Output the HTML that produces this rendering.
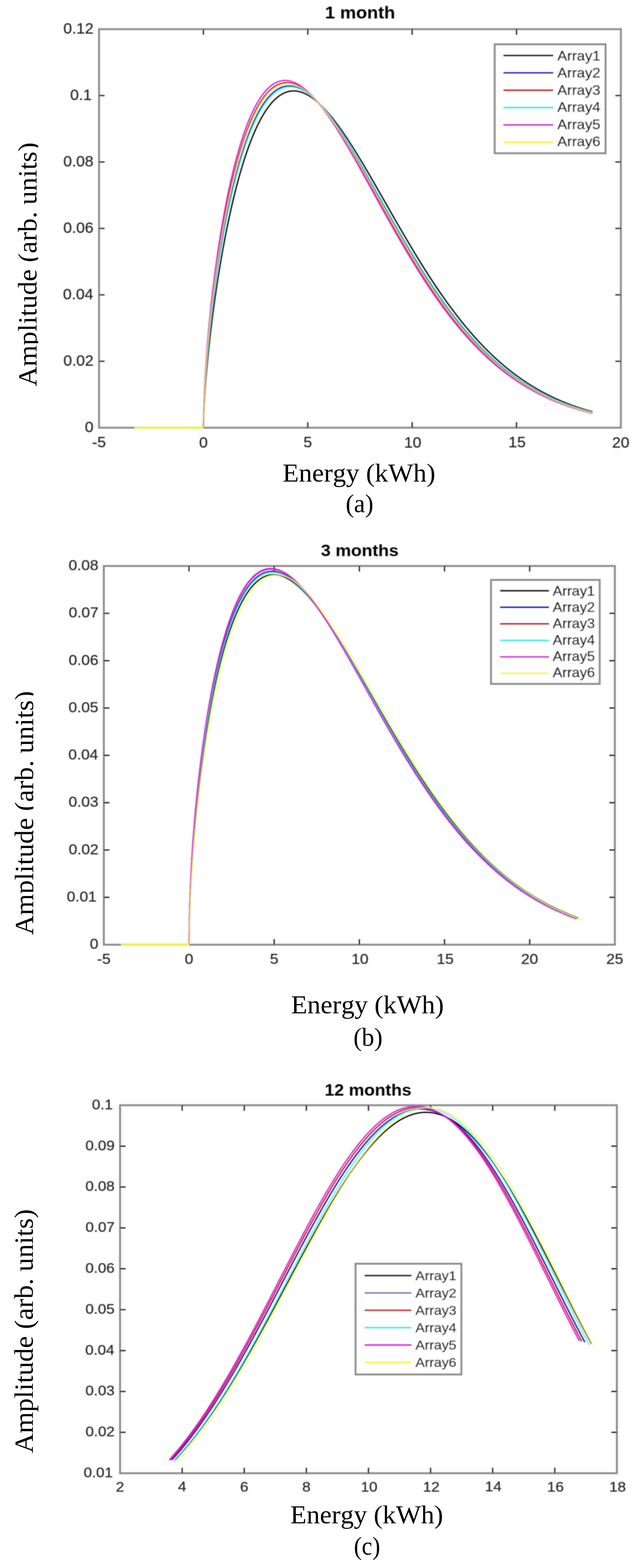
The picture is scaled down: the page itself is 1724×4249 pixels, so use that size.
<!DOCTYPE html>
<html><head><meta charset="utf-8"><title>Energy distribution plots</title>
<style>
html,body{margin:0;padding:0;background:#ffffff;}
svg{display:block;}
text{font-kerning:none;}
</style></head><body>
<svg width="1724" height="4249" viewBox="0 0 1724 4249">
<defs><clipPath id="c0"><rect x="264.5" y="73" width="1422.5" height="1090"/></clipPath><clipPath id="y1"><rect x="0" y="357.9" width="103.5" height="718.1"/></clipPath><clipPath id="c2"><rect x="277.5" y="1527.7" width="1393.2" height="1036.3"/></clipPath><clipPath id="y3"><rect x="0" y="1846" width="90.5" height="716.8"/></clipPath><clipPath id="c4"><rect x="321.4" y="2989" width="1354.8" height="1007.2"/></clipPath><filter id="bl" x="-1%" y="-1%" width="102%" height="102%"><feGaussianBlur stdDeviation="1.0"/></filter></defs>
<rect x="0" y="0" width="1724" height="4249" fill="#ffffff"/>
<g filter="url(#bl)">
<rect x="268.5" y="79" width="1414.5" height="1080" fill="none" stroke="#8c8c8c" stroke-width="5.2"/>
<path d="M551.4,1159 v-15 M551.4,79 v15 M834.3,1159 v-15 M834.3,79 v15 M1117.2,1159 v-15 M1117.2,79 v15 M1400.1,1159 v-15 M1400.1,79 v15 M268.5,979 h15 M1683,979 h-15 M268.5,799 h15 M1683,799 h-15 M268.5,619 h15 M1683,619 h-15 M268.5,439 h15 M1683,439 h-15 M268.5,259 h15 M1683,259 h-15" stroke="#141414" stroke-width="3.2" fill="none"/>
<g clip-path="url(#c0)" fill="none" stroke-width="3.4" stroke-linejoin="round" stroke-linecap="butt">
<path d="M551.4,1159 L551.4,1158.34 L551.41,1157.21 L551.42,1155.8 L551.44,1154.17 L551.47,1152.35 L551.5,1150.37 L551.54,1148.24 L551.59,1145.98 L551.65,1143.59 L551.72,1141.08 L551.79,1138.46 L551.87,1135.74 L551.96,1132.92 L552.06,1130 L552.17,1126.99 L552.29,1123.9 L552.42,1120.71 L552.55,1117.45 L552.7,1114.11 L552.86,1110.69 L553.02,1107.2 L553.2,1103.64 L553.38,1100 L553.57,1096.3 L553.78,1092.53 L553.99,1088.69 L554.22,1084.8 L554.45,1080.84 L554.7,1076.81 L554.95,1072.73 L555.22,1068.59 L555.5,1064.4 L555.78,1060.14 L556.08,1055.83 L556.39,1051.47 L556.71,1047.06 L557.04,1042.59 L557.38,1038.07 L557.73,1033.5 L558.09,1028.88 L558.46,1024.22 L558.85,1019.5 L559.25,1014.74 L559.65,1009.94 L560.07,1005.08 L560.5,1000.19 L560.94,995.25 L561.39,990.26 L561.86,985.24 L562.33,980.17 L562.82,975.06 L563.32,969.92 L563.83,964.73 L564.35,959.5 L564.88,954.24 L565.43,948.94 L565.98,943.6 L566.55,938.23 L567.13,932.82 L567.73,927.38 L568.33,921.9 L568.95,916.39 L569.58,910.85 L570.22,905.27 L570.87,899.66 L571.54,894.03 L572.21,888.36 L572.9,882.67 L573.6,876.94 L574.32,871.19 L575.04,865.41 L575.78,859.61 L576.53,853.78 L577.3,847.92 L578.07,842.04 L578.86,836.14 L579.66,830.22 L580.48,824.27 L581.31,818.3 L582.14,812.31 L583,806.3 L583.86,800.28 L584.74,794.23 L585.63,788.17 L586.53,782.09 L587.45,775.99 L588.38,769.88 L589.32,763.76 L590.27,757.62 L591.24,751.47 L592.22,745.31 L593.21,739.14 L594.22,732.96 L595.24,726.77 L596.27,720.57 L597.32,714.37 L598.37,708.16 L599.45,701.94 L600.53,695.72 L601.63,689.49 L602.74,683.27 L603.87,677.04 L605.01,670.81 L606.16,664.58 L607.32,658.36 L608.5,652.13 L609.69,645.91 L610.9,639.7 L612.12,633.49 L613.35,627.28 L614.59,621.09 L615.85,614.9 L617.13,608.72 L618.41,602.55 L619.71,596.4 L621.03,590.26 L622.35,584.13 L623.7,578.02 L625.05,571.93 L626.42,565.85 L627.8,559.79 L629.2,553.75 L630.61,547.74 L632.03,541.74 L633.47,535.77 L634.92,529.83 L636.38,523.91 L637.86,518.01 L639.36,512.15 L640.86,506.32 L642.38,500.51 L643.92,494.74 L645.47,489 L647.03,483.3 L648.61,477.63 L650.2,472.01 L651.8,466.41 L653.42,460.86 L655.06,455.35 L656.71,449.89 L658.37,444.46 L660.04,439.09 L661.73,433.75 L663.44,428.47 L665.16,423.24 L666.89,418.05 L668.64,412.92 L670.4,407.84 L672.18,402.82 L673.97,397.85 L675.77,392.93 L677.59,388.08 L679.42,383.28 L681.27,378.55 L683.13,373.88 L685.01,369.27 L686.9,364.73 L688.81,360.25 L690.73,355.84 L692.66,351.5 L694.61,347.23 L696.58,343.04 L698.56,338.91 L700.55,334.86 L702.56,330.88 L704.58,326.98 L706.62,323.16 L708.67,319.42 L710.74,315.75 L712.82,312.17 L714.92,308.67 L717.03,305.26 L719.15,301.93 L721.29,298.68 L723.45,295.53 L725.62,292.46 L727.8,289.48 L730,286.59 L732.22,283.8 L734.45,281.09 L736.69,278.48 L738.95,275.97 L741.23,273.55 L743.52,271.23 L745.82,269 L748.14,266.88 L750.48,264.85 L752.83,262.93 L755.19,261.11 L757.57,259.39 L759.97,257.77 L762.38,256.26 L764.8,254.85 L767.24,253.55 L769.7,252.35 L772.17,251.26 L774.65,250.28 L777.15,249.41 L779.67,248.64 L782.2,247.99 L784.75,247.44 L787.31,247.01 L789.88,246.69 L792.48,246.47 L795.08,246.37 L797.71,246.39 L800.34,246.51 L803,246.75 L805.67,247.1 L808.35,247.57 L811.05,248.14 L813.77,248.84 L816.5,249.64 L819.24,250.56 L822,251.59 L824.78,252.74 L827.57,254 L830.38,255.38 L833.2,256.87 L836.04,258.47 L838.9,260.19 L841.77,262.02 L844.65,263.96 L847.55,266.02 L850.47,268.18 L853.4,270.46 L856.35,272.86 L859.31,275.36 L862.29,277.97 L865.28,280.69 L868.29,283.52 L871.32,286.46 L874.36,289.51 L877.42,292.67 L880.49,295.93 L883.58,299.29 L886.69,302.77 L889.81,306.34 L892.94,310.02 L896.09,313.8 L899.26,317.68 L902.44,321.66 L905.64,325.74 L908.86,329.92 L912.09,334.19 L915.34,338.56 L918.6,343.02 L921.88,347.58 L925.17,352.23 L928.48,356.96 L931.81,361.79 L935.15,366.7 L938.51,371.7 L941.88,376.78 L945.27,381.94 L948.68,387.19 L952.1,392.51 L955.54,397.91 L958.99,403.39 L962.46,408.94 L965.95,414.57 L969.45,420.26 L972.97,426.03 L976.51,431.86 L980.06,437.75 L983.62,443.71 L987.21,449.74 L990.81,455.82 L994.42,461.96 L998.05,468.15 L1001.7,474.4 L1005.36,480.7 L1009.04,487.05 L1012.74,493.45 L1016.45,499.9 L1020.18,506.38 L1023.92,512.91 L1027.69,519.48 L1031.46,526.09 L1035.26,532.73 L1039.07,539.41 L1042.89,546.11 L1046.73,552.85 L1050.59,559.61 L1054.47,566.4 L1058.36,573.21 L1062.27,580.04 L1066.19,586.89 L1070.13,593.75 L1074.09,600.63 L1078.06,607.52 L1082.05,614.42 L1086.06,621.33 L1090.08,628.25 L1094.12,635.17 L1098.18,642.09 L1102.25,649.01 L1106.34,655.92 L1110.44,662.84 L1114.56,669.74 L1118.7,676.64 L1122.86,683.53 L1127.03,690.4 L1131.22,697.26 L1135.42,704.1 L1139.64,710.93 L1143.88,717.73 L1148.13,724.51 L1152.4,731.27 L1156.69,738.01 L1160.99,744.71 L1165.32,751.39 L1169.65,758.03 L1174.01,764.65 L1178.38,771.23 L1182.76,777.77 L1187.17,784.27 L1191.59,790.74 L1196.03,797.16 L1200.48,803.55 L1204.95,809.89 L1209.44,816.18 L1213.94,822.43 L1218.46,828.63 L1223,834.78 L1227.56,840.89 L1232.13,846.94 L1236.72,852.93 L1241.32,858.88 L1245.94,864.77 L1250.58,870.6 L1255.24,876.38 L1259.91,882.09 L1264.6,887.75 L1269.31,893.35 L1274.03,898.89 L1278.77,904.37 L1283.52,909.78 L1288.3,915.13 L1293.09,920.42 L1297.9,925.65 L1302.72,930.8 L1307.56,935.9 L1312.42,940.92 L1317.3,945.88 L1322.19,950.78 L1327.1,955.6 L1332.03,960.36 L1336.97,965.05 L1341.93,969.67 L1346.91,974.22 L1351.9,978.71 L1356.91,983.12 L1361.94,987.47 L1366.99,991.75 L1372.05,995.95 L1377.13,1000.09 L1382.23,1004.16 L1387.34,1008.16 L1392.47,1012.09 L1397.62,1015.95 L1402.79,1019.75 L1407.97,1023.47 L1413.17,1027.13 L1418.39,1030.71 L1423.62,1034.23 L1428.87,1037.69 L1434.14,1041.07 L1439.43,1044.39 L1444.73,1047.64 L1450.05,1050.83 L1455.39,1053.95 L1460.74,1057 L1466.12,1060 L1471.5,1062.92 L1476.91,1065.79 L1482.34,1068.59 L1487.78,1071.33 L1493.23,1074 L1498.71,1076.62 L1504.2,1079.18 L1509.71,1081.67 L1515.24,1084.11 L1520.79,1086.49 L1526.35,1088.81 L1531.93,1091.08 L1537.53,1093.28 L1543.14,1095.44 L1548.77,1097.54 L1554.42,1099.58 L1560.09,1101.57 L1565.77,1103.52 L1571.47,1105.4 L1577.19,1107.24 L1582.93,1109.03 L1588.68,1110.77 L1594.46,1112.46 L1600.24,1114.11 L1606.05,1115.71" stroke="#000000"/>
<path d="M551.4,1159 L551.4,1158.04 L551.41,1156.53 L551.42,1154.69 L551.44,1152.61 L551.47,1150.33 L551.5,1147.88 L551.54,1145.26 L551.59,1142.51 L551.65,1139.62 L551.72,1136.62 L551.79,1133.5 L551.87,1130.27 L551.96,1126.95 L552.06,1123.53 L552.17,1120.01 L552.29,1116.41 L552.42,1112.73 L552.55,1108.97 L552.7,1105.12 L552.86,1101.21 L553.02,1097.22 L553.2,1093.15 L553.38,1089.03 L553.57,1084.83 L553.78,1080.57 L553.99,1076.25 L554.22,1071.86 L554.45,1067.42 L554.7,1062.92 L554.95,1058.36 L555.22,1053.75 L555.5,1049.08 L555.78,1044.36 L556.08,1039.58 L556.39,1034.76 L556.71,1029.89 L557.04,1024.96 L557.38,1019.99 L557.73,1014.98 L558.09,1009.91 L558.46,1004.81 L558.85,999.65 L559.25,994.46 L559.65,989.22 L560.07,983.94 L560.5,978.63 L560.94,973.27 L561.39,967.87 L561.86,962.43 L562.33,956.96 L562.82,951.45 L563.32,945.9 L563.83,940.32 L564.35,934.7 L564.88,929.05 L565.43,923.37 L565.98,917.66 L566.55,911.91 L567.13,906.13 L567.73,900.33 L568.33,894.49 L568.95,888.63 L569.58,882.73 L570.22,876.81 L570.87,870.87 L571.54,864.9 L572.21,858.9 L572.9,852.88 L573.6,846.83 L574.32,840.77 L575.04,834.68 L575.78,828.57 L576.53,822.44 L577.3,816.29 L578.07,810.12 L578.86,803.93 L579.66,797.73 L580.48,791.51 L581.31,785.27 L582.14,779.02 L583,772.76 L583.86,766.48 L584.74,760.19 L585.63,753.89 L586.53,747.57 L587.45,741.25 L588.38,734.92 L589.32,728.58 L590.27,722.24 L591.24,715.88 L592.22,709.53 L593.21,703.16 L594.22,696.8 L595.24,690.43 L596.27,684.06 L597.32,677.69 L598.37,671.32 L599.45,664.95 L600.53,658.59 L601.63,652.22 L602.74,645.86 L603.87,639.51 L605.01,633.16 L606.16,626.82 L607.32,620.49 L608.5,614.17 L609.69,607.86 L610.9,601.56 L612.12,595.27 L613.35,589 L614.59,582.74 L615.85,576.5 L617.13,570.27 L618.41,564.07 L619.71,557.88 L621.03,551.71 L622.35,545.57 L623.7,539.45 L625.05,533.35 L626.42,527.27 L627.8,521.23 L629.2,515.21 L630.61,509.22 L632.03,503.26 L633.47,497.33 L634.92,491.43 L636.38,485.57 L637.86,479.74 L639.36,473.95 L640.86,468.2 L642.38,462.48 L643.92,456.81 L645.47,451.18 L647.03,445.59 L648.61,440.04 L650.2,434.54 L651.8,429.08 L653.42,423.67 L655.06,418.31 L656.71,413 L658.37,407.75 L660.04,402.54 L661.73,397.39 L663.44,392.3 L665.16,387.26 L666.89,382.28 L668.64,377.36 L670.4,372.5 L672.18,367.7 L673.97,362.97 L675.77,358.3 L677.59,353.69 L679.42,349.15 L681.27,344.68 L683.13,340.28 L685.01,335.96 L686.9,331.7 L688.81,327.52 L690.73,323.41 L692.66,319.37 L694.61,315.42 L696.58,311.54 L698.56,307.74 L700.55,304.03 L702.56,300.39 L704.58,296.84 L706.62,293.37 L708.67,289.99 L710.74,286.69 L712.82,283.48 L714.92,280.36 L717.03,277.33 L719.15,274.39 L721.29,271.54 L723.45,268.79 L725.62,266.13 L727.8,263.57 L730,261.1 L732.22,258.72 L734.45,256.45 L736.69,254.27 L738.95,252.2 L741.23,250.22 L743.52,248.35 L745.82,246.58 L748.14,244.91 L750.48,243.34 L752.83,241.88 L755.19,240.53 L757.57,239.28 L759.97,238.14 L762.38,237.1 L764.8,236.18 L767.24,235.36 L769.7,234.65 L772.17,234.05 L774.65,233.56 L777.15,233.18 L779.67,232.92 L782.2,232.76 L784.75,232.72 L787.31,232.79 L789.88,232.97 L792.48,233.26 L795.08,233.67 L797.71,234.19 L800.34,234.82 L803,235.56 L805.67,236.42 L808.35,237.4 L811.05,238.48 L813.77,239.68 L816.5,241 L819.24,242.42 L822,243.96 L824.78,245.62 L827.57,247.38 L830.38,249.26 L833.2,251.25 L836.04,253.35 L838.9,255.57 L841.77,257.89 L844.65,260.33 L847.55,262.87 L850.47,265.52 L853.4,268.29 L856.35,271.16 L859.31,274.14 L862.29,277.23 L865.28,280.42 L868.29,283.72 L871.32,287.12 L874.36,290.63 L877.42,294.23 L880.49,297.95 L883.58,301.76 L886.69,305.67 L889.81,309.68 L892.94,313.79 L896.09,317.99 L899.26,322.29 L902.44,326.69 L905.64,331.17 L908.86,335.75 L912.09,340.42 L915.34,345.18 L918.6,350.02 L921.88,354.95 L925.17,359.97 L928.48,365.07 L931.81,370.25 L935.15,375.51 L938.51,380.85 L941.88,386.26 L945.27,391.75 L948.68,397.32 L952.1,402.95 L955.54,408.66 L958.99,414.43 L962.46,420.27 L965.95,426.18 L969.45,432.15 L972.97,438.18 L976.51,444.27 L980.06,450.41 L983.62,456.61 L987.21,462.87 L990.81,469.17 L994.42,475.53 L998.05,481.93 L1001.7,488.38 L1005.36,494.87 L1009.04,501.41 L1012.74,507.98 L1016.45,514.59 L1020.18,521.23 L1023.92,527.91 L1027.69,534.62 L1031.46,541.36 L1035.26,548.13 L1039.07,554.92 L1042.89,561.74 L1046.73,568.57 L1050.59,575.43 L1054.47,582.3 L1058.36,589.18 L1062.27,596.08 L1066.19,602.99 L1070.13,609.91 L1074.09,616.83 L1078.06,623.76 L1082.05,630.69 L1086.06,637.62 L1090.08,644.55 L1094.12,651.47 L1098.18,658.39 L1102.25,665.3 L1106.34,672.21 L1110.44,679.1 L1114.56,685.97 L1118.7,692.84 L1122.86,699.68 L1127.03,706.51 L1131.22,713.31 L1135.42,720.09 L1139.64,726.85 L1143.88,733.58 L1148.13,740.29 L1152.4,746.96 L1156.69,753.61 L1160.99,760.22 L1165.32,766.79 L1169.65,773.33 L1174.01,779.84 L1178.38,786.3 L1182.76,792.72 L1187.17,799.1 L1191.59,805.44 L1196.03,811.74 L1200.48,817.98 L1204.95,824.18 L1209.44,830.33 L1213.94,836.44 L1218.46,842.49 L1223,848.48 L1227.56,854.43 L1232.13,860.32 L1236.72,866.15 L1241.32,871.93 L1245.94,877.65 L1250.58,883.32 L1255.24,888.92 L1259.91,894.47 L1264.6,899.95 L1269.31,905.37 L1274.03,910.73 L1278.77,916.03 L1283.52,921.26 L1288.3,926.43 L1293.09,931.53 L1297.9,936.57 L1302.72,941.55 L1307.56,946.45 L1312.42,951.3 L1317.3,956.07 L1322.19,960.78 L1327.1,965.42 L1332.03,969.99 L1336.97,974.49 L1341.93,978.93 L1346.91,983.3 L1351.9,987.6 L1356.91,991.83 L1361.94,995.99 L1366.99,1000.09 L1372.05,1004.12 L1377.13,1008.07 L1382.23,1011.97 L1387.34,1015.79 L1392.47,1019.54 L1397.62,1023.23 L1402.79,1026.85 L1407.97,1030.4 L1413.17,1033.89 L1418.39,1037.31 L1423.62,1040.67 L1428.87,1043.96 L1434.14,1047.18 L1439.43,1050.34 L1444.73,1053.43 L1450.05,1056.46 L1455.39,1059.43 L1460.74,1062.33 L1466.12,1065.18 L1471.5,1067.96 L1476.91,1070.68 L1482.34,1073.34 L1487.78,1075.94 L1493.23,1078.48 L1498.71,1080.96 L1504.2,1083.38 L1509.71,1085.75 L1515.24,1088.06 L1520.79,1090.31 L1526.35,1092.51 L1531.93,1094.66 L1537.53,1096.75 L1543.14,1098.79 L1548.77,1100.78 L1554.42,1102.71 L1560.09,1104.6 L1565.77,1106.43 L1571.47,1108.22 L1577.19,1109.96 L1582.93,1111.65 L1588.68,1113.29 L1594.46,1114.89 L1600.24,1116.45 L1606.05,1117.96" stroke="#0707c7"/>
<path d="M551.4,1159 L551.4,1157.81 L551.41,1156 L551.42,1153.85 L551.44,1151.45 L551.47,1148.84 L551.5,1146.05 L551.54,1143.1 L551.59,1140 L551.65,1136.78 L551.72,1133.43 L551.79,1129.97 L551.87,1126.41 L551.96,1122.74 L552.06,1118.98 L552.17,1115.13 L552.29,1111.2 L552.42,1107.18 L552.55,1103.08 L552.7,1098.91 L552.86,1094.66 L553.02,1090.35 L553.2,1085.96 L553.38,1081.51 L553.57,1077 L553.78,1072.42 L553.99,1067.78 L554.22,1063.08 L554.45,1058.33 L554.7,1053.52 L554.95,1048.65 L555.22,1043.74 L555.5,1038.77 L555.78,1033.75 L556.08,1028.68 L556.39,1023.56 L556.71,1018.4 L557.04,1013.19 L557.38,1007.93 L557.73,1002.63 L558.09,997.29 L558.46,991.91 L558.85,986.48 L559.25,981.01 L559.65,975.51 L560.07,969.96 L560.5,964.38 L560.94,958.76 L561.39,953.11 L561.86,947.42 L562.33,941.69 L562.82,935.93 L563.32,930.14 L563.83,924.32 L564.35,918.46 L564.88,912.58 L565.43,906.66 L565.98,900.72 L566.55,894.74 L567.13,888.74 L567.73,882.71 L568.33,876.66 L568.95,870.58 L569.58,864.48 L570.22,858.35 L570.87,852.2 L571.54,846.03 L572.21,839.83 L572.9,833.62 L573.6,827.38 L574.32,821.13 L575.04,814.86 L575.78,808.57 L576.53,802.26 L577.3,795.94 L578.07,789.6 L578.86,783.25 L579.66,776.88 L580.48,770.5 L581.31,764.11 L582.14,757.71 L583,751.3 L583.86,744.87 L584.74,738.44 L585.63,732.01 L586.53,725.56 L587.45,719.11 L588.38,712.66 L589.32,706.2 L590.27,699.74 L591.24,693.27 L592.22,686.81 L593.21,680.34 L594.22,673.87 L595.24,667.41 L596.27,660.95 L597.32,654.49 L598.37,648.04 L599.45,641.59 L600.53,635.15 L601.63,628.72 L602.74,622.29 L603.87,615.88 L605.01,609.47 L606.16,603.08 L607.32,596.7 L608.5,590.33 L609.69,583.98 L610.9,577.65 L612.12,571.33 L613.35,565.03 L614.59,558.75 L615.85,552.49 L617.13,546.26 L618.41,540.04 L619.71,533.85 L621.03,527.69 L622.35,521.55 L623.7,515.44 L625.05,509.35 L626.42,503.3 L627.8,497.28 L629.2,491.29 L630.61,485.34 L632.03,479.42 L633.47,473.53 L634.92,467.68 L636.38,461.87 L637.86,456.11 L639.36,450.38 L640.86,444.69 L642.38,439.05 L643.92,433.45 L645.47,427.9 L647.03,422.4 L648.61,416.94 L650.2,411.54 L651.8,406.18 L653.42,400.88 L655.06,395.63 L656.71,390.44 L658.37,385.3 L660.04,380.22 L661.73,375.2 L663.44,370.24 L665.16,365.34 L666.89,360.51 L668.64,355.74 L670.4,351.03 L672.18,346.39 L673.97,341.81 L675.77,337.31 L677.59,332.88 L679.42,328.51 L681.27,324.22 L683.13,320.01 L685.01,315.87 L686.9,311.8 L688.81,307.82 L690.73,303.91 L692.66,300.08 L694.61,296.33 L696.58,292.67 L698.56,289.09 L700.55,285.59 L702.56,282.18 L704.58,278.85 L706.62,275.62 L708.67,272.47 L710.74,269.41 L712.82,266.45 L714.92,263.57 L717.03,260.79 L719.15,258.11 L721.29,255.51 L723.45,253.02 L725.62,250.62 L727.8,248.32 L730,246.12 L732.22,244.02 L734.45,242.02 L736.69,240.12 L738.95,238.32 L741.23,236.63 L743.52,235.04 L745.82,233.55 L748.14,232.17 L750.48,230.9 L752.83,229.73 L755.19,228.67 L757.57,227.72 L759.97,226.88 L762.38,226.14 L764.8,225.52 L767.24,225 L769.7,224.6 L772.17,224.3 L774.65,224.12 L777.15,224.05 L779.67,224.09 L782.2,224.25 L784.75,224.51 L787.31,224.89 L789.88,225.38 L792.48,225.99 L795.08,226.7 L797.71,227.53 L800.34,228.48 L803,229.53 L805.67,230.71 L808.35,231.99 L811.05,233.39 L813.77,234.9 L816.5,236.52 L819.24,238.25 L822,240.1 L824.78,242.06 L827.57,244.13 L830.38,246.31 L833.2,248.6 L836.04,251.01 L838.9,253.52 L841.77,256.14 L844.65,258.87 L847.55,261.71 L850.47,264.66 L853.4,267.71 L856.35,270.87 L859.31,274.13 L862.29,277.5 L865.28,280.98 L868.29,284.55 L871.32,288.23 L874.36,292 L877.42,295.88 L880.49,299.86 L883.58,303.93 L886.69,308.1 L889.81,312.37 L892.94,316.73 L896.09,321.18 L899.26,325.72 L902.44,330.36 L905.64,335.08 L908.86,339.89 L912.09,344.79 L915.34,349.77 L918.6,354.84 L921.88,359.99 L925.17,365.22 L928.48,370.52 L931.81,375.91 L935.15,381.37 L938.51,386.9 L941.88,392.51 L945.27,398.18 L948.68,403.93 L952.1,409.74 L955.54,415.62 L958.99,421.56 L962.46,427.56 L965.95,433.63 L969.45,439.75 L972.97,445.92 L976.51,452.16 L980.06,458.44 L983.62,464.77 L987.21,471.16 L990.81,477.58 L994.42,484.06 L998.05,490.57 L1001.7,497.13 L1005.36,503.72 L1009.04,510.35 L1012.74,517.02 L1016.45,523.72 L1020.18,530.45 L1023.92,537.2 L1027.69,543.98 L1031.46,550.79 L1035.26,557.62 L1039.07,564.47 L1042.89,571.34 L1046.73,578.22 L1050.59,585.12 L1054.47,592.03 L1058.36,598.95 L1062.27,605.87 L1066.19,612.81 L1070.13,619.74 L1074.09,626.68 L1078.06,633.62 L1082.05,640.56 L1086.06,647.49 L1090.08,654.42 L1094.12,661.33 L1098.18,668.24 L1102.25,675.14 L1106.34,682.02 L1110.44,688.89 L1114.56,695.74 L1118.7,702.57 L1122.86,709.38 L1127.03,716.17 L1131.22,722.93 L1135.42,729.67 L1139.64,736.38 L1143.88,743.06 L1148.13,749.71 L1152.4,756.33 L1156.69,762.91 L1160.99,769.46 L1165.32,775.97 L1169.65,782.44 L1174.01,788.87 L1178.38,795.25 L1182.76,801.6 L1187.17,807.9 L1191.59,814.15 L1196.03,820.36 L1200.48,826.52 L1204.95,832.63 L1209.44,838.69 L1213.94,844.7 L1218.46,850.66 L1223,856.56 L1227.56,862.41 L1232.13,868.2 L1236.72,873.93 L1241.32,879.61 L1245.94,885.22 L1250.58,890.78 L1255.24,896.28 L1259.91,901.72 L1264.6,907.09 L1269.31,912.41 L1274.03,917.66 L1278.77,922.85 L1283.52,927.97 L1288.3,933.03 L1293.09,938.02 L1297.9,942.95 L1302.72,947.81 L1307.56,952.61 L1312.42,957.34 L1317.3,962 L1322.19,966.6 L1327.1,971.12 L1332.03,975.59 L1336.97,979.98 L1341.93,984.31 L1346.91,988.56 L1351.9,992.75 L1356.91,996.88 L1361.94,1000.93 L1366.99,1004.92 L1372.05,1008.84 L1377.13,1012.69 L1382.23,1016.48 L1387.34,1020.2 L1392.47,1023.85 L1397.62,1027.43 L1402.79,1030.95 L1407.97,1034.4 L1413.17,1037.79 L1418.39,1041.11 L1423.62,1044.37 L1428.87,1047.56 L1434.14,1050.69 L1439.43,1053.76 L1444.73,1056.76 L1450.05,1059.7 L1455.39,1062.58 L1460.74,1065.4 L1466.12,1068.15 L1471.5,1070.85 L1476.91,1073.48 L1482.34,1076.06 L1487.78,1078.58 L1493.23,1081.04 L1498.71,1083.44 L1504.2,1085.79 L1509.71,1088.08 L1515.24,1090.32 L1520.79,1092.5 L1526.35,1094.63 L1531.93,1096.7 L1537.53,1098.73 L1543.14,1100.7 L1548.77,1102.62 L1554.42,1104.49 L1560.09,1106.32 L1565.77,1108.09 L1571.47,1109.82 L1577.19,1111.5 L1582.93,1113.14 L1588.68,1114.73 L1594.46,1116.27 L1600.24,1117.78 L1606.05,1119.24" stroke="#d21313"/>
<path d="M551.4,1159 L551.4,1158.11 L551.41,1156.68 L551.42,1154.94 L551.44,1152.96 L551.47,1150.78 L551.5,1148.43 L551.54,1145.92 L551.59,1143.27 L551.65,1140.49 L551.72,1137.59 L551.79,1134.58 L551.87,1131.46 L551.96,1128.24 L552.06,1124.93 L552.17,1121.52 L552.29,1118.03 L552.42,1114.45 L552.55,1110.79 L552.7,1107.05 L552.86,1103.24 L553.02,1099.35 L553.2,1095.4 L553.38,1091.37 L553.57,1087.28 L553.78,1083.12 L553.99,1078.9 L554.22,1074.61 L554.45,1070.27 L554.7,1065.87 L554.95,1061.41 L555.22,1056.89 L555.5,1052.32 L555.78,1047.7 L556.08,1043.02 L556.39,1038.29 L556.71,1033.51 L557.04,1028.68 L557.38,1023.81 L557.73,1018.88 L558.09,1013.91 L558.46,1008.89 L558.85,1003.83 L559.25,998.72 L559.65,993.57 L560.07,988.38 L560.5,983.15 L560.94,977.88 L561.39,972.56 L561.86,967.21 L562.33,961.82 L562.82,956.39 L563.32,950.92 L563.83,945.42 L564.35,939.89 L564.88,934.31 L565.43,928.71 L565.98,923.07 L566.55,917.4 L567.13,911.7 L567.73,905.96 L568.33,900.2 L568.95,894.4 L569.58,888.58 L570.22,882.73 L570.87,876.85 L571.54,870.95 L572.21,865.02 L572.9,859.06 L573.6,853.08 L574.32,847.08 L575.04,841.05 L575.78,835 L576.53,828.93 L577.3,822.84 L578.07,816.73 L578.86,810.6 L579.66,804.45 L580.48,798.28 L581.31,792.1 L582.14,785.9 L583,779.68 L583.86,773.46 L584.74,767.21 L585.63,760.96 L586.53,754.69 L587.45,748.41 L588.38,742.12 L589.32,735.83 L590.27,729.52 L591.24,723.21 L592.22,716.89 L593.21,710.56 L594.22,704.23 L595.24,697.9 L596.27,691.56 L597.32,685.22 L598.37,678.88 L599.45,672.54 L600.53,666.2 L601.63,659.87 L602.74,653.53 L603.87,647.2 L605.01,640.87 L606.16,634.56 L607.32,628.24 L608.5,621.94 L609.69,615.64 L610.9,609.36 L612.12,603.08 L613.35,596.82 L614.59,590.57 L615.85,584.34 L617.13,578.12 L618.41,571.92 L619.71,565.74 L621.03,559.57 L622.35,553.43 L623.7,547.3 L625.05,541.2 L626.42,535.13 L627.8,529.08 L629.2,523.05 L630.61,517.05 L632.03,511.08 L633.47,505.14 L634.92,499.23 L636.38,493.36 L637.86,487.51 L639.36,481.7 L640.86,475.93 L642.38,470.19 L643.92,464.5 L645.47,458.84 L647.03,453.22 L648.61,447.65 L650.2,442.12 L651.8,436.63 L653.42,431.19 L655.06,425.8 L656.71,420.46 L658.37,415.16 L660.04,409.92 L661.73,404.73 L663.44,399.59 L665.16,394.51 L666.89,389.49 L668.64,384.52 L670.4,379.61 L672.18,374.77 L673.97,369.98 L675.77,365.26 L677.59,360.6 L679.42,356.01 L681.27,351.48 L683.13,347.03 L685.01,342.64 L686.9,338.32 L688.81,334.08 L690.73,329.9 L692.66,325.81 L694.61,321.78 L696.58,317.84 L698.56,313.97 L700.55,310.18 L702.56,306.48 L704.58,302.85 L706.62,299.31 L708.67,295.85 L710.74,292.48 L712.82,289.19 L714.92,285.99 L717.03,282.88 L719.15,279.86 L721.29,276.93 L723.45,274.1 L725.62,271.35 L727.8,268.7 L730,266.14 L732.22,263.68 L734.45,261.32 L736.69,259.06 L738.95,256.89 L741.23,254.82 L743.52,252.86 L745.82,250.99 L748.14,249.23 L750.48,247.57 L752.83,246.02 L755.19,244.57 L757.57,243.22 L759.97,241.98 L762.38,240.85 L764.8,239.82 L767.24,238.91 L769.7,238.1 L772.17,237.4 L774.65,236.81 L777.15,236.33 L779.67,235.96 L782.2,235.71 L784.75,235.56 L787.31,235.53 L789.88,235.6 L792.48,235.8 L795.08,236.1 L797.71,236.52 L800.34,237.05 L803,237.69 L805.67,238.45 L808.35,239.32 L811.05,240.3 L813.77,241.4 L816.5,242.61 L819.24,243.93 L822,245.37 L824.78,246.92 L827.57,248.59 L830.38,250.36 L833.2,252.25 L836.04,254.26 L838.9,256.37 L841.77,258.6 L844.65,260.93 L847.55,263.38 L850.47,265.94 L853.4,268.6 L856.35,271.38 L859.31,274.26 L862.29,277.26 L865.28,280.35 L868.29,283.56 L871.32,286.87 L874.36,290.28 L877.42,293.8 L880.49,297.43 L883.58,301.15 L886.69,304.97 L889.81,308.9 L892.94,312.92 L896.09,317.04 L899.26,321.26 L902.44,325.57 L905.64,329.98 L908.86,334.48 L912.09,339.07 L915.34,343.75 L918.6,348.52 L921.88,353.37 L925.17,358.32 L928.48,363.35 L931.81,368.46 L935.15,373.65 L938.51,378.92 L941.88,384.27 L945.27,389.7 L948.68,395.2 L952.1,400.78 L955.54,406.42 L958.99,412.14 L962.46,417.92 L965.95,423.78 L969.45,429.69 L972.97,435.67 L976.51,441.71 L980.06,447.81 L983.62,453.96 L987.21,460.17 L990.81,466.43 L994.42,472.75 L998.05,479.11 L1001.7,485.52 L1005.36,491.98 L1009.04,498.48 L1012.74,505.02 L1016.45,511.6 L1020.18,518.21 L1023.92,524.86 L1027.69,531.55 L1031.46,538.26 L1035.26,545.01 L1039.07,551.78 L1042.89,558.57 L1046.73,565.39 L1050.59,572.23 L1054.47,579.08 L1058.36,585.96 L1062.27,592.84 L1066.19,599.74 L1070.13,606.65 L1074.09,613.57 L1078.06,620.49 L1082.05,627.41 L1086.06,634.34 L1090.08,641.27 L1094.12,648.2 L1098.18,655.12 L1102.25,662.03 L1106.34,668.94 L1110.44,675.84 L1114.56,682.72 L1118.7,689.59 L1122.86,696.45 L1127.03,703.28 L1131.22,710.1 L1135.42,716.9 L1139.64,723.67 L1143.88,730.42 L1148.13,737.14 L1152.4,743.83 L1156.69,750.5 L1160.99,757.13 L1165.32,763.72 L1169.65,770.29 L1174.01,776.81 L1178.38,783.3 L1182.76,789.75 L1187.17,796.16 L1191.59,802.52 L1196.03,808.84 L1200.48,815.12 L1204.95,821.34 L1209.44,827.52 L1213.94,833.66 L1218.46,839.74 L1223,845.77 L1227.56,851.74 L1232.13,857.67 L1236.72,863.54 L1241.32,869.35 L1245.94,875.1 L1250.58,880.8 L1255.24,886.44 L1259.91,892.02 L1264.6,897.54 L1269.31,903 L1274.03,908.39 L1278.77,913.72 L1283.52,918.99 L1288.3,924.2 L1293.09,929.34 L1297.9,934.42 L1302.72,939.43 L1307.56,944.37 L1312.42,949.25 L1317.3,954.06 L1322.19,958.81 L1327.1,963.48 L1332.03,968.09 L1336.97,972.64 L1341.93,977.11 L1346.91,981.51 L1351.9,985.85 L1356.91,990.12 L1361.94,994.32 L1366.99,998.45 L1372.05,1002.51 L1377.13,1006.51 L1382.23,1010.43 L1387.34,1014.29 L1392.47,1018.08 L1397.62,1021.8 L1402.79,1025.46 L1407.97,1029.04 L1413.17,1032.57 L1418.39,1036.02 L1423.62,1039.41 L1428.87,1042.73 L1434.14,1045.98 L1439.43,1049.17 L1444.73,1052.3 L1450.05,1055.36 L1455.39,1058.36 L1460.74,1061.29 L1466.12,1064.16 L1471.5,1066.97 L1476.91,1069.72 L1482.34,1072.41 L1487.78,1075.04 L1493.23,1077.6 L1498.71,1080.11 L1504.2,1082.56 L1509.71,1084.95 L1515.24,1087.29 L1520.79,1089.57 L1526.35,1091.79 L1531.93,1093.96 L1537.53,1096.07 L1543.14,1098.13 L1548.77,1100.14 L1554.42,1102.1 L1560.09,1104.01 L1565.77,1105.86 L1571.47,1107.67 L1577.19,1109.43 L1582.93,1111.14 L1588.68,1112.8 L1594.46,1114.42 L1600.24,1115.99 L1606.05,1117.52" stroke="#2decec" stroke-opacity="0.75"/>
<path d="M551.4,1159 L551.4,1157.62 L551.41,1155.59 L551.42,1153.21 L551.44,1150.56 L551.47,1147.71 L551.5,1144.67 L551.54,1141.47 L551.59,1138.13 L551.65,1134.66 L551.72,1131.06 L551.79,1127.36 L551.87,1123.55 L551.96,1119.64 L552.06,1115.64 L552.17,1111.55 L552.29,1107.38 L552.42,1103.12 L552.55,1098.79 L552.7,1094.38 L552.86,1089.91 L553.02,1085.36 L553.2,1080.75 L553.38,1076.07 L553.57,1071.33 L553.78,1066.53 L553.99,1061.67 L554.22,1056.76 L554.45,1051.79 L554.7,1046.76 L554.95,1041.69 L555.22,1036.56 L555.5,1031.38 L555.78,1026.16 L556.08,1020.88 L556.39,1015.56 L556.71,1010.2 L557.04,1004.79 L557.38,999.34 L557.73,993.85 L558.09,988.31 L558.46,982.74 L558.85,977.12 L559.25,971.47 L559.65,965.78 L560.07,960.06 L560.5,954.3 L560.94,948.5 L561.39,942.67 L561.86,936.81 L562.33,930.91 L562.82,924.99 L563.32,919.03 L563.83,913.04 L564.35,907.03 L564.88,900.98 L565.43,894.91 L565.98,888.81 L566.55,882.69 L567.13,876.54 L567.73,870.36 L568.33,864.16 L568.95,857.94 L569.58,851.7 L570.22,845.43 L570.87,839.15 L571.54,832.84 L572.21,826.51 L572.9,820.17 L573.6,813.81 L574.32,807.43 L575.04,801.04 L575.78,794.63 L576.53,788.21 L577.3,781.77 L578.07,775.32 L578.86,768.86 L579.66,762.39 L580.48,755.91 L581.31,749.42 L582.14,742.92 L583,736.41 L583.86,729.9 L584.74,723.38 L585.63,716.85 L586.53,710.32 L587.45,703.79 L588.38,697.26 L589.32,690.72 L590.27,684.19 L591.24,677.65 L592.22,671.12 L593.21,664.59 L594.22,658.06 L595.24,651.54 L596.27,645.02 L597.32,638.51 L598.37,632.01 L599.45,625.52 L600.53,619.03 L601.63,612.56 L602.74,606.09 L603.87,599.64 L605.01,593.21 L606.16,586.79 L607.32,580.38 L608.5,573.99 L609.69,567.62 L610.9,561.27 L612.12,554.94 L613.35,548.63 L614.59,542.35 L615.85,536.08 L617.13,529.85 L618.41,523.63 L619.71,517.45 L621.03,511.29 L622.35,505.17 L623.7,499.07 L625.05,493.01 L626.42,486.98 L627.8,480.98 L629.2,475.02 L630.61,469.1 L632.03,463.21 L633.47,457.36 L634.92,451.56 L636.38,445.79 L637.86,440.07 L639.36,434.39 L640.86,428.76 L642.38,423.18 L643.92,417.64 L645.47,412.15 L647.03,406.72 L648.61,401.33 L650.2,396 L651.8,390.72 L653.42,385.5 L655.06,380.34 L656.71,375.23 L658.37,370.18 L660.04,365.19 L661.73,360.27 L663.44,355.41 L665.16,350.61 L666.89,345.88 L668.64,341.21 L670.4,336.62 L672.18,332.09 L673.97,327.63 L675.77,323.25 L677.59,318.94 L679.42,314.7 L681.27,310.54 L683.13,306.46 L685.01,302.45 L686.9,298.52 L688.81,294.68 L690.73,290.91 L692.66,287.23 L694.61,283.63 L696.58,280.11 L698.56,276.68 L700.55,273.34 L702.56,270.09 L704.58,266.93 L706.62,263.85 L708.67,260.87 L710.74,257.98 L712.82,255.18 L714.92,252.48 L717.03,249.88 L719.15,247.37 L721.29,244.95 L723.45,242.64 L725.62,240.42 L727.8,238.31 L730,236.29 L732.22,234.38 L734.45,232.57 L736.69,230.86 L738.95,229.25 L741.23,227.75 L743.52,226.36 L745.82,225.07 L748.14,223.89 L750.48,222.82 L752.83,221.85 L755.19,220.99 L757.57,220.24 L759.97,219.6 L762.38,219.07 L764.8,218.65 L767.24,218.35 L769.7,218.15 L772.17,218.06 L774.65,218.09 L777.15,218.23 L779.67,218.48 L782.2,218.84 L784.75,219.32 L787.31,219.9 L789.88,220.61 L792.48,221.42 L795.08,222.35 L797.71,223.39 L800.34,224.54 L803,225.81 L805.67,227.19 L808.35,228.68 L811.05,230.29 L813.77,232.01 L816.5,233.84 L819.24,235.78 L822,237.83 L824.78,240 L827.57,242.27 L830.38,244.66 L833.2,247.15 L836.04,249.75 L838.9,252.47 L841.77,255.29 L844.65,258.21 L847.55,261.25 L850.47,264.39 L853.4,267.63 L856.35,270.98 L859.31,274.44 L862.29,277.99 L865.28,281.65 L868.29,285.41 L871.32,289.26 L874.36,293.22 L877.42,297.27 L880.49,301.43 L883.58,305.67 L886.69,310.01 L889.81,314.44 L892.94,318.97 L896.09,323.58 L899.26,328.29 L902.44,333.08 L905.64,337.96 L908.86,342.92 L912.09,347.97 L915.34,353.1 L918.6,358.31 L921.88,363.6 L925.17,368.96 L928.48,374.41 L931.81,379.92 L935.15,385.51 L938.51,391.17 L941.88,396.9 L945.27,402.69 L948.68,408.56 L952.1,414.48 L955.54,420.47 L958.99,426.52 L962.46,432.62 L965.95,438.79 L969.45,445 L972.97,451.27 L976.51,457.6 L980.06,463.97 L983.62,470.38 L987.21,476.84 L990.81,483.35 L994.42,489.9 L998.05,496.48 L1001.7,503.1 L1005.36,509.76 L1009.04,516.45 L1012.74,523.17 L1016.45,529.93 L1020.18,536.7 L1023.92,543.51 L1027.69,550.33 L1031.46,557.18 L1035.26,564.04 L1039.07,570.93 L1042.89,577.82 L1046.73,584.73 L1050.59,591.66 L1054.47,598.59 L1058.36,605.52 L1062.27,612.46 L1066.19,619.41 L1070.13,626.35 L1074.09,633.3 L1078.06,640.24 L1082.05,647.18 L1086.06,654.1 L1090.08,661.02 L1094.12,667.93 L1098.18,674.83 L1102.25,681.71 L1106.34,688.58 L1110.44,695.43 L1114.56,702.26 L1118.7,709.07 L1122.86,715.85 L1127.03,722.61 L1131.22,729.34 L1135.42,736.04 L1139.64,742.72 L1143.88,749.36 L1148.13,755.97 L1152.4,762.54 L1156.69,769.08 L1160.99,775.58 L1165.32,782.04 L1169.65,788.47 L1174.01,794.84 L1178.38,801.18 L1182.76,807.47 L1187.17,813.72 L1191.59,819.91 L1196.03,826.06 L1200.48,832.16 L1204.95,838.21 L1209.44,844.21 L1213.94,850.15 L1218.46,856.04 L1223,861.88 L1227.56,867.66 L1232.13,873.38 L1236.72,879.05 L1241.32,884.66 L1245.94,890.2 L1250.58,895.69 L1255.24,901.12 L1259.91,906.48 L1264.6,911.79 L1269.31,917.03 L1274.03,922.2 L1278.77,927.32 L1283.52,932.37 L1288.3,937.35 L1293.09,942.27 L1297.9,947.12 L1302.72,951.91 L1307.56,956.63 L1312.42,961.29 L1317.3,965.88 L1322.19,970.4 L1327.1,974.85 L1332.03,979.24 L1336.97,983.56 L1341.93,987.81 L1346.91,992 L1351.9,996.12 L1356.91,1000.17 L1361.94,1004.15 L1366.99,1008.07 L1372.05,1011.92 L1377.13,1015.7 L1382.23,1019.41 L1387.34,1023.06 L1392.47,1026.65 L1397.62,1030.17 L1402.79,1033.62 L1407.97,1037 L1413.17,1040.33 L1418.39,1043.58 L1423.62,1046.78 L1428.87,1049.91 L1434.14,1052.97 L1439.43,1055.98 L1444.73,1058.92 L1450.05,1061.8 L1455.39,1064.62 L1460.74,1067.38 L1466.12,1070.08 L1471.5,1072.72 L1476.91,1075.3 L1482.34,1077.82 L1487.78,1080.29 L1493.23,1082.7 L1498.71,1085.05 L1504.2,1087.35 L1509.71,1089.59 L1515.24,1091.78 L1520.79,1093.91 L1526.35,1095.99 L1531.93,1098.03 L1537.53,1100.01 L1543.14,1101.93 L1548.77,1103.81 L1554.42,1105.65 L1560.09,1107.43 L1565.77,1109.17 L1571.47,1110.86 L1577.19,1112.5 L1582.93,1114.1 L1588.68,1115.65 L1594.46,1117.17 L1600.24,1118.63 L1606.05,1120.06" stroke="#da1ada"/>
<path d="M551.4,1159 L551.4,1157.91 L551.41,1156.22 L551.42,1154.21 L551.44,1151.94 L551.47,1149.47 L551.5,1146.81 L551.54,1144 L551.59,1141.05 L551.65,1137.96 L551.72,1134.76 L551.79,1131.44 L551.87,1128.01 L551.96,1124.49 L552.06,1120.86 L552.17,1117.15 L552.29,1113.35 L552.42,1109.47 L552.55,1105.51 L552.7,1101.47 L552.86,1097.36 L553.02,1093.18 L553.2,1088.93 L553.38,1084.61 L553.57,1080.22 L553.78,1075.77 L553.99,1071.26 L554.22,1066.69 L554.45,1062.07 L554.7,1057.38 L554.95,1052.64 L555.22,1047.85 L555.5,1043 L555.78,1038.1 L556.08,1033.15 L556.39,1028.15 L556.71,1023.11 L557.04,1018.01 L557.38,1012.87 L557.73,1007.69 L558.09,1002.46 L558.46,997.18 L558.85,991.87 L559.25,986.51 L559.65,981.12 L560.07,975.68 L560.5,970.2 L560.94,964.69 L561.39,959.14 L561.86,953.55 L562.33,947.92 L562.82,942.27 L563.32,936.57 L563.83,930.85 L564.35,925.09 L564.88,919.3 L565.43,913.47 L565.98,907.62 L566.55,901.74 L567.13,895.83 L567.73,889.89 L568.33,883.92 L568.95,877.93 L569.58,871.91 L570.22,865.87 L570.87,859.8 L571.54,853.7 L572.21,847.59 L572.9,841.45 L573.6,835.29 L574.32,829.11 L575.04,822.91 L575.78,816.7 L576.53,810.46 L577.3,804.2 L578.07,797.93 L578.86,791.65 L579.66,785.35 L580.48,779.03 L581.31,772.7 L582.14,766.36 L583,760 L583.86,753.64 L584.74,747.26 L585.63,740.88 L586.53,734.49 L587.45,728.09 L588.38,721.68 L589.32,715.27 L590.27,708.85 L591.24,702.43 L592.22,696.01 L593.21,689.58 L594.22,683.16 L595.24,676.73 L596.27,670.3 L597.32,663.88 L598.37,657.46 L599.45,651.04 L600.53,644.63 L601.63,638.22 L602.74,631.82 L603.87,625.43 L605.01,619.05 L606.16,612.68 L607.32,606.31 L608.5,599.96 L609.69,593.63 L610.9,587.31 L612.12,581 L613.35,574.71 L614.59,568.44 L615.85,562.18 L617.13,555.95 L618.41,549.74 L619.71,543.54 L621.03,537.38 L622.35,531.23 L623.7,525.12 L625.05,519.03 L626.42,512.96 L627.8,506.93 L629.2,500.93 L630.61,494.96 L632.03,489.02 L633.47,483.12 L634.92,477.25 L636.38,471.42 L637.86,465.62 L639.36,459.87 L640.86,454.15 L642.38,448.48 L643.92,442.85 L645.47,437.26 L647.03,431.72 L648.61,426.23 L650.2,420.78 L651.8,415.39 L653.42,410.04 L655.06,404.74 L656.71,399.5 L658.37,394.32 L660.04,389.18 L661.73,384.11 L663.44,379.09 L665.16,374.14 L666.89,369.24 L668.64,364.41 L670.4,359.64 L672.18,354.93 L673.97,350.29 L675.77,345.72 L677.59,341.22 L679.42,336.78 L681.27,332.42 L683.13,328.13 L685.01,323.91 L686.9,319.77 L688.81,315.7 L690.73,311.71 L692.66,307.8 L694.61,303.96 L696.58,300.21 L698.56,296.54 L700.55,292.96 L702.56,289.45 L704.58,286.04 L706.62,282.7 L708.67,279.46 L710.74,276.31 L712.82,273.24 L714.92,270.27 L717.03,267.39 L719.15,264.6 L721.29,261.9 L723.45,259.3 L725.62,256.8 L727.8,254.39 L730,252.08 L732.22,249.87 L734.45,247.76 L736.69,245.74 L738.95,243.84 L741.23,242.03 L743.52,240.32 L745.82,238.72 L748.14,237.22 L750.48,235.83 L752.83,234.55 L755.19,233.37 L757.57,232.3 L759.97,231.33 L762.38,230.48 L764.8,229.73 L767.24,229.09 L769.7,228.57 L772.17,228.15 L774.65,227.84 L777.15,227.65 L779.67,227.57 L782.2,227.59 L784.75,227.74 L787.31,227.99 L789.88,228.36 L792.48,228.83 L795.08,229.43 L797.71,230.13 L800.34,230.95 L803,231.88 L805.67,232.93 L808.35,234.09 L811.05,235.36 L813.77,236.75 L816.5,238.24 L819.24,239.86 L822,241.58 L824.78,243.42 L827.57,245.36 L830.38,247.42 L833.2,249.6 L836.04,251.88 L838.9,254.27 L841.77,256.77 L844.65,259.39 L847.55,262.11 L850.47,264.94 L853.4,267.88 L856.35,270.92 L859.31,274.07 L862.29,277.33 L865.28,280.69 L868.29,284.15 L871.32,287.72 L874.36,291.39 L877.42,295.16 L880.49,299.03 L883.58,303 L886.69,307.07 L889.81,311.23 L892.94,315.49 L896.09,319.84 L899.26,324.29 L902.44,328.83 L905.64,333.46 L908.86,338.18 L912.09,342.99 L915.34,347.88 L918.6,352.86 L921.88,357.92 L925.17,363.06 L928.48,368.29 L931.81,373.59 L935.15,378.97 L938.51,384.43 L941.88,389.96 L945.27,395.56 L948.68,401.24 L952.1,406.98 L955.54,412.79 L958.99,418.67 L962.46,424.6 L965.95,430.61 L969.45,436.67 L972.97,442.79 L976.51,448.96 L980.06,455.19 L983.62,461.47 L987.21,467.8 L990.81,474.18 L994.42,480.61 L998.05,487.08 L1001.7,493.6 L1005.36,500.15 L1009.04,506.75 L1012.74,513.38 L1016.45,520.04 L1020.18,526.74 L1023.92,533.46 L1027.69,540.22 L1031.46,547 L1035.26,553.8 L1039.07,560.63 L1042.89,567.48 L1046.73,574.34 L1050.59,581.22 L1054.47,588.12 L1058.36,595.03 L1062.27,601.94 L1066.19,608.87 L1070.13,615.8 L1074.09,622.73 L1078.06,629.67 L1082.05,636.6 L1086.06,643.53 L1090.08,650.46 L1094.12,657.38 L1098.18,664.3 L1102.25,671.2 L1106.34,678.09 L1110.44,684.97 L1114.56,691.83 L1118.7,698.68 L1122.86,705.5 L1127.03,712.31 L1131.22,719.09 L1135.42,725.84 L1139.64,732.57 L1143.88,739.27 L1148.13,745.95 L1152.4,752.59 L1156.69,759.19 L1160.99,765.77 L1165.32,772.3 L1169.65,778.8 L1174.01,785.26 L1178.38,791.68 L1182.76,798.06 L1187.17,804.39 L1191.59,810.68 L1196.03,816.92 L1200.48,823.12 L1204.95,829.27 L1209.44,835.36 L1213.94,841.41 L1218.46,847.4 L1223,853.34 L1227.56,859.23 L1232.13,865.06 L1236.72,870.83 L1241.32,876.55 L1245.94,882.21 L1250.58,887.81 L1255.24,893.35 L1259.91,898.83 L1264.6,904.25 L1269.31,909.61 L1274.03,914.9 L1278.77,920.13 L1283.52,925.3 L1288.3,930.4 L1293.09,935.44 L1297.9,940.42 L1302.72,945.32 L1307.56,950.16 L1312.42,954.94 L1317.3,959.64 L1322.19,964.29 L1327.1,968.86 L1332.03,973.36 L1336.97,977.8 L1341.93,982.17 L1346.91,986.47 L1351.9,990.71 L1356.91,994.87 L1361.94,998.97 L1366.99,1003 L1372.05,1006.97 L1377.13,1010.86 L1382.23,1014.69 L1387.34,1018.45 L1392.47,1022.14 L1397.62,1025.77 L1402.79,1029.33 L1407.97,1032.82 L1413.17,1036.25 L1418.39,1039.61 L1423.62,1042.9 L1428.87,1046.13 L1434.14,1049.3 L1439.43,1052.4 L1444.73,1055.44 L1450.05,1058.42 L1455.39,1061.33 L1460.74,1064.18 L1466.12,1066.97 L1471.5,1069.7 L1476.91,1072.37 L1482.34,1074.98 L1487.78,1077.53 L1493.23,1080.02 L1498.71,1082.46 L1504.2,1084.84 L1509.71,1087.16 L1515.24,1089.42 L1520.79,1091.63 L1526.35,1093.79 L1531.93,1095.89 L1537.53,1097.95 L1543.14,1099.94 L1548.77,1101.89 L1554.42,1103.79 L1560.09,1105.64 L1565.77,1107.44 L1571.47,1109.19 L1577.19,1110.89 L1582.93,1112.55 L1588.68,1114.16 L1594.46,1115.73 L1600.24,1117.25 L1606.05,1118.73" stroke="#f8f839" stroke-opacity="0.7"/>
</g>
<path d="M364.69,1159 H551.4" stroke="#f8f839" stroke-width="5" fill="none"/>
<rect x="1341" y="120.1" width="300.4" height="295.1" fill="#ffffff" stroke="#8c8c8c" stroke-width="5.2"/>
<line x1="1364.5" y1="150.3" x2="1500" y2="150.3" stroke="#000000" stroke-width="4.6"/>
<text transform="translate(1510.72 163.9) scale(1.05 1)" font-family='"Liberation Sans", Arial, Helvetica, sans-serif' font-size="37.8" fill="#1a1a1a" stroke="#1a1a1a" stroke-width="0.6">Array1</text>
<line x1="1364.5" y1="197.32" x2="1500" y2="197.32" stroke="#0707c7" stroke-width="4.6"/>
<text transform="translate(1510.72 210.3) scale(1.05 1)" font-family='"Liberation Sans", Arial, Helvetica, sans-serif' font-size="37.8" fill="#1a1a1a" stroke="#1a1a1a" stroke-width="0.6">Array2</text>
<line x1="1364.5" y1="244.34" x2="1500" y2="244.34" stroke="#d21313" stroke-width="4.6"/>
<text transform="translate(1510.72 256.7) scale(1.05 1)" font-family='"Liberation Sans", Arial, Helvetica, sans-serif' font-size="37.8" fill="#1a1a1a" stroke="#1a1a1a" stroke-width="0.6">Array3</text>
<line x1="1364.5" y1="291.36" x2="1500" y2="291.36" stroke="#2decec" stroke-width="4.6"/>
<text transform="translate(1510.72 303.1) scale(1.05 1)" font-family='"Liberation Sans", Arial, Helvetica, sans-serif' font-size="37.8" fill="#1a1a1a" stroke="#1a1a1a" stroke-width="0.6">Array4</text>
<line x1="1364.5" y1="338.38" x2="1500" y2="338.38" stroke="#da1ada" stroke-width="4.6"/>
<text transform="translate(1510.72 349.5) scale(1.05 1)" font-family='"Liberation Sans", Arial, Helvetica, sans-serif' font-size="37.8" fill="#1a1a1a" stroke="#1a1a1a" stroke-width="0.6">Array5</text>
<line x1="1364.5" y1="385.4" x2="1500" y2="385.4" stroke="#f8f839" stroke-width="4.6"/>
<text transform="translate(1510.72 395.9) scale(1.05 1)" font-family='"Liberation Sans", Arial, Helvetica, sans-serif' font-size="37.8" fill="#1a1a1a" stroke="#1a1a1a" stroke-width="0.6">Array6</text>
<text transform="translate(230.12 1170.94) scale(1.04 1)" font-family='"Liberation Sans", Arial, Helvetica, sans-serif' font-size="40.5" fill="#262626" stroke="#262626" stroke-width="0.4">0</text>
<text transform="translate(171.76 990.94) scale(1.04 1)" font-family='"Liberation Sans", Arial, Helvetica, sans-serif' font-size="40.5" fill="#262626" stroke="#262626" stroke-width="0.4">0.02</text>
<text transform="translate(170.87 810.94) scale(1.04 1)" font-family='"Liberation Sans", Arial, Helvetica, sans-serif' font-size="40.5" fill="#262626" stroke="#262626" stroke-width="0.4">0.04</text>
<text transform="translate(171.49 630.94) scale(1.04 1)" font-family='"Liberation Sans", Arial, Helvetica, sans-serif' font-size="40.5" fill="#262626" stroke="#262626" stroke-width="0.4">0.06</text>
<text transform="translate(171.47 450.94) scale(1.04 1)" font-family='"Liberation Sans", Arial, Helvetica, sans-serif' font-size="40.5" fill="#262626" stroke="#262626" stroke-width="0.4">0.08</text>
<text transform="translate(190.23 270.94) scale(1.04 1)" font-family='"Liberation Sans", Arial, Helvetica, sans-serif' font-size="40.5" fill="#262626" stroke="#262626" stroke-width="0.4">0.1</text>
<text transform="translate(171.76 90.94) scale(1.04 1)" font-family='"Liberation Sans", Arial, Helvetica, sans-serif' font-size="40.5" fill="#262626" stroke="#262626" stroke-width="0.4">0.12</text>
<text transform="translate(249.63 1212.36) scale(1.04 1)" font-family='"Liberation Sans", Arial, Helvetica, sans-serif' font-size="40.5" fill="#262626" stroke="#262626" stroke-width="0.4">-5</text>
<text transform="translate(539.63 1212.78) scale(1.04 1)" font-family='"Liberation Sans", Arial, Helvetica, sans-serif' font-size="40.5" fill="#262626" stroke="#262626" stroke-width="0.4">0</text>
<text transform="translate(822.57 1212.36) scale(1.04 1)" font-family='"Liberation Sans", Arial, Helvetica, sans-serif' font-size="40.5" fill="#262626" stroke="#262626" stroke-width="0.4">5</text>
<text transform="translate(1095.38 1212.78) scale(1.04 1)" font-family='"Liberation Sans", Arial, Helvetica, sans-serif' font-size="40.5" fill="#262626" stroke="#262626" stroke-width="0.4">10</text>
<text transform="translate(1378.34 1212.36) scale(1.04 1)" font-family='"Liberation Sans", Arial, Helvetica, sans-serif' font-size="40.5" fill="#262626" stroke="#262626" stroke-width="0.4">15</text>
<text transform="translate(1659.22 1212.78) scale(1.04 1)" font-family='"Liberation Sans", Arial, Helvetica, sans-serif' font-size="40.5" fill="#262626" stroke="#262626" stroke-width="0.4">20</text>
<text transform="translate(881.02 50.2) scale(1.07 1)" font-family='"Liberation Sans", Arial, Helvetica, sans-serif' font-size="45.7" font-weight="bold" fill="#000000">1 month</text>
<rect x="281.5" y="1533.7" width="1385.2" height="1026.3" fill="none" stroke="#8c8c8c" stroke-width="5.2"/>
<path d="M512.37,2560 v-15 M512.37,1533.7 v15 M743.23,2560 v-15 M743.23,1533.7 v15 M974.1,2560 v-15 M974.1,1533.7 v15 M1204.97,2560 v-15 M1204.97,1533.7 v15 M1435.83,2560 v-15 M1435.83,1533.7 v15 M281.5,2431.71 h15 M1666.7,2431.71 h-15 M281.5,2303.43 h15 M1666.7,2303.43 h-15 M281.5,2175.14 h15 M1666.7,2175.14 h-15 M281.5,2046.85 h15 M1666.7,2046.85 h-15 M281.5,1918.56 h15 M1666.7,1918.56 h-15 M281.5,1790.28 h15 M1666.7,1790.28 h-15 M281.5,1661.99 h15 M1666.7,1661.99 h-15" stroke="#141414" stroke-width="3.2" fill="none"/>
<g clip-path="url(#c2)" fill="none" stroke-width="3.4" stroke-linejoin="round" stroke-linecap="butt">
<path d="M512.37,2560 L512.37,2557.8 L512.38,2554.86 L512.39,2551.55 L512.41,2547.99 L512.44,2544.22 L512.47,2540.28 L512.51,2536.19 L512.56,2531.96 L512.62,2527.62 L512.68,2523.16 L512.76,2518.61 L512.84,2513.96 L512.93,2509.22 L513.03,2504.41 L513.14,2499.51 L513.26,2494.54 L513.39,2489.51 L513.52,2484.4 L513.67,2479.24 L513.82,2474.01 L513.99,2468.72 L514.16,2463.38 L514.35,2457.99 L514.54,2452.54 L514.75,2447.04 L514.96,2441.49 L515.19,2435.9 L515.42,2430.26 L515.67,2424.58 L515.92,2418.85 L516.19,2413.09 L516.47,2407.28 L516.75,2401.43 L517.05,2395.55 L517.36,2389.63 L517.68,2383.67 L518.01,2377.68 L518.35,2371.66 L518.7,2365.6 L519.06,2359.51 L519.44,2353.39 L519.82,2347.23 L520.22,2341.05 L520.63,2334.84 L521.04,2328.61 L521.47,2322.34 L521.92,2316.05 L522.37,2309.73 L522.83,2303.39 L523.31,2297.03 L523.79,2290.64 L524.29,2284.23 L524.8,2277.79 L525.33,2271.34 L525.86,2264.87 L526.41,2258.37 L526.96,2251.86 L527.53,2245.33 L528.11,2238.78 L528.71,2232.22 L529.31,2225.63 L529.93,2219.04 L530.56,2212.43 L531.2,2205.8 L531.85,2199.16 L532.52,2192.51 L533.2,2185.85 L533.89,2179.18 L534.59,2172.5 L535.3,2165.8 L536.03,2159.1 L536.77,2152.39 L537.52,2145.67 L538.29,2138.95 L539.06,2132.22 L539.85,2125.49 L540.65,2118.75 L541.47,2112.01 L542.3,2105.26 L543.14,2098.52 L543.99,2091.77 L544.85,2085.02 L545.73,2078.27 L546.62,2071.53 L547.53,2064.79 L548.44,2058.04 L549.37,2051.31 L550.31,2044.58 L551.27,2037.85 L552.24,2031.13 L553.22,2024.42 L554.21,2017.71 L555.22,2011.01 L556.24,2004.33 L557.27,1997.65 L558.32,1990.99 L559.38,1984.34 L560.45,1977.7 L561.54,1971.08 L562.64,1964.47 L563.75,1957.88 L564.88,1951.3 L566.02,1944.75 L567.17,1938.21 L568.34,1931.7 L569.51,1925.2 L570.71,1918.73 L571.91,1912.28 L573.13,1905.85 L574.37,1899.45 L575.61,1893.07 L576.87,1886.72 L578.15,1880.4 L579.44,1874.11 L580.74,1867.85 L582.05,1861.62 L583.38,1855.43 L584.72,1849.26 L586.08,1843.13 L587.45,1837.04 L588.83,1830.98 L590.23,1824.96 L591.64,1818.98 L593.06,1813.04 L594.5,1807.14 L595.95,1801.28 L597.42,1795.46 L598.9,1789.69 L600.4,1783.96 L601.9,1778.28 L603.43,1772.64 L604.96,1767.06 L606.51,1761.52 L608.08,1756.04 L609.66,1750.6 L611.25,1745.22 L612.85,1739.89 L614.47,1734.62 L616.11,1729.41 L617.76,1724.25 L619.42,1719.15 L621.1,1714.1 L622.79,1709.12 L624.5,1704.2 L626.22,1699.35 L627.95,1694.55 L629.7,1689.82 L631.46,1685.16 L633.24,1680.57 L635.03,1676.04 L636.84,1671.58 L638.66,1667.19 L640.5,1662.87 L642.35,1658.63 L644.21,1654.46 L646.09,1650.36 L647.98,1646.34 L649.89,1642.39 L651.81,1638.52 L653.75,1634.73 L655.7,1631.02 L657.66,1627.39 L659.65,1623.85 L661.64,1620.38 L663.65,1616.99 L665.67,1613.7 L667.71,1610.48 L669.77,1607.35 L671.84,1604.31 L673.92,1601.36 L676.02,1598.49 L678.13,1595.72 L680.26,1593.03 L682.4,1590.44 L684.56,1587.93 L686.73,1585.52 L688.92,1583.21 L691.12,1580.98 L693.34,1578.86 L695.57,1576.82 L697.81,1574.89 L700.08,1573.05 L702.35,1571.31 L704.64,1569.67 L706.95,1568.12 L709.27,1566.68 L711.61,1565.34 L713.96,1564.09 L716.33,1562.95 L718.71,1561.91 L721.1,1560.97 L723.52,1560.14 L725.94,1559.41 L728.39,1558.78 L730.84,1558.25 L733.31,1557.83 L735.8,1557.52 L738.31,1557.3 L740.82,1557.2 L743.36,1557.2 L745.91,1557.3 L748.47,1557.51 L751.05,1557.83 L753.64,1558.25 L756.25,1558.78 L758.88,1559.41 L761.52,1560.16 L764.17,1561 L766.84,1561.96 L769.53,1563.02 L772.23,1564.18 L774.95,1565.46 L777.68,1566.84 L780.43,1568.32 L783.19,1569.91 L785.97,1571.61 L788.77,1573.41 L791.58,1575.32 L794.4,1577.33 L797.24,1579.44 L800.1,1581.66 L802.97,1583.98 L805.86,1586.41 L808.76,1588.94 L811.68,1591.57 L814.62,1594.3 L817.57,1597.13 L820.53,1600.06 L823.51,1603.1 L826.51,1606.23 L829.52,1609.46 L832.55,1612.79 L835.6,1616.21 L838.66,1619.73 L841.73,1623.35 L844.82,1627.06 L847.93,1630.87 L851.05,1634.76 L854.19,1638.75 L857.34,1642.83 L860.52,1647 L863.7,1651.26 L866.9,1655.6 L870.12,1660.04 L873.35,1664.56 L876.6,1669.16 L879.87,1673.84 L883.15,1678.61 L886.45,1683.46 L889.76,1688.39 L893.09,1693.39 L896.43,1698.47 L899.8,1703.63 L903.17,1708.87 L906.57,1714.17 L909.97,1719.55 L913.4,1725 L916.84,1730.51 L920.3,1736.09 L923.77,1741.74 L927.26,1747.46 L930.76,1753.23 L934.29,1759.07 L937.82,1764.96 L941.38,1770.92 L944.95,1776.93 L948.53,1782.99 L952.13,1789.11 L955.75,1795.28 L959.39,1801.5 L963.04,1807.77 L966.7,1814.09 L970.39,1820.45 L974.09,1826.85 L977.8,1833.29 L981.53,1839.78 L985.28,1846.3 L989.05,1852.86 L992.83,1859.45 L996.62,1866.07 L1000.44,1872.73 L1004.26,1879.41 L1008.11,1886.13 L1011.97,1892.87 L1015.85,1899.63 L1019.75,1906.41 L1023.66,1913.22 L1027.58,1920.04 L1031.53,1926.88 L1035.49,1933.74 L1039.47,1940.61 L1043.46,1947.49 L1047.47,1954.38 L1051.49,1961.27 L1055.54,1968.18 L1059.6,1975.09 L1063.67,1982 L1067.76,1988.91 L1071.87,1995.83 L1076,2002.74 L1080.14,2009.64 L1084.3,2016.54 L1088.47,2023.44 L1092.66,2030.32 L1096.87,2037.2 L1101.09,2044.06 L1105.34,2050.91 L1109.59,2057.74 L1113.87,2064.56 L1118.16,2071.36 L1122.47,2078.13 L1126.79,2084.89 L1131.13,2091.62 L1135.49,2098.33 L1139.86,2105.02 L1144.25,2111.67 L1148.66,2118.3 L1153.08,2124.9 L1157.53,2131.46 L1161.98,2138 L1166.46,2144.49 L1170.95,2150.96 L1175.46,2157.39 L1179.98,2163.77 L1184.52,2170.13 L1189.08,2176.44 L1193.66,2182.71 L1198.25,2188.93 L1202.86,2195.12 L1207.48,2201.25 L1212.13,2207.35 L1216.79,2213.39 L1221.46,2219.39 L1226.15,2225.34 L1230.86,2231.24 L1235.59,2237.1 L1240.34,2242.9 L1245.1,2248.64 L1249.87,2254.34 L1254.67,2259.98 L1259.48,2265.57 L1264.31,2271.1 L1269.15,2276.58 L1274.02,2282 L1278.9,2287.36 L1283.79,2292.67 L1288.71,2297.92 L1293.64,2303.11 L1298.58,2308.24 L1303.55,2313.31 L1308.53,2318.33 L1313.53,2323.28 L1318.55,2328.17 L1323.58,2333 L1328.63,2337.77 L1333.7,2342.48 L1338.78,2347.13 L1343.88,2351.71 L1349,2356.24 L1354.14,2360.7 L1359.29,2365.1 L1364.46,2369.43 L1369.64,2373.71 L1374.85,2377.92 L1380.07,2382.07 L1385.31,2386.16 L1390.56,2390.18 L1395.84,2394.15 L1401.13,2398.05 L1406.44,2401.88 L1411.76,2405.66 L1417.1,2409.38 L1422.46,2413.03 L1427.84,2416.62 L1433.23,2420.15 L1438.64,2423.62 L1444.07,2427.03 L1449.52,2430.38 L1454.98,2433.67 L1460.46,2436.9 L1465.96,2440.07 L1471.47,2443.18 L1477,2446.24 L1482.55,2449.23 L1488.12,2452.17 L1493.71,2455.05 L1499.31,2457.87 L1504.93,2460.64 L1510.56,2463.35 L1516.22,2466.01 L1521.89,2468.61 L1527.58,2471.16 L1533.28,2473.65 L1539.01,2476.1 L1544.75,2478.49 L1550.51,2480.82 L1556.28,2483.11 L1562.08,2485.34 L1567.89,2487.53" stroke="#000000"/>
<path d="M512.37,2560 L512.37,2557.55 L512.38,2554.36 L512.39,2550.8 L512.41,2546.98 L512.44,2542.96 L512.47,2538.76 L512.51,2534.42 L512.56,2529.95 L512.62,2525.37 L512.68,2520.67 L512.76,2515.88 L512.84,2511 L512.93,2506.03 L513.03,2500.98 L513.14,2495.86 L513.26,2490.67 L513.38,2485.41 L513.52,2480.08 L513.67,2474.7 L513.82,2469.26 L513.98,2463.76 L514.16,2458.21 L514.34,2452.6 L514.54,2446.95 L514.74,2441.25 L514.96,2435.5 L515.18,2429.7 L515.41,2423.87 L515.66,2417.99 L515.91,2412.07 L516.18,2406.11 L516.45,2400.11 L516.74,2394.08 L517.04,2388.01 L517.35,2381.91 L517.66,2375.77 L517.99,2369.6 L518.33,2363.39 L518.68,2357.16 L519.05,2350.89 L519.42,2344.6 L519.8,2338.28 L520.2,2331.93 L520.6,2325.55 L521.02,2319.15 L521.45,2312.72 L521.89,2306.27 L522.34,2299.79 L522.8,2293.29 L523.28,2286.77 L523.76,2280.23 L524.26,2273.67 L524.77,2267.08 L525.29,2260.48 L525.82,2253.86 L526.37,2247.22 L526.92,2240.57 L527.49,2233.9 L528.07,2227.21 L528.66,2220.51 L529.27,2213.79 L529.88,2207.06 L530.51,2200.32 L531.15,2193.57 L531.8,2186.8 L532.47,2180.03 L533.14,2173.24 L533.83,2166.45 L534.53,2159.64 L535.24,2152.83 L535.97,2146.02 L536.71,2139.19 L537.46,2132.37 L538.22,2125.53 L538.99,2118.7 L539.78,2111.86 L540.58,2105.01 L541.39,2098.17 L542.22,2091.33 L543.06,2084.48 L543.91,2077.64 L544.77,2070.8 L545.64,2063.96 L546.53,2057.13 L547.43,2050.3 L548.35,2043.47 L549.27,2036.65 L550.21,2029.84 L551.17,2023.04 L552.13,2016.24 L553.11,2009.45 L554.1,2002.68 L555.11,1995.91 L556.12,1989.16 L557.16,1982.42 L558.2,1975.69 L559.26,1968.98 L560.33,1962.28 L561.41,1955.61 L562.51,1948.94 L563.62,1942.3 L564.74,1935.68 L565.87,1929.08 L567.02,1922.5 L568.19,1915.94 L569.36,1909.4 L570.55,1902.89 L571.76,1896.41 L572.97,1889.95 L574.2,1883.52 L575.45,1877.12 L576.7,1870.74 L577.97,1864.4 L579.26,1858.09 L580.56,1851.81 L581.87,1845.57 L583.19,1839.36 L584.53,1833.19 L585.88,1827.05 L587.25,1820.95 L588.63,1814.89 L590.02,1808.87 L591.43,1802.89 L592.85,1796.95 L594.28,1791.06 L595.73,1785.21 L597.2,1779.41 L598.67,1773.65 L600.16,1767.94 L601.67,1762.28 L603.18,1756.67 L604.72,1751.11 L606.26,1745.6 L607.82,1740.15 L609.4,1734.75 L610.99,1729.4 L612.59,1724.11 L614.2,1718.88 L615.84,1713.71 L617.48,1708.59 L619.14,1703.54 L620.81,1698.55 L622.5,1693.62 L624.2,1688.76 L625.92,1683.96 L627.65,1679.23 L629.39,1674.57 L631.15,1669.97 L632.92,1665.44 L634.71,1660.99 L636.51,1656.6 L638.33,1652.29 L640.16,1648.05 L642,1643.89 L643.86,1639.8 L645.73,1635.79 L647.62,1631.85 L649.52,1628 L651.44,1624.22 L653.37,1620.53 L655.32,1616.91 L657.28,1613.38 L659.26,1609.93 L661.25,1606.57 L663.25,1603.29 L665.27,1600.1 L667.3,1597 L669.35,1593.98 L671.41,1591.06 L673.49,1588.22 L675.58,1585.47 L677.69,1582.82 L679.81,1580.26 L681.95,1577.79 L684.1,1575.41 L686.27,1573.13 L688.45,1570.94 L690.65,1568.85 L692.86,1566.86 L695.08,1564.97 L697.32,1563.17 L699.58,1561.47 L701.85,1559.87 L704.13,1558.37 L706.43,1556.97 L708.75,1555.67 L711.08,1554.48 L713.43,1553.38 L715.79,1552.39 L718.16,1551.5 L720.55,1550.72 L722.96,1550.04 L725.38,1549.46 L727.81,1548.99 L730.26,1548.62 L732.73,1548.36 L735.21,1548.2 L737.71,1548.15 L740.22,1548.21 L742.75,1548.37 L745.29,1548.64 L747.84,1549.01 L750.42,1549.5 L753,1550.09 L755.61,1550.78 L758.22,1551.58 L760.86,1552.49 L763.51,1553.51 L766.17,1554.63 L768.85,1555.86 L771.54,1557.2 L774.25,1558.64 L776.98,1560.19 L779.72,1561.85 L782.48,1563.61 L785.25,1565.48 L788.04,1567.45 L790.84,1569.52 L793.66,1571.71 L796.49,1573.99 L799.34,1576.38 L802.2,1578.87 L805.08,1581.47 L807.98,1584.17 L810.89,1586.97 L813.82,1589.87 L816.76,1592.87 L819.72,1595.97 L822.69,1599.17 L825.68,1602.47 L828.68,1605.87 L831.7,1609.36 L834.74,1612.95 L837.79,1616.63 L840.86,1620.41 L843.94,1624.29 L847.04,1628.25 L850.16,1632.31 L853.29,1636.46 L856.43,1640.69 L859.59,1645.02 L862.77,1649.43 L865.96,1653.93 L869.17,1658.52 L872.4,1663.19 L875.64,1667.94 L878.9,1672.77 L882.17,1677.68 L885.46,1682.68 L888.76,1687.75 L892.08,1692.9 L895.42,1698.12 L898.77,1703.42 L902.14,1708.79 L905.52,1714.23 L908.92,1719.74 L912.34,1725.32 L915.77,1730.96 L919.22,1736.67 L922.68,1742.45 L926.16,1748.28 L929.66,1754.18 L933.17,1760.13 L936.7,1766.15 L940.24,1772.22 L943.8,1778.34 L947.38,1784.52 L950.97,1790.75 L954.58,1797.02 L958.2,1803.35 L961.84,1809.72 L965.5,1816.13 L969.17,1822.59 L972.86,1829.09 L976.57,1835.62 L980.29,1842.2 L984.03,1848.81 L987.78,1855.45 L991.55,1862.13 L995.34,1868.84 L999.14,1875.57 L1002.96,1882.33 L1006.8,1889.12 L1010.65,1895.93 L1014.52,1902.76 L1018.4,1909.62 L1022.3,1916.49 L1026.22,1923.37 L1030.15,1930.27 L1034.1,1937.19 L1038.07,1944.11 L1042.05,1951.04 L1046.05,1957.99 L1050.07,1964.93 L1054.1,1971.88 L1058.15,1978.84 L1062.21,1985.79 L1066.29,1992.74 L1070.39,1999.69 L1074.5,2006.64 L1078.64,2013.58 L1082.78,2020.51 L1086.95,2027.43 L1091.13,2034.34 L1095.32,2041.24 L1099.54,2048.12 L1103.77,2054.99 L1108.01,2061.84 L1112.27,2068.68 L1116.55,2075.49 L1120.85,2082.28 L1125.16,2089.04 L1129.49,2095.78 L1133.84,2102.5 L1138.2,2109.19 L1142.58,2115.84 L1146.98,2122.47 L1151.39,2129.07 L1155.82,2135.63 L1160.26,2142.16 L1164.73,2148.65 L1169.21,2155.11 L1173.7,2161.52 L1178.21,2167.9 L1182.74,2174.24 L1187.29,2180.53 L1191.85,2186.79 L1196.43,2193 L1201.03,2199.16 L1205.64,2205.28 L1210.27,2211.35 L1214.92,2217.37 L1219.58,2223.35 L1224.27,2229.27 L1228.96,2235.15 L1233.68,2240.97 L1238.41,2246.74 L1243.16,2252.46 L1247.92,2258.12 L1252.7,2263.73 L1257.5,2269.29 L1262.32,2274.79 L1267.15,2280.23 L1272,2285.62 L1276.87,2290.94 L1281.75,2296.21 L1286.65,2301.42 L1291.57,2306.58 L1296.5,2311.67 L1301.46,2316.7 L1306.42,2321.67 L1311.41,2326.59 L1316.41,2331.44 L1321.43,2336.23 L1326.47,2340.95 L1331.52,2345.62 L1336.59,2350.22 L1341.68,2354.77 L1346.79,2359.25 L1351.91,2363.66 L1357.05,2368.02 L1362.2,2372.31 L1367.38,2376.54 L1372.57,2380.71 L1377.77,2384.81 L1383,2388.86 L1388.24,2392.84 L1393.5,2396.75 L1398.78,2400.61 L1404.07,2404.4 L1409.38,2408.14 L1414.71,2411.81 L1420.05,2415.41 L1425.41,2418.96 L1430.79,2422.45 L1436.19,2425.87 L1441.61,2429.24 L1447.04,2432.55 L1452.48,2435.79 L1457.95,2438.98 L1463.43,2442.11 L1468.93,2445.18 L1474.45,2448.19 L1479.99,2451.14 L1485.54,2454.04 L1491.11,2456.88 L1496.7,2459.66 L1502.3,2462.39 L1507.92,2465.06 L1513.56,2467.68 L1519.22,2470.24 L1524.89,2472.75 L1530.58,2475.2 L1536.29,2477.61 L1542.02,2479.96 L1547.76,2482.26 L1553.52,2484.51 L1559.3,2486.71 L1565.1,2488.86" stroke="#0707c7"/>
<path d="M512.37,2560 L512.37,2557.38 L512.38,2553.99 L512.39,2550.25 L512.41,2546.25 L512.44,2542.05 L512.47,2537.68 L512.51,2533.16 L512.56,2528.52 L512.62,2523.76 L512.68,2518.9 L512.76,2513.94 L512.84,2508.9 L512.93,2503.77 L513.03,2498.56 L513.14,2493.28 L513.25,2487.93 L513.38,2482.52 L513.52,2477.04 L513.66,2471.5 L513.82,2465.91 L513.98,2460.27 L514.16,2454.57 L514.34,2448.82 L514.53,2443.02 L514.74,2437.18 L514.95,2431.29 L515.17,2425.36 L515.41,2419.39 L515.65,2413.37 L515.91,2407.32 L516.17,2401.23 L516.45,2395.1 L516.73,2388.94 L517.03,2382.74 L517.34,2376.51 L517.65,2370.25 L517.98,2363.95 L518.32,2357.63 L518.67,2351.27 L519.03,2344.89 L519.41,2338.48 L519.79,2332.04 L520.18,2325.57 L520.59,2319.08 L521.01,2312.57 L521.43,2306.03 L521.87,2299.46 L522.32,2292.88 L522.79,2286.27 L523.26,2279.65 L523.74,2273 L524.24,2266.33 L524.75,2259.65 L525.27,2252.95 L525.8,2246.23 L526.34,2239.49 L526.9,2232.74 L527.47,2225.97 L528.04,2219.19 L528.63,2212.4 L529.24,2205.59 L529.85,2198.77 L530.48,2191.94 L531.12,2185.1 L531.77,2178.25 L532.43,2171.39 L533.1,2164.52 L533.79,2157.64 L534.49,2150.76 L535.2,2143.87 L535.93,2136.97 L536.66,2130.07 L537.41,2123.17 L538.17,2116.26 L538.95,2109.35 L539.73,2102.44 L540.53,2095.53 L541.34,2088.62 L542.16,2081.71 L543,2074.8 L543.85,2067.9 L544.71,2060.99 L545.58,2054.09 L546.47,2047.2 L547.37,2040.31 L548.28,2033.43 L549.21,2026.56 L550.15,2019.69 L551.1,2012.83 L552.06,2005.99 L553.04,1999.15 L554.03,1992.33 L555.03,1985.52 L556.05,1978.72 L557.08,1971.94 L558.12,1965.17 L559.17,1958.42 L560.24,1951.69 L561.32,1944.97 L562.42,1938.28 L563.52,1931.6 L564.64,1924.95 L565.78,1918.31 L566.93,1911.7 L568.09,1905.12 L569.26,1898.56 L570.45,1892.03 L571.65,1885.52 L572.86,1879.04 L574.09,1872.59 L575.33,1866.17 L576.59,1859.79 L577.86,1853.43 L579.14,1847.11 L580.43,1840.82 L581.74,1834.57 L583.06,1828.35 L584.4,1822.17 L585.75,1816.03 L587.11,1809.93 L588.49,1803.87 L589.88,1797.86 L591.29,1791.88 L592.71,1785.95 L594.14,1780.06 L595.58,1774.22 L597.04,1768.43 L598.52,1762.69 L600.01,1756.99 L601.51,1751.35 L603.02,1745.75 L604.55,1740.21 L606.1,1734.73 L607.65,1729.3 L609.22,1723.92 L610.81,1718.6 L612.41,1713.34 L614.02,1708.14 L615.65,1703 L617.29,1697.92 L618.95,1692.9 L620.62,1687.95 L622.3,1683.06 L624,1678.24 L625.71,1673.48 L627.44,1668.79 L629.18,1664.17 L630.94,1659.62 L632.71,1655.15 L634.49,1650.74 L636.29,1646.41 L638.1,1642.15 L639.93,1637.97 L641.77,1633.86 L643.63,1629.83 L645.5,1625.88 L647.38,1622.01 L649.28,1618.21 L651.19,1614.5 L653.12,1610.88 L655.06,1607.33 L657.02,1603.87 L658.99,1600.49 L660.98,1597.2 L662.98,1594 L665,1590.89 L667.03,1587.86 L669.07,1584.92 L671.13,1582.08 L673.2,1579.32 L675.29,1576.66 L677.4,1574.09 L679.51,1571.61 L681.65,1569.23 L683.8,1566.94 L685.96,1564.75 L688.14,1562.65 L690.33,1560.65 L692.53,1558.75 L694.76,1556.95 L696.99,1555.25 L699.24,1553.65 L701.51,1552.15 L703.79,1550.75 L706.09,1549.45 L708.4,1548.25 L710.73,1547.15 L713.07,1546.16 L715.42,1545.28 L717.79,1544.49 L720.18,1543.81 L722.58,1543.24 L725,1542.77 L727.43,1542.4 L729.88,1542.14 L732.34,1541.99 L734.81,1541.95 L737.31,1542.01 L739.81,1542.17 L742.33,1542.45 L744.87,1542.83 L747.42,1543.32 L749.99,1543.91 L752.57,1544.61 L755.17,1545.42 L757.79,1546.34 L760.41,1547.37 L763.06,1548.5 L765.72,1549.74 L768.39,1551.08 L771.08,1552.54 L773.79,1554.1 L776.51,1555.76 L779.24,1557.53 L781.99,1559.41 L784.76,1561.39 L787.54,1563.48 L790.34,1565.68 L793.15,1567.98 L795.98,1570.38 L798.83,1572.88 L801.69,1575.49 L804.56,1578.2 L807.45,1581.02 L810.36,1583.93 L813.28,1586.95 L816.22,1590.06 L819.17,1593.28 L822.14,1596.59 L825.12,1600 L828.12,1603.51 L831.13,1607.12 L834.16,1610.82 L837.21,1614.62 L840.27,1618.51 L843.35,1622.49 L846.44,1626.56 L849.55,1630.73 L852.68,1634.98 L855.82,1639.33 L858.97,1643.76 L862.15,1648.27 L865.33,1652.88 L868.54,1657.57 L871.76,1662.34 L874.99,1667.19 L878.24,1672.12 L881.51,1677.14 L884.79,1682.23 L888.09,1687.4 L891.4,1692.64 L894.73,1697.96 L898.08,1703.35 L901.44,1708.81 L904.82,1714.34 L908.21,1719.94 L911.62,1725.61 L915.05,1731.34 L918.49,1737.13 L921.95,1742.99 L925.42,1748.91 L928.91,1754.89 L932.42,1760.93 L935.94,1767.02 L939.48,1773.16 L943.03,1779.36 L946.6,1785.62 L950.19,1791.92 L953.79,1798.26 L957.41,1804.66 L961.04,1811.1 L964.69,1817.58 L968.36,1824.1 L972.04,1830.66 L975.74,1837.26 L979.46,1843.9 L983.19,1850.57 L986.94,1857.27 L990.7,1864 L994.48,1870.76 L998.27,1877.55 L1002.09,1884.36 L1005.92,1891.2 L1009.76,1898.06 L1013.62,1904.93 L1017.5,1911.83 L1021.39,1918.74 L1025.3,1925.67 L1029.23,1932.61 L1033.17,1939.56 L1037.13,1946.52 L1041.11,1953.49 L1045.1,1960.47 L1049.11,1967.44 L1053.13,1974.43 L1057.17,1981.41 L1061.23,1988.39 L1065.3,1995.37 L1069.39,2002.34 L1073.5,2009.31 L1077.62,2016.27 L1081.76,2023.22 L1085.92,2030.16 L1090.09,2037.09 L1094.28,2044 L1098.49,2050.9 L1102.71,2057.78 L1106.95,2064.64 L1111.2,2071.48 L1115.48,2078.3 L1119.76,2085.1 L1124.07,2091.87 L1128.39,2098.62 L1132.73,2105.33 L1137.08,2112.02 L1141.46,2118.68 L1145.84,2125.31 L1150.25,2131.9 L1154.67,2138.46 L1159.11,2144.98 L1163.56,2151.47 L1168.03,2157.92 L1172.52,2164.33 L1177.03,2170.7 L1181.55,2177.03 L1186.09,2183.31 L1190.64,2189.55 L1195.21,2195.75 L1199.8,2201.9 L1204.41,2208 L1209.03,2214.06 L1213.67,2220.07 L1218.32,2226.03 L1222.99,2231.93 L1227.68,2237.79 L1232.39,2243.59 L1237.11,2249.34 L1241.85,2255.04 L1246.61,2260.68 L1251.38,2266.27 L1256.17,2271.8 L1260.98,2277.28 L1265.8,2282.7 L1270.65,2288.06 L1275.5,2293.36 L1280.38,2298.6 L1285.27,2303.79 L1290.18,2308.91 L1295.1,2313.98 L1300.05,2318.99 L1305.01,2323.93 L1309.98,2328.81 L1314.98,2333.64 L1319.99,2338.4 L1325.01,2343.1 L1330.06,2347.73 L1335.12,2352.31 L1340.2,2356.82 L1345.3,2361.27 L1350.41,2365.66 L1355.54,2369.98 L1360.69,2374.25 L1365.85,2378.45 L1371.03,2382.58 L1376.23,2386.66 L1381.44,2390.67 L1386.68,2394.62 L1391.93,2398.51 L1397.19,2402.33 L1402.48,2406.1 L1407.78,2409.8 L1413.1,2413.44 L1418.43,2417.02 L1423.78,2420.53 L1429.15,2423.99 L1434.54,2427.39 L1439.95,2430.72 L1445.37,2434 L1450.81,2437.22 L1456.26,2440.37 L1461.74,2443.47 L1467.23,2446.51 L1472.73,2449.5 L1478.26,2452.42 L1483.8,2455.29 L1489.36,2458.1 L1494.94,2460.86 L1500.53,2463.56 L1506.14,2466.2 L1511.77,2468.79 L1517.42,2471.33 L1523.08,2473.81 L1528.76,2476.24 L1534.46,2478.62 L1540.18,2480.95 L1545.91,2483.23 L1551.66,2485.45 L1557.43,2487.63 L1563.22,2489.76" stroke="#d21313"/>
<path d="M512.37,2560 L512.37,2557.65 L512.38,2554.54 L512.39,2551.08 L512.41,2547.36 L512.44,2543.43 L512.47,2539.33 L512.51,2535.08 L512.56,2530.7 L512.62,2526.2 L512.68,2521.6 L512.76,2516.89 L512.84,2512.1 L512.93,2507.21 L513.03,2502.25 L513.14,2497.21 L513.26,2492.1 L513.38,2486.93 L513.52,2481.68 L513.67,2476.38 L513.82,2471.02 L513.99,2465.59 L514.16,2460.12 L514.35,2454.59 L514.54,2449.01 L514.74,2443.39 L514.96,2437.71 L515.18,2431.99 L515.42,2426.23 L515.66,2420.42 L515.92,2414.57 L516.18,2408.69 L516.46,2402.76 L516.75,2396.79 L517.04,2390.79 L517.35,2384.75 L517.67,2378.68 L518,2372.58 L518.34,2366.44 L518.69,2360.27 L519.05,2354.07 L519.43,2347.84 L519.81,2341.58 L520.21,2335.29 L520.61,2328.97 L521.03,2322.63 L521.46,2316.26 L521.9,2309.87 L522.35,2303.45 L522.81,2297.01 L523.29,2290.55 L523.78,2284.06 L524.27,2277.55 L524.78,2271.03 L525.3,2264.48 L525.84,2257.91 L526.38,2251.33 L526.94,2244.72 L527.51,2238.1 L528.09,2231.47 L528.68,2224.81 L529.28,2218.15 L529.9,2211.47 L530.53,2204.77 L531.17,2198.07 L531.82,2191.35 L532.48,2184.62 L533.16,2177.88 L533.85,2171.13 L534.55,2164.37 L535.27,2157.6 L535.99,2150.82 L536.73,2144.04 L537.48,2137.25 L538.24,2130.46 L539.02,2123.66 L539.81,2116.86 L540.61,2110.06 L541.42,2103.25 L542.25,2096.44 L543.08,2089.64 L543.94,2082.83 L544.8,2076.02 L545.68,2069.22 L546.57,2062.41 L547.47,2055.61 L548.38,2048.82 L549.31,2042.03 L550.25,2035.25 L551.2,2028.47 L552.17,2021.7 L553.15,2014.94 L554.14,2008.19 L555.15,2001.45 L556.17,1994.72 L557.2,1988 L558.24,1981.3 L559.3,1974.61 L560.37,1967.94 L561.46,1961.28 L562.55,1954.64 L563.66,1948.01 L564.79,1941.41 L565.93,1934.82 L567.08,1928.26 L568.24,1921.71 L569.42,1915.19 L570.61,1908.69 L571.81,1902.22 L573.03,1895.78 L574.26,1889.35 L575.51,1882.96 L576.77,1876.6 L578.04,1870.26 L579.32,1863.96 L580.62,1857.69 L581.93,1851.45 L583.26,1845.24 L584.6,1839.07 L585.95,1832.94 L587.32,1826.84 L588.7,1820.78 L590.1,1814.76 L591.5,1808.78 L592.93,1802.84 L594.36,1796.94 L595.81,1791.09 L597.28,1785.28 L598.76,1779.52 L600.25,1773.8 L601.75,1768.13 L603.27,1762.51 L604.81,1756.94 L606.35,1751.42 L607.92,1745.96 L609.49,1740.54 L611.08,1735.19 L612.68,1729.88 L614.3,1724.63 L615.94,1719.45 L617.58,1714.32 L619.24,1709.24 L620.92,1704.24 L622.61,1699.29 L624.31,1694.4 L626.03,1689.58 L627.76,1684.83 L629.5,1680.14 L631.26,1675.52 L633.04,1670.97 L634.83,1666.48 L636.63,1662.07 L638.45,1657.73 L640.28,1653.46 L642.13,1649.27 L643.99,1645.15 L645.86,1641.11 L647.75,1637.14 L649.66,1633.25 L651.58,1629.44 L653.51,1625.71 L655.46,1622.06 L657.42,1618.49 L659.4,1615.01 L661.39,1611.61 L663.4,1608.29 L665.42,1605.06 L667.45,1601.92 L669.5,1598.86 L671.57,1595.89 L673.65,1593.01 L675.74,1590.22 L677.85,1587.52 L679.98,1584.91 L682.11,1582.4 L684.27,1579.97 L686.44,1577.65 L688.62,1575.41 L690.82,1573.27 L693.03,1571.23 L695.26,1569.29 L697.5,1567.44 L699.76,1565.69 L702.03,1564.04 L704.32,1562.48 L706.62,1561.03 L708.94,1559.68 L711.27,1558.43 L713.62,1557.28 L715.98,1556.23 L718.36,1555.29 L720.75,1554.45 L723.16,1553.71 L725.58,1553.08 L728.02,1552.55 L730.47,1552.12 L732.94,1551.8 L735.43,1551.59 L737.92,1551.48 L740.44,1551.48 L742.97,1551.58 L745.51,1551.79 L748.07,1552.1 L750.65,1552.52 L753.24,1553.05 L755.84,1553.68 L758.46,1554.43 L761.1,1555.27 L763.75,1556.23 L766.42,1557.29 L769.1,1558.46 L771.79,1559.73 L774.51,1561.11 L777.24,1562.6 L779.98,1564.19 L782.74,1565.89 L785.51,1567.7 L788.3,1569.61 L791.11,1571.62 L793.93,1573.74 L796.76,1575.96 L799.62,1578.29 L802.48,1580.72 L805.37,1583.26 L808.26,1585.89 L811.18,1588.63 L814.11,1591.47 L817.05,1594.41 L820.01,1597.45 L822.99,1600.59 L825.98,1603.82 L828.99,1607.16 L832.01,1610.59 L835.05,1614.12 L838.11,1617.75 L841.18,1621.47 L844.26,1625.28 L847.36,1629.19 L850.48,1633.19 L853.61,1637.28 L856.76,1641.46 L859.93,1645.72 L863.11,1650.08 L866.31,1654.53 L869.52,1659.05 L872.75,1663.67 L875.99,1668.37 L879.25,1673.15 L882.53,1678.01 L885.82,1682.95 L889.13,1687.97 L892.45,1693.06 L895.79,1698.23 L899.14,1703.48 L902.51,1708.8 L905.9,1714.19 L909.3,1719.65 L912.72,1725.18 L916.16,1730.78 L919.61,1736.45 L923.08,1742.17 L926.56,1747.97 L930.06,1753.82 L933.58,1759.73 L937.11,1765.7 L940.65,1771.73 L944.22,1777.81 L947.8,1783.95 L951.39,1790.14 L955.01,1796.38 L958.63,1802.66 L962.28,1809 L965.94,1815.37 L969.62,1821.8 L973.31,1828.26 L977.02,1834.76 L980.74,1841.3 L984.48,1847.88 L988.24,1854.5 L992.02,1861.14 L995.81,1867.82 L999.61,1874.52 L1003.44,1881.26 L1007.28,1888.02 L1011.13,1894.8 L1015,1901.61 L1018.89,1908.44 L1022.8,1915.29 L1026.72,1922.15 L1030.65,1929.03 L1034.61,1935.92 L1038.58,1942.82 L1042.56,1949.74 L1046.57,1956.66 L1050.59,1963.59 L1054.62,1970.53 L1058.67,1977.46 L1062.74,1984.4 L1066.83,1991.34 L1070.93,1998.28 L1075.05,2005.21 L1079.18,2012.14 L1083.33,2019.06 L1087.5,2025.97 L1091.68,2032.87 L1095.89,2039.76 L1100.1,2046.64 L1104.34,2053.5 L1108.59,2060.34 L1112.85,2067.17 L1117.14,2073.98 L1121.44,2080.76 L1125.75,2087.53 L1130.09,2094.26 L1134.44,2100.98 L1138.8,2107.66 L1143.19,2114.32 L1147.59,2120.95 L1152.01,2127.54 L1156.44,2134.11 L1160.89,2140.64 L1165.36,2147.13 L1169.84,2153.59 L1174.34,2160.01 L1178.86,2166.4 L1183.39,2172.74 L1187.94,2179.04 L1192.51,2185.3 L1197.09,2191.51 L1201.69,2197.69 L1206.31,2203.81 L1210.95,2209.89 L1215.6,2215.92 L1220.27,2221.91 L1224.95,2227.84 L1229.65,2233.73 L1234.37,2239.56 L1239.11,2245.34 L1243.86,2251.07 L1248.63,2256.75 L1253.42,2262.37 L1258.22,2267.93 L1263.04,2273.44 L1267.88,2278.9 L1272.73,2284.3 L1277.61,2289.64 L1282.49,2294.92 L1287.4,2300.15 L1292.32,2305.31 L1297.26,2310.42 L1302.22,2315.47 L1307.19,2320.46 L1312.18,2325.38 L1317.19,2330.25 L1322.21,2335.05 L1327.25,2339.8 L1332.31,2344.48 L1337.39,2349.1 L1342.48,2353.66 L1347.59,2358.15 L1352.72,2362.58 L1357.86,2366.96 L1363.02,2371.26 L1368.2,2375.51 L1373.4,2379.69 L1378.61,2383.82 L1383.84,2387.88 L1389.09,2391.87 L1394.35,2395.81 L1399.63,2399.68 L1404.93,2403.49 L1410.25,2407.24 L1415.58,2410.92 L1420.93,2414.55 L1426.3,2418.11 L1431.68,2421.61 L1437.08,2425.06 L1442.5,2428.44 L1447.94,2431.76 L1453.39,2435.02 L1458.86,2438.22 L1464.35,2441.37 L1469.86,2444.45 L1475.38,2447.48 L1480.92,2450.45 L1486.48,2453.36 L1492.05,2456.21 L1497.65,2459.01 L1503.26,2461.75 L1508.88,2464.44 L1514.53,2467.07 L1520.19,2469.65 L1525.87,2472.17 L1531.56,2474.64 L1537.28,2477.06 L1543.01,2479.43 L1548.76,2481.74 L1554.53,2484 L1560.31,2486.22 L1566.11,2488.38" stroke="#2decec" stroke-opacity="0.75"/>
<path d="M512.37,2560 L512.37,2557.34 L512.38,2553.91 L512.39,2550.13 L512.41,2546.09 L512.44,2541.85 L512.47,2537.44 L512.51,2532.88 L512.56,2528.2 L512.62,2523.41 L512.68,2518.51 L512.76,2513.51 L512.84,2508.43 L512.93,2503.26 L513.03,2498.02 L513.14,2492.71 L513.25,2487.32 L513.38,2481.88 L513.52,2476.37 L513.66,2470.8 L513.82,2465.17 L513.98,2459.49 L514.16,2453.76 L514.34,2447.98 L514.53,2442.16 L514.74,2436.28 L514.95,2430.36 L515.17,2424.4 L515.41,2418.4 L515.65,2412.36 L515.91,2406.27 L516.17,2400.15 L516.45,2394 L516.73,2387.81 L517.03,2381.58 L517.33,2375.32 L517.65,2369.03 L517.98,2362.71 L518.32,2356.36 L518.67,2349.98 L519.03,2343.57 L519.4,2337.13 L519.79,2330.66 L520.18,2324.17 L520.59,2317.66 L521,2311.12 L521.43,2304.56 L521.87,2297.97 L522.32,2291.36 L522.78,2284.73 L523.26,2278.08 L523.74,2271.41 L524.24,2264.72 L524.74,2258.02 L525.26,2251.29 L525.8,2244.55 L526.34,2237.79 L526.89,2231.02 L527.46,2224.23 L528.04,2217.43 L528.63,2210.62 L529.23,2203.79 L529.84,2196.95 L530.47,2190.1 L531.11,2183.24 L531.76,2176.37 L532.42,2169.49 L533.1,2162.6 L533.78,2155.71 L534.48,2148.81 L535.19,2141.9 L535.92,2134.99 L536.65,2128.07 L537.4,2121.16 L538.16,2114.23 L538.94,2107.31 L539.72,2100.38 L540.52,2093.46 L541.33,2086.53 L542.15,2079.61 L542.99,2072.68 L543.84,2065.76 L544.7,2058.85 L545.57,2051.93 L546.46,2045.03 L547.36,2038.13 L548.27,2031.23 L549.19,2024.35 L550.13,2017.47 L551.08,2010.6 L552.05,2003.74 L553.02,1996.9 L554.01,1990.07 L555.01,1983.24 L556.03,1976.44 L557.06,1969.65 L558.1,1962.87 L559.15,1956.11 L560.22,1949.37 L561.3,1942.65 L562.4,1935.94 L563.5,1929.26 L564.62,1922.6 L565.76,1915.96 L566.91,1909.35 L568.07,1902.76 L569.24,1896.19 L570.43,1889.65 L571.63,1883.14 L572.84,1876.66 L574.07,1870.21 L575.31,1863.79 L576.56,1857.4 L577.83,1851.04 L579.11,1844.71 L580.41,1838.42 L581.72,1832.17 L583.04,1825.95 L584.37,1819.77 L585.72,1813.63 L587.09,1807.53 L588.46,1801.47 L589.85,1795.45 L591.26,1789.48 L592.67,1783.55 L594.11,1777.67 L595.55,1771.83 L597.01,1766.04 L598.48,1760.3 L599.97,1754.61 L601.47,1748.97 L602.99,1743.38 L604.52,1737.84 L606.06,1732.36 L607.62,1726.93 L609.19,1721.56 L610.77,1716.25 L612.37,1710.99 L613.98,1705.8 L615.61,1700.67 L617.25,1695.59 L618.91,1690.59 L620.58,1685.64 L622.26,1680.76 L623.96,1675.95 L625.67,1671.2 L627.4,1666.52 L629.14,1661.91 L630.89,1657.37 L632.66,1652.91 L634.44,1648.51 L636.24,1644.19 L638.05,1639.94 L639.88,1635.77 L641.72,1631.68 L643.58,1627.66 L645.44,1623.72 L647.33,1619.87 L649.23,1616.09 L651.14,1612.39 L653.07,1608.78 L655.01,1605.25 L656.97,1601.8 L658.94,1598.44 L660.92,1595.17 L662.92,1591.98 L664.94,1588.88 L666.97,1585.88 L669.01,1582.96 L671.07,1580.13 L673.14,1577.39 L675.23,1574.74 L677.33,1572.19 L679.45,1569.73 L681.58,1567.37 L683.73,1565.1 L685.89,1562.93 L688.07,1560.85 L690.26,1558.88 L692.46,1557 L694.69,1555.22 L696.92,1553.53 L699.17,1551.95 L701.44,1550.47 L703.72,1549.09 L706.01,1547.82 L708.32,1546.64 L710.65,1545.57 L712.99,1544.6 L715.34,1543.74 L717.71,1542.97 L720.1,1542.32 L722.5,1541.77 L724.92,1541.32 L727.35,1540.98 L729.79,1540.74 L732.25,1540.62 L734.73,1540.59 L737.22,1540.68 L739.72,1540.87 L742.25,1541.17 L744.78,1541.57 L747.33,1542.09 L749.9,1542.71 L752.48,1543.43 L755.08,1544.27 L757.69,1545.21 L760.32,1546.26 L762.96,1547.42 L765.62,1548.68 L768.29,1550.05 L770.98,1551.53 L773.69,1553.12 L776.41,1554.81 L779.14,1556.61 L781.89,1558.51 L784.66,1560.52 L787.44,1562.63 L790.23,1564.85 L793.05,1567.17 L795.87,1569.6 L798.72,1572.13 L801.57,1574.77 L804.45,1577.5 L807.34,1580.34 L810.24,1583.28 L813.16,1586.32 L816.1,1589.46 L819.05,1592.7 L822.02,1596.04 L825,1599.48 L828,1603.01 L831.01,1606.64 L834.04,1610.37 L837.09,1614.19 L840.15,1618.1 L843.22,1622.11 L846.31,1626.2 L849.42,1630.39 L852.55,1634.67 L855.68,1639.04 L858.84,1643.49 L862.01,1648.03 L865.2,1652.66 L868.4,1657.37 L871.62,1662.16 L874.85,1667.04 L878.1,1671.99 L881.37,1677.03 L884.65,1682.14 L887.94,1687.33 L891.26,1692.59 L894.59,1697.93 L897.93,1703.34 L901.29,1708.82 L904.67,1714.37 L908.06,1719.99 L911.47,1725.68 L914.89,1731.43 L918.33,1737.24 L921.79,1743.12 L925.26,1749.06 L928.75,1755.05 L932.26,1761.1 L935.78,1767.21 L939.31,1773.38 L942.87,1779.59 L946.43,1785.86 L950.02,1792.18 L953.62,1798.54 L957.24,1804.95 L960.87,1811.4 L964.52,1817.9 L968.18,1824.43 L971.86,1831.01 L975.56,1837.62 L979.28,1844.27 L983.01,1850.95 L986.75,1857.67 L990.51,1864.41 L994.29,1871.18 L998.09,1877.98 L1001.9,1884.81 L1005.72,1891.65 L1009.57,1898.52 L1013.43,1905.41 L1017.3,1912.31 L1021.2,1919.24 L1025.1,1926.17 L1029.03,1933.12 L1032.97,1940.08 L1036.93,1947.05 L1040.9,1954.03 L1044.89,1961.01 L1048.9,1967.99 L1052.92,1974.98 L1056.96,1981.97 L1061.02,1988.96 L1065.09,1995.94 L1069.18,2002.92 L1073.28,2009.89 L1077.41,2016.86 L1081.54,2023.81 L1085.7,2030.75 L1089.87,2037.69 L1094.06,2044.6 L1098.26,2051.5 L1102.48,2058.39 L1106.72,2065.25 L1110.97,2072.09 L1115.24,2078.91 L1119.53,2085.71 L1123.83,2092.49 L1128.15,2099.23 L1132.49,2105.95 L1136.84,2112.64 L1141.21,2119.3 L1145.6,2125.92 L1150,2132.52 L1154.42,2139.08 L1158.86,2145.6 L1163.31,2152.08 L1167.78,2158.53 L1172.27,2164.94 L1176.77,2171.31 L1181.29,2177.63 L1185.83,2183.91 L1190.38,2190.15 L1194.95,2196.35 L1199.54,2202.49 L1204.14,2208.6 L1208.76,2214.65 L1213.4,2220.65 L1218.05,2226.61 L1222.72,2232.51 L1227.41,2238.36 L1232.11,2244.16 L1236.83,2249.91 L1241.57,2255.6 L1246.33,2261.24 L1251.1,2266.82 L1255.89,2272.35 L1260.69,2277.82 L1265.51,2283.23 L1270.35,2288.59 L1275.21,2293.88 L1280.08,2299.12 L1284.97,2304.3 L1289.88,2309.42 L1294.8,2314.48 L1299.74,2319.48 L1304.7,2324.42 L1309.67,2329.3 L1314.67,2334.11 L1319.67,2338.87 L1324.7,2343.56 L1329.74,2348.19 L1334.8,2352.76 L1339.88,2357.27 L1344.97,2361.71 L1350.08,2366.09 L1355.21,2370.41 L1360.36,2374.67 L1365.52,2378.86 L1370.7,2382.99 L1375.89,2387.06 L1381.11,2391.06 L1386.34,2395.01 L1391.59,2398.89 L1396.85,2402.71 L1402.13,2406.46 L1407.43,2410.16 L1412.75,2413.79 L1418.08,2417.36 L1423.43,2420.87 L1428.8,2424.32 L1434.19,2427.71 L1439.59,2431.04 L1445.01,2434.31 L1450.44,2437.52 L1455.9,2440.68 L1461.37,2443.77 L1466.86,2446.8 L1472.36,2449.78 L1477.89,2452.7 L1483.43,2455.56 L1488.98,2458.37 L1494.56,2461.12 L1500.15,2463.81 L1505.76,2466.45 L1511.39,2469.03 L1517.03,2471.57 L1522.69,2474.04 L1528.37,2476.47 L1534.07,2478.84 L1539.78,2481.16 L1545.51,2483.43 L1551.26,2485.66 L1557.03,2487.83 L1562.81,2489.95" stroke="#da1ada"/>
<path d="M512.37,2560 L512.37,2558.3 L512.38,2555.9 L512.39,2553.13 L512.41,2550.1 L512.44,2546.85 L512.47,2543.42 L512.51,2539.83 L512.56,2536.1 L512.62,2532.24 L512.69,2528.26 L512.76,2524.17 L512.85,2519.97 L512.94,2515.68 L513.04,2511.3 L513.15,2506.84 L513.27,2502.29 L513.4,2497.67 L513.53,2492.97 L513.68,2488.2 L513.84,2483.36 L514.01,2478.45 L514.18,2473.49 L514.37,2468.46 L514.57,2463.37 L514.77,2458.22 L514.99,2453.02 L515.22,2447.77 L515.45,2442.46 L515.7,2437.1 L515.96,2431.69 L516.23,2426.23 L516.51,2420.73 L516.8,2415.18 L517.1,2409.59 L517.41,2403.96 L517.73,2398.28 L518.07,2392.56 L518.41,2386.8 L518.77,2381 L519.13,2375.16 L519.51,2369.29 L519.9,2363.38 L520.3,2357.43 L520.71,2351.45 L521.14,2345.44 L521.57,2339.39 L522.02,2333.31 L522.47,2327.2 L522.94,2321.06 L523.42,2314.89 L523.91,2308.69 L524.42,2302.46 L524.93,2296.21 L525.46,2289.93 L526,2283.62 L526.55,2277.29 L527.12,2270.93 L527.69,2264.55 L528.28,2258.14 L528.88,2251.72 L529.49,2245.27 L530.11,2238.8 L530.75,2232.31 L531.4,2225.81 L532.06,2219.28 L532.73,2212.74 L533.42,2206.17 L534.11,2199.6 L534.82,2193 L535.54,2186.4 L536.28,2179.78 L537.03,2173.14 L537.79,2166.49 L538.56,2159.83 L539.34,2153.16 L540.14,2146.48 L540.95,2139.79 L541.78,2133.1 L542.61,2126.39 L543.46,2119.68 L544.32,2112.96 L545.2,2106.23 L546.08,2099.51 L546.98,2092.77 L547.9,2086.04 L548.82,2079.3 L549.76,2072.56 L550.71,2065.82 L551.68,2059.08 L552.66,2052.35 L553.65,2045.61 L554.65,2038.88 L555.67,2032.16 L556.7,2025.43 L557.75,2018.72 L558.8,2012.01 L559.87,2005.31 L560.96,1998.62 L562.06,1991.93 L563.17,1985.26 L564.29,1978.6 L565.43,1971.95 L566.58,1965.32 L567.74,1958.7 L568.92,1952.1 L570.11,1945.51 L571.32,1938.94 L572.54,1932.39 L573.77,1925.86 L575.02,1919.35 L576.28,1912.86 L577.55,1906.4 L578.84,1899.96 L580.14,1893.54 L581.45,1887.15 L582.78,1880.79 L584.12,1874.45 L585.48,1868.15 L586.85,1861.87 L588.24,1855.63 L589.63,1849.42 L591.04,1843.24 L592.47,1837.1 L593.91,1830.99 L595.36,1824.93 L596.83,1818.89 L598.31,1812.9 L599.81,1806.95 L601.32,1801.04 L602.84,1795.18 L604.38,1789.36 L605.93,1783.58 L607.5,1777.85 L609.08,1772.17 L610.68,1766.53 L612.29,1760.95 L613.91,1755.42 L615.55,1749.93 L617.2,1744.51 L618.87,1739.13 L620.55,1733.82 L622.24,1728.56 L623.95,1723.35 L625.67,1718.21 L627.41,1713.13 L629.17,1708.11 L630.93,1703.15 L632.71,1698.26 L634.51,1693.43 L636.32,1688.66 L638.15,1683.97 L639.99,1679.34 L641.84,1674.78 L643.71,1670.3 L645.59,1665.88 L647.49,1661.54 L649.41,1657.27 L651.33,1653.08 L653.27,1648.97 L655.23,1644.93 L657.2,1640.97 L659.19,1637.09 L661.19,1633.29 L663.21,1629.57 L665.24,1625.94 L667.28,1622.39 L669.34,1618.92 L671.42,1615.54 L673.51,1612.25 L675.62,1609.04 L677.74,1605.93 L679.87,1602.9 L682.02,1599.97 L684.19,1597.12 L686.37,1594.37 L688.56,1591.71 L690.77,1589.15 L693,1586.68 L695.24,1584.31 L697.49,1582.03 L699.76,1579.85 L702.05,1577.77 L704.35,1575.79 L706.66,1573.91 L708.99,1572.13 L711.34,1570.45 L713.7,1568.87 L716.08,1567.4 L718.47,1566.03 L720.87,1564.76 L723.3,1563.6 L725.73,1562.54 L728.19,1561.59 L730.65,1560.74 L733.14,1560 L735.63,1559.37 L738.15,1558.84 L740.68,1558.43 L743.22,1558.12 L745.78,1557.92 L748.36,1557.82 L750.95,1557.84 L753.55,1557.97 L756.18,1558.2 L758.81,1558.55 L761.46,1559 L764.13,1559.57 L766.82,1560.24 L769.52,1561.03 L772.23,1561.93 L774.96,1562.93 L777.71,1564.05 L780.47,1565.27 L783.24,1566.61 L786.04,1568.06 L788.84,1569.61 L791.67,1571.28 L794.51,1573.05 L797.36,1574.94 L800.23,1576.93 L803.12,1579.03 L806.02,1581.24 L808.94,1583.56 L811.87,1585.98 L814.82,1588.51 L817.79,1591.15 L820.77,1593.89 L823.77,1596.74 L826.78,1599.69 L829.81,1602.75 L832.85,1605.91 L835.91,1609.17 L838.99,1612.53 L842.08,1616 L845.19,1619.56 L848.31,1623.23 L851.45,1626.99 L854.61,1630.85 L857.78,1634.81 L860.97,1638.86 L864.17,1643 L867.39,1647.24 L870.63,1651.58 L873.88,1656 L877.14,1660.52 L880.43,1665.12 L883.73,1669.81 L887.04,1674.59 L890.38,1679.45 L893.72,1684.4 L897.09,1689.43 L900.47,1694.54 L903.86,1699.73 L907.28,1705 L910.7,1710.35 L914.15,1715.77 L917.61,1721.27 L921.09,1726.84 L924.58,1732.48 L928.09,1738.19 L931.62,1743.97 L935.16,1749.82 L938.72,1755.73 L942.29,1761.71 L945.88,1767.74 L949.49,1773.84 L953.11,1779.99 L956.75,1786.2 L960.41,1792.47 L964.08,1798.79 L967.77,1805.15 L971.47,1811.57 L975.2,1818.04 L978.93,1824.55 L982.69,1831.11 L986.46,1837.71 L990.25,1844.35 L994.05,1851.03 L997.87,1857.74 L1001.71,1864.49 L1005.56,1871.28 L1009.43,1878.09 L1013.32,1884.94 L1017.22,1891.81 L1021.14,1898.7 L1025.07,1905.62 L1029.02,1912.57 L1032.99,1919.53 L1036.98,1926.51 L1040.98,1933.51 L1045,1940.52 L1049.03,1947.54 L1053.09,1954.57 L1057.15,1961.62 L1061.24,1968.67 L1065.34,1975.72 L1069.46,1982.78 L1073.59,1989.84 L1077.75,1996.89 L1081.91,2003.95 L1086.1,2011 L1090.3,2018.05 L1094.52,2025.09 L1098.75,2032.12 L1103.01,2039.13 L1107.27,2046.14 L1111.56,2053.13 L1115.86,2060.1 L1120.18,2067.06 L1124.52,2074 L1128.87,2080.91 L1133.24,2087.8 L1137.63,2094.67 L1142.03,2101.52 L1146.45,2108.33 L1150.89,2115.12 L1155.34,2121.87 L1159.81,2128.6 L1164.3,2135.29 L1168.8,2141.94 L1173.32,2148.56 L1177.86,2155.15 L1182.42,2161.69 L1186.99,2168.19 L1191.58,2174.66 L1196.19,2181.08 L1200.81,2187.45 L1205.45,2193.78 L1210.11,2200.07 L1214.78,2206.31 L1219.47,2212.49 L1224.18,2218.64 L1228.91,2224.72 L1233.65,2230.76 L1238.41,2236.75 L1243.18,2242.68 L1247.98,2248.56 L1252.79,2254.39 L1257.62,2260.15 L1262.46,2265.87 L1267.32,2271.52 L1272.2,2277.12 L1277.1,2282.65 L1282.01,2288.13 L1286.94,2293.55 L1291.89,2298.91 L1296.86,2304.21 L1301.84,2309.44 L1306.84,2314.62 L1311.86,2319.73 L1316.89,2324.78 L1321.94,2329.76 L1327.01,2334.68 L1332.1,2339.54 L1337.2,2344.33 L1342.32,2349.06 L1347.46,2353.73 L1352.61,2358.33 L1357.78,2362.86 L1362.97,2367.33 L1368.18,2371.74 L1373.4,2376.08 L1378.64,2380.35 L1383.9,2384.56 L1389.18,2388.7 L1394.47,2392.78 L1399.78,2396.79 L1405.11,2400.74 L1410.46,2404.63 L1415.82,2408.44 L1421.2,2412.2 L1426.6,2415.89 L1432.02,2419.52 L1437.45,2423.08 L1442.9,2426.58 L1448.37,2430.01 L1453.85,2433.39 L1459.36,2436.7 L1464.88,2439.95 L1470.41,2443.14 L1475.97,2446.26 L1481.54,2449.33 L1487.13,2452.33 L1492.74,2455.28 L1498.37,2458.17 L1504.01,2460.99 L1509.67,2463.76 L1515.35,2466.47 L1521.04,2469.13 L1526.76,2471.73 L1532.49,2474.27 L1538.24,2476.76 L1544,2479.19 L1549.79,2481.57 L1555.59,2483.89 L1561.41,2486.16 L1567.24,2488.38 L1573.1,2490.55 L1578.97,2492.66" stroke="#f8f839" stroke-opacity="0.7"/>
</g>
<path d="M328.14,2560 H512.37" stroke="#f8f839" stroke-width="5" fill="none"/>
<rect x="1331.1" y="1571.6" width="294.4" height="281.6" fill="#ffffff" stroke="#8c8c8c" stroke-width="5.2"/>
<line x1="1355.5" y1="1600.9" x2="1488.3" y2="1600.9" stroke="#000000" stroke-width="4.6"/>
<text transform="translate(1498.32 1613.9) scale(1.05 1)" font-family='"Liberation Sans", Arial, Helvetica, sans-serif' font-size="37" fill="#1a1a1a" stroke="#1a1a1a" stroke-width="0.6">Array1</text>
<line x1="1355.5" y1="1645.66" x2="1488.3" y2="1645.66" stroke="#0707c7" stroke-width="4.6"/>
<text transform="translate(1498.32 1658.16) scale(1.05 1)" font-family='"Liberation Sans", Arial, Helvetica, sans-serif' font-size="37" fill="#1a1a1a" stroke="#1a1a1a" stroke-width="0.6">Array2</text>
<line x1="1355.5" y1="1690.42" x2="1488.3" y2="1690.42" stroke="#d21313" stroke-width="4.6"/>
<text transform="translate(1498.32 1702.42) scale(1.05 1)" font-family='"Liberation Sans", Arial, Helvetica, sans-serif' font-size="37" fill="#1a1a1a" stroke="#1a1a1a" stroke-width="0.6">Array3</text>
<line x1="1355.5" y1="1735.18" x2="1488.3" y2="1735.18" stroke="#2decec" stroke-width="4.6"/>
<text transform="translate(1498.32 1746.68) scale(1.05 1)" font-family='"Liberation Sans", Arial, Helvetica, sans-serif' font-size="37" fill="#1a1a1a" stroke="#1a1a1a" stroke-width="0.6">Array4</text>
<line x1="1355.5" y1="1779.94" x2="1488.3" y2="1779.94" stroke="#da1ada" stroke-width="4.6"/>
<text transform="translate(1498.32 1790.94) scale(1.05 1)" font-family='"Liberation Sans", Arial, Helvetica, sans-serif' font-size="37" fill="#1a1a1a" stroke="#1a1a1a" stroke-width="0.6">Array5</text>
<line x1="1355.5" y1="1824.7" x2="1488.3" y2="1824.7" stroke="#f8f839" stroke-width="4.6"/>
<text transform="translate(1498.32 1835.2) scale(1.05 1)" font-family='"Liberation Sans", Arial, Helvetica, sans-serif' font-size="37" fill="#1a1a1a" stroke="#1a1a1a" stroke-width="0.6">Array6</text>
<text transform="translate(243.5 2571.25) scale(1.08 1)" font-family='"Liberation Sans", Arial, Helvetica, sans-serif' font-size="38.5" fill="#262626" stroke="#262626" stroke-width="0.4">0</text>
<text transform="translate(181.1 2442.97) scale(1.08 1)" font-family='"Liberation Sans", Arial, Helvetica, sans-serif' font-size="38.5" fill="#262626" stroke="#262626" stroke-width="0.4">0.01</text>
<text transform="translate(186.16 2314.68) scale(1.08 1)" font-family='"Liberation Sans", Arial, Helvetica, sans-serif' font-size="38.5" fill="#262626" stroke="#262626" stroke-width="0.4">0.02</text>
<text transform="translate(185.9 2186.39) scale(1.08 1)" font-family='"Liberation Sans", Arial, Helvetica, sans-serif' font-size="38.5" fill="#262626" stroke="#262626" stroke-width="0.4">0.03</text>
<text transform="translate(185.29 2058.1) scale(1.08 1)" font-family='"Liberation Sans", Arial, Helvetica, sans-serif' font-size="38.5" fill="#262626" stroke="#262626" stroke-width="0.4">0.04</text>
<text transform="translate(185.82 1929.82) scale(1.08 1)" font-family='"Liberation Sans", Arial, Helvetica, sans-serif' font-size="38.5" fill="#262626" stroke="#262626" stroke-width="0.4">0.05</text>
<text transform="translate(185.9 1801.53) scale(1.08 1)" font-family='"Liberation Sans", Arial, Helvetica, sans-serif' font-size="38.5" fill="#262626" stroke="#262626" stroke-width="0.4">0.06</text>
<text transform="translate(186.16 1673.24) scale(1.08 1)" font-family='"Liberation Sans", Arial, Helvetica, sans-serif' font-size="38.5" fill="#262626" stroke="#262626" stroke-width="0.4">0.07</text>
<text transform="translate(185.88 1544.95) scale(1.08 1)" font-family='"Liberation Sans", Arial, Helvetica, sans-serif' font-size="38.5" fill="#262626" stroke="#262626" stroke-width="0.4">0.08</text>
<text transform="translate(262.96 2611.99) scale(1.08 1)" font-family='"Liberation Sans", Arial, Helvetica, sans-serif' font-size="38.5" fill="#262626" stroke="#262626" stroke-width="0.4">-5</text>
<text transform="translate(500.8 2612.38) scale(1.08 1)" font-family='"Liberation Sans", Arial, Helvetica, sans-serif' font-size="38.5" fill="#262626" stroke="#262626" stroke-width="0.4">0</text>
<text transform="translate(731.71 2611.99) scale(1.08 1)" font-family='"Liberation Sans", Arial, Helvetica, sans-serif' font-size="38.5" fill="#262626" stroke="#262626" stroke-width="0.4">5</text>
<text transform="translate(952.7 2612.38) scale(1.08 1)" font-family='"Liberation Sans", Arial, Helvetica, sans-serif' font-size="38.5" fill="#262626" stroke="#262626" stroke-width="0.4">10</text>
<text transform="translate(1183.63 2611.99) scale(1.08 1)" font-family='"Liberation Sans", Arial, Helvetica, sans-serif' font-size="38.5" fill="#262626" stroke="#262626" stroke-width="0.4">15</text>
<text transform="translate(1412.48 2612.38) scale(1.08 1)" font-family='"Liberation Sans", Arial, Helvetica, sans-serif' font-size="38.5" fill="#262626" stroke="#262626" stroke-width="0.4">20</text>
<text transform="translate(1643.4 2612.38) scale(1.08 1)" font-family='"Liberation Sans", Arial, Helvetica, sans-serif' font-size="38.5" fill="#262626" stroke="#262626" stroke-width="0.4">25</text>
<text transform="translate(869.91 1506.6) scale(1.09 1)" font-family='"Liberation Sans", Arial, Helvetica, sans-serif' font-size="43.5" font-weight="bold" fill="#000000">3 months</text>
<rect x="325.4" y="2995" width="1346.8" height="997.2" fill="none" stroke="#8c8c8c" stroke-width="5.2"/>
<path d="M493.75,3992.2 v-15 M493.75,2995 v15 M662.1,3992.2 v-15 M662.1,2995 v15 M830.45,3992.2 v-15 M830.45,2995 v15 M998.8,3992.2 v-15 M998.8,2995 v15 M1167.15,3992.2 v-15 M1167.15,2995 v15 M1335.5,3992.2 v-15 M1335.5,2995 v15 M1503.85,3992.2 v-15 M1503.85,2995 v15 M325.4,3881.4 h15 M1672.2,3881.4 h-15 M325.4,3770.6 h15 M1672.2,3770.6 h-15 M325.4,3659.8 h15 M1672.2,3659.8 h-15 M325.4,3549 h15 M1672.2,3549 h-15 M325.4,3438.2 h15 M1672.2,3438.2 h-15 M325.4,3327.4 h15 M1672.2,3327.4 h-15 M325.4,3216.6 h15 M1672.2,3216.6 h-15 M325.4,3105.8 h15 M1672.2,3105.8 h-15" stroke="#141414" stroke-width="3.2" fill="none"/>
<g clip-path="url(#c4)" fill="none" stroke-width="3.4" stroke-linejoin="round" stroke-linecap="butt">
<path d="M474.89,3955.84 L477.72,3952.82 L480.55,3949.76 L483.38,3946.67 L486.21,3943.54 L489.04,3940.39 L491.87,3937.2 L494.69,3933.98 L497.52,3930.72 L500.35,3927.44 L503.18,3924.12 L506.01,3920.77 L508.84,3917.38 L511.66,3913.97 L514.49,3910.52 L517.32,3907.04 L520.15,3903.53 L522.98,3899.99 L525.81,3896.42 L528.63,3892.81 L531.46,3889.17 L534.29,3885.51 L537.12,3881.81 L539.95,3878.08 L542.78,3874.32 L545.6,3870.52 L548.43,3866.7 L551.26,3862.85 L554.09,3858.97 L556.92,3855.06 L559.75,3851.11 L562.58,3847.14 L565.4,3843.14 L568.23,3839.11 L571.06,3835.05 L573.89,3830.96 L576.72,3826.84 L579.55,3822.7 L582.37,3818.52 L585.2,3814.32 L588.03,3810.09 L590.86,3805.83 L593.69,3801.54 L596.52,3797.23 L599.34,3792.89 L602.17,3788.52 L605,3784.13 L607.83,3779.71 L610.66,3775.27 L613.49,3770.8 L616.32,3766.3 L619.14,3761.78 L621.97,3757.23 L624.8,3752.66 L627.63,3748.07 L630.46,3743.45 L633.29,3738.8 L636.11,3734.14 L638.94,3729.45 L641.77,3724.74 L644.6,3720 L647.43,3715.24 L650.26,3710.47 L653.08,3705.67 L655.91,3700.85 L658.74,3696 L661.57,3691.14 L664.4,3686.26 L667.23,3681.36 L670.05,3676.44 L672.88,3671.5 L675.71,3666.54 L678.54,3661.57 L681.37,3656.58 L684.2,3651.56 L687.03,3646.54 L689.85,3641.49 L692.68,3636.43 L695.51,3631.36 L698.34,3626.27 L701.17,3621.16 L704,3616.05 L706.82,3610.91 L709.65,3605.77 L712.48,3600.61 L715.31,3595.44 L718.14,3590.25 L720.97,3585.06 L723.79,3579.85 L726.62,3574.64 L729.45,3569.41 L732.28,3564.17 L735.11,3558.93 L737.94,3553.68 L740.77,3548.42 L743.59,3543.15 L746.42,3537.87 L749.25,3532.59 L752.08,3527.3 L754.91,3522.01 L757.74,3516.71 L760.56,3511.41 L763.39,3506.1 L766.22,3500.79 L769.05,3495.48 L771.88,3490.17 L774.71,3484.85 L777.53,3479.53 L780.36,3474.22 L783.19,3468.9 L786.02,3463.59 L788.85,3458.27 L791.68,3452.96 L794.5,3447.65 L797.33,3442.34 L800.16,3437.04 L802.99,3431.74 L805.82,3426.45 L808.65,3421.16 L811.48,3415.88 L814.3,3410.61 L817.13,3405.34 L819.96,3400.08 L822.79,3394.83 L825.62,3389.59 L828.45,3384.36 L831.27,3379.14 L834.1,3373.93 L836.93,3368.73 L839.76,3363.55 L842.59,3358.38 L845.42,3353.22 L848.24,3348.08 L851.07,3342.95 L853.9,3337.84 L856.73,3332.74 L859.56,3327.66 L862.39,3322.6 L865.21,3317.56 L868.04,3312.54 L870.87,3307.53 L873.7,3302.55 L876.53,3297.59 L879.36,3292.65 L882.19,3287.73 L885.01,3282.84 L887.84,3277.97 L890.67,3273.12 L893.5,3268.3 L896.33,3263.51 L899.16,3258.74 L901.98,3254 L904.81,3249.28 L907.64,3244.6 L910.47,3239.94 L913.3,3235.31 L916.13,3230.72 L918.95,3226.15 L921.78,3221.62 L924.61,3217.12 L927.44,3212.65 L930.27,3208.22 L933.1,3203.82 L935.93,3199.46 L938.75,3195.13 L941.58,3190.84 L944.41,3186.58 L947.24,3182.36 L950.07,3178.19 L952.9,3174.05 L955.72,3169.95 L958.55,3165.89 L961.38,3161.87 L964.21,3157.89 L967.04,3153.96 L969.87,3150.06 L972.69,3146.21 L975.52,3142.41 L978.35,3138.65 L981.18,3134.93 L984.01,3131.27 L986.84,3127.64 L989.66,3124.07 L992.49,3120.54 L995.32,3117.06 L998.15,3113.63 L1000.98,3110.25 L1003.81,3106.92 L1006.64,3103.64 L1009.46,3100.41 L1012.29,3097.23 L1015.12,3094.1 L1017.95,3091.03 L1020.78,3088.01 L1023.61,3085.04 L1026.43,3082.13 L1029.26,3079.27 L1032.09,3076.47 L1034.92,3073.73 L1037.75,3071.04 L1040.58,3068.4 L1043.4,3065.83 L1046.23,3063.31 L1049.06,3060.85 L1051.89,3058.45 L1054.72,3056.11 L1057.55,3053.83 L1060.37,3051.6 L1063.2,3049.44 L1066.03,3047.34 L1068.86,3045.3 L1071.69,3043.32 L1074.52,3041.41 L1077.35,3039.55 L1080.17,3037.76 L1083,3036.03 L1085.83,3034.37 L1088.66,3032.77 L1091.49,3031.23 L1094.32,3029.76 L1097.14,3028.35 L1099.97,3027.01 L1102.8,3025.73 L1105.63,3024.52 L1108.46,3023.38 L1111.29,3022.3 L1114.11,3021.28 L1116.94,3020.34 L1119.77,3019.46 L1122.6,3018.65 L1125.43,3017.9 L1128.26,3017.22 L1131.09,3016.61 L1133.91,3016.07 L1136.74,3015.6 L1139.57,3015.19 L1142.4,3014.85 L1145.23,3014.59 L1148.06,3014.39 L1150.88,3014.25 L1153.71,3014.19 L1156.54,3014.2 L1159.37,3014.27 L1162.2,3014.41 L1165.03,3014.63 L1167.85,3014.91 L1170.68,3015.26 L1173.51,3015.68 L1176.34,3016.16 L1179.17,3016.72 L1182,3017.35 L1184.82,3018.04 L1187.65,3018.81 L1190.48,3019.64 L1193.31,3020.54 L1196.14,3021.51 L1198.97,3022.55 L1201.8,3023.66 L1204.62,3024.83 L1207.45,3026.08 L1210.28,3027.39 L1213.11,3028.77 L1215.94,3030.22 L1218.77,3031.73 L1221.59,3033.31 L1224.42,3034.96 L1227.25,3036.68 L1230.08,3038.46 L1232.91,3040.31 L1235.74,3042.22 L1238.56,3044.2 L1241.39,3046.25 L1244.22,3048.36 L1247.05,3050.54 L1249.88,3052.78 L1252.71,3055.08 L1255.54,3057.45 L1258.36,3059.89 L1261.19,3062.38 L1264.02,3064.94 L1266.85,3067.56 L1269.68,3070.24 L1272.51,3072.99 L1275.33,3075.79 L1278.16,3078.66 L1280.99,3081.59 L1283.82,3084.57 L1286.65,3087.62 L1289.48,3090.72 L1292.3,3093.89 L1295.13,3097.11 L1297.96,3100.39 L1300.79,3103.72 L1303.62,3107.11 L1306.45,3110.56 L1309.27,3114.06 L1312.1,3117.62 L1314.93,3121.23 L1317.76,3124.89 L1320.59,3128.61 L1323.42,3132.38 L1326.25,3136.2 L1329.07,3140.08 L1331.9,3144 L1334.73,3147.97 L1337.56,3151.99 L1340.39,3156.06 L1343.22,3160.18 L1346.04,3164.35 L1348.87,3168.56 L1351.7,3172.82 L1354.53,3177.12 L1357.36,3181.47 L1360.19,3185.86 L1363.01,3190.29 L1365.84,3194.77 L1368.67,3199.29 L1371.5,3203.85 L1374.33,3208.44 L1377.16,3213.08 L1379.98,3217.76 L1382.81,3222.47 L1385.64,3227.23 L1388.47,3232.01 L1391.3,3236.84 L1394.13,3241.7 L1396.96,3246.59 L1399.78,3251.51 L1402.61,3256.47 L1405.44,3261.46 L1408.27,3266.48 L1411.1,3271.53 L1413.93,3276.61 L1416.75,3281.72 L1419.58,3286.86 L1422.41,3292.02 L1425.24,3297.21 L1428.07,3302.43 L1430.9,3307.66 L1433.72,3312.93 L1436.55,3318.21 L1439.38,3323.52 L1442.21,3328.85 L1445.04,3334.19 L1447.87,3339.56 L1450.7,3344.95 L1453.52,3350.35 L1456.35,3355.77 L1459.18,3361.21 L1462.01,3366.66 L1464.84,3372.13 L1467.67,3377.61 L1470.49,3383.11 L1473.32,3388.61 L1476.15,3394.13 L1478.98,3399.66 L1481.81,3405.19 L1484.64,3410.74 L1487.46,3416.29 L1490.29,3421.86 L1493.12,3427.42 L1495.95,3433 L1498.78,3438.57 L1501.61,3444.16 L1504.43,3449.74 L1507.26,3455.33 L1510.09,3460.92 L1512.92,3466.51 L1515.75,3472.1 L1518.58,3477.69 L1521.41,3483.28 L1524.23,3488.86 L1527.06,3494.45 L1529.89,3500.02 L1532.72,3505.6 L1535.55,3511.17 L1538.38,3516.73 L1541.2,3522.29 L1544.03,3527.84 L1546.86,3533.38 L1549.69,3538.91 L1552.52,3544.44 L1555.35,3549.95 L1558.17,3555.45 L1561,3560.94 L1563.83,3566.42 L1566.66,3571.89 L1569.49,3577.34 L1572.32,3582.78 L1575.14,3588.2 L1577.97,3593.61 L1580.8,3599 L1583.63,3604.37 L1586.46,3609.73 L1589.29,3615.07 L1592.12,3620.39 L1594.94,3625.69 L1597.77,3630.97 L1600.6,3636.24 L1603.43,3641.48" stroke="#000000"/>
<path d="M465.91,3956.01 L468.72,3952.95 L471.52,3949.86 L474.33,3946.73 L477.13,3943.57 L479.94,3940.38 L482.75,3937.15 L485.55,3933.9 L488.36,3930.6 L491.16,3927.28 L493.97,3923.92 L496.77,3920.53 L499.58,3917.11 L502.38,3913.65 L505.19,3910.17 L507.99,3906.65 L510.8,3903.09 L513.6,3899.51 L516.41,3895.89 L519.21,3892.25 L522.02,3888.57 L524.82,3884.85 L527.63,3881.11 L530.44,3877.34 L533.24,3873.53 L536.05,3869.69 L538.85,3865.82 L541.66,3861.93 L544.46,3858 L547.27,3854.04 L550.07,3850.05 L552.88,3846.03 L555.68,3841.98 L558.49,3837.9 L561.29,3833.79 L564.1,3829.65 L566.9,3825.48 L569.71,3821.28 L572.52,3817.06 L575.32,3812.8 L578.13,3808.52 L580.93,3804.21 L583.74,3799.87 L586.54,3795.51 L589.35,3791.11 L592.15,3786.69 L594.96,3782.25 L597.76,3777.77 L600.57,3773.27 L603.37,3768.75 L606.18,3764.2 L608.98,3759.62 L611.79,3755.02 L614.6,3750.39 L617.4,3745.74 L620.21,3741.06 L623.01,3736.36 L625.82,3731.64 L628.62,3726.9 L631.43,3722.13 L634.23,3717.33 L637.04,3712.52 L639.84,3707.68 L642.65,3702.83 L645.45,3697.95 L648.26,3693.05 L651.06,3688.13 L653.87,3683.19 L656.67,3678.23 L659.48,3673.25 L662.29,3668.25 L665.09,3663.24 L667.9,3658.2 L670.7,3653.15 L673.51,3648.08 L676.31,3642.99 L679.12,3637.89 L681.92,3632.77 L684.73,3627.64 L687.53,3622.49 L690.34,3617.32 L693.14,3612.14 L695.95,3606.95 L698.75,3601.75 L701.56,3596.53 L704.37,3591.3 L707.17,3586.05 L709.98,3580.8 L712.78,3575.53 L715.59,3570.26 L718.39,3564.97 L721.2,3559.68 L724,3554.37 L726.81,3549.06 L729.61,3543.74 L732.42,3538.41 L735.22,3533.08 L738.03,3527.74 L740.83,3522.39 L743.64,3517.04 L746.44,3511.68 L749.25,3506.32 L752.06,3500.96 L754.86,3495.59 L757.67,3490.22 L760.47,3484.85 L763.28,3479.47 L766.08,3474.1 L768.89,3468.73 L771.69,3463.35 L774.5,3457.98 L777.3,3452.61 L780.11,3447.24 L782.91,3441.88 L785.72,3436.51 L788.52,3431.16 L791.33,3425.8 L794.14,3420.45 L796.94,3415.11 L799.75,3409.78 L802.55,3404.45 L805.36,3399.13 L808.16,3393.81 L810.97,3388.51 L813.77,3383.22 L816.58,3377.93 L819.38,3372.66 L822.19,3367.4 L824.99,3362.15 L827.8,3356.92 L830.6,3351.7 L833.41,3346.49 L836.22,3341.3 L839.02,3336.12 L841.83,3330.96 L844.63,3325.81 L847.44,3320.69 L850.24,3315.58 L853.05,3310.49 L855.85,3305.42 L858.66,3300.37 L861.46,3295.34 L864.27,3290.33 L867.07,3285.35 L869.88,3280.39 L872.68,3275.45 L875.49,3270.53 L878.29,3265.64 L881.1,3260.78 L883.91,3255.94 L886.71,3251.13 L889.52,3246.35 L892.32,3241.6 L895.13,3236.87 L897.93,3232.18 L900.74,3227.51 L903.54,3222.88 L906.35,3218.27 L909.15,3213.7 L911.96,3209.16 L914.76,3204.66 L917.57,3200.19 L920.37,3195.76 L923.18,3191.36 L925.99,3187 L928.79,3182.67 L931.6,3178.38 L934.4,3174.13 L937.21,3169.92 L940.01,3165.75 L942.82,3161.62 L945.62,3157.53 L948.43,3153.49 L951.23,3149.48 L954.04,3145.52 L956.84,3141.6 L959.65,3137.72 L962.45,3133.89 L965.26,3130.1 L968.06,3126.36 L970.87,3122.67 L973.68,3119.02 L976.48,3115.43 L979.29,3111.88 L982.09,3108.37 L984.9,3104.92 L987.7,3101.52 L990.51,3098.17 L993.31,3094.87 L996.12,3091.62 L998.92,3088.42 L1001.73,3085.28 L1004.53,3082.19 L1007.34,3079.15 L1010.14,3076.17 L1012.95,3073.24 L1015.76,3070.37 L1018.56,3067.56 L1021.37,3064.8 L1024.17,3062.1 L1026.98,3059.45 L1029.78,3056.86 L1032.59,3054.34 L1035.39,3051.87 L1038.2,3049.46 L1041,3047.11 L1043.81,3044.81 L1046.61,3042.59 L1049.42,3040.42 L1052.22,3038.31 L1055.03,3036.26 L1057.84,3034.28 L1060.64,3032.36 L1063.45,3030.5 L1066.25,3028.71 L1069.06,3026.98 L1071.86,3025.31 L1074.67,3023.71 L1077.47,3022.17 L1080.28,3020.7 L1083.08,3019.29 L1085.89,3017.95 L1088.69,3016.68 L1091.5,3015.47 L1094.3,3014.32 L1097.11,3013.25 L1099.91,3012.24 L1102.72,3011.3 L1105.53,3010.42 L1108.33,3009.62 L1111.14,3008.88 L1113.94,3008.21 L1116.75,3007.6 L1119.55,3007.07 L1122.36,3006.6 L1125.16,3006.21 L1127.97,3005.88 L1130.77,3005.62 L1133.58,3005.43 L1136.38,3005.31 L1139.19,3005.25 L1141.99,3005.27 L1144.8,3005.36 L1147.61,3005.51 L1150.41,3005.74 L1153.22,3006.04 L1156.02,3006.4 L1158.83,3006.83 L1161.63,3007.34 L1164.44,3007.91 L1167.24,3008.55 L1170.05,3009.26 L1172.85,3010.05 L1175.66,3010.9 L1178.46,3011.82 L1181.27,3012.8 L1184.07,3013.86 L1186.88,3014.99 L1189.68,3016.18 L1192.49,3017.45 L1195.3,3018.78 L1198.1,3020.18 L1200.91,3021.65 L1203.71,3023.18 L1206.52,3024.79 L1209.32,3026.46 L1212.13,3028.2 L1214.93,3030 L1217.74,3031.87 L1220.54,3033.81 L1223.35,3035.82 L1226.15,3037.89 L1228.96,3040.02 L1231.76,3042.22 L1234.57,3044.49 L1237.38,3046.82 L1240.18,3049.21 L1242.99,3051.67 L1245.79,3054.19 L1248.6,3056.78 L1251.4,3059.43 L1254.21,3062.14 L1257.01,3064.91 L1259.82,3067.74 L1262.62,3070.64 L1265.43,3073.59 L1268.23,3076.61 L1271.04,3079.68 L1273.84,3082.81 L1276.65,3086.01 L1279.46,3089.26 L1282.26,3092.56 L1285.07,3095.93 L1287.87,3099.35 L1290.68,3102.83 L1293.48,3106.36 L1296.29,3109.95 L1299.09,3113.59 L1301.9,3117.28 L1304.7,3121.03 L1307.51,3124.83 L1310.31,3128.69 L1313.12,3132.59 L1315.92,3136.54 L1318.73,3140.55 L1321.53,3144.6 L1324.34,3148.7 L1327.15,3152.85 L1329.95,3157.05 L1332.76,3161.3 L1335.56,3165.59 L1338.37,3169.92 L1341.17,3174.3 L1343.98,3178.72 L1346.78,3183.19 L1349.59,3187.7 L1352.39,3192.25 L1355.2,3196.84 L1358,3201.47 L1360.81,3206.14 L1363.61,3210.85 L1366.42,3215.6 L1369.23,3220.39 L1372.03,3225.21 L1374.84,3230.07 L1377.64,3234.96 L1380.45,3239.88 L1383.25,3244.84 L1386.06,3249.83 L1388.86,3254.86 L1391.67,3259.91 L1394.47,3265 L1397.28,3270.11 L1400.08,3275.25 L1402.89,3280.42 L1405.69,3285.62 L1408.5,3290.84 L1411.3,3296.09 L1414.11,3301.36 L1416.92,3306.65 L1419.72,3311.97 L1422.53,3317.31 L1425.33,3322.68 L1428.14,3328.06 L1430.94,3333.46 L1433.75,3338.88 L1436.55,3344.32 L1439.36,3349.77 L1442.16,3355.24 L1444.97,3360.73 L1447.77,3366.23 L1450.58,3371.74 L1453.38,3377.27 L1456.19,3382.81 L1459,3388.36 L1461.8,3393.92 L1464.61,3399.49 L1467.41,3405.07 L1470.22,3410.65 L1473.02,3416.25 L1475.83,3421.85 L1478.63,3427.46 L1481.44,3433.07 L1484.24,3438.68 L1487.05,3444.3 L1489.85,3449.92 L1492.66,3455.54 L1495.46,3461.16 L1498.27,3466.79 L1501.08,3472.41 L1503.88,3478.03 L1506.69,3483.65 L1509.49,3489.26 L1512.3,3494.87 L1515.1,3500.48 L1517.91,3506.08 L1520.71,3511.68 L1523.52,3517.27 L1526.32,3522.85 L1529.13,3528.42 L1531.93,3533.99 L1534.74,3539.54 L1537.54,3545.09 L1540.35,3550.62 L1543.15,3556.14 L1545.96,3561.65 L1548.77,3567.15 L1551.57,3572.63 L1554.38,3578.1 L1557.18,3583.56 L1559.99,3589 L1562.79,3594.42 L1565.6,3599.83 L1568.4,3605.21 L1571.21,3610.58 L1574.01,3615.94 L1576.82,3621.27 L1579.62,3626.58 L1582.43,3631.87 L1585.23,3637.15" stroke="#0707c7"/>
<path d="M461.83,3956.12 L464.63,3953.04 L467.42,3949.94 L470.22,3946.79 L473.01,3943.62 L475.8,3940.41 L478.6,3937.17 L481.39,3933.89 L484.19,3930.58 L486.98,3927.24 L489.78,3923.87 L492.57,3920.46 L495.37,3917.02 L498.16,3913.54 L500.96,3910.04 L503.75,3906.5 L506.55,3902.93 L509.34,3899.32 L512.14,3895.69 L514.93,3892.02 L517.73,3888.32 L520.52,3884.59 L523.32,3880.82 L526.11,3877.03 L528.91,3873.2 L531.7,3869.34 L534.5,3865.45 L537.29,3861.53 L540.09,3857.58 L542.88,3853.6 L545.68,3849.59 L548.47,3845.54 L551.27,3841.47 L554.06,3837.37 L556.85,3833.24 L559.65,3829.07 L562.44,3824.88 L565.24,3820.66 L568.03,3816.41 L570.83,3812.14 L573.62,3807.83 L576.42,3803.5 L579.21,3799.13 L582.01,3794.74 L584.8,3790.32 L587.6,3785.88 L590.39,3781.41 L593.19,3776.91 L595.98,3772.38 L598.78,3767.83 L601.57,3763.26 L604.37,3758.65 L607.16,3754.03 L609.96,3749.37 L612.75,3744.7 L615.55,3740 L618.34,3735.27 L621.14,3730.52 L623.93,3725.75 L626.73,3720.95 L629.52,3716.13 L632.31,3711.29 L635.11,3706.43 L637.9,3701.55 L640.7,3696.64 L643.49,3691.71 L646.29,3686.77 L649.08,3681.8 L651.88,3676.81 L654.67,3671.81 L657.47,3666.78 L660.26,3661.74 L663.06,3656.68 L665.85,3651.6 L668.65,3646.5 L671.44,3641.38 L674.24,3636.25 L677.03,3631.11 L679.83,3625.94 L682.62,3620.77 L685.42,3615.57 L688.21,3610.37 L691.01,3605.15 L693.8,3599.91 L696.6,3594.67 L699.39,3589.41 L702.19,3584.14 L704.98,3578.86 L707.78,3573.56 L710.57,3568.26 L713.36,3562.95 L716.16,3557.62 L718.95,3552.29 L721.75,3546.95 L724.54,3541.6 L727.34,3536.25 L730.13,3530.89 L732.93,3525.52 L735.72,3520.14 L738.52,3514.76 L741.31,3509.38 L744.11,3503.99 L746.9,3498.6 L749.7,3493.21 L752.49,3487.81 L755.29,3482.41 L758.08,3477.01 L760.88,3471.61 L763.67,3466.21 L766.47,3460.81 L769.26,3455.41 L772.06,3450.01 L774.85,3444.62 L777.65,3439.23 L780.44,3433.84 L783.24,3428.45 L786.03,3423.08 L788.82,3417.7 L791.62,3412.33 L794.41,3406.97 L797.21,3401.62 L800,3396.27 L802.8,3390.94 L805.59,3385.61 L808.39,3380.29 L811.18,3374.98 L813.98,3369.68 L816.77,3364.4 L819.57,3359.13 L822.36,3353.87 L825.16,3348.62 L827.95,3343.39 L830.75,3338.17 L833.54,3332.97 L836.34,3327.79 L839.13,3322.62 L841.93,3317.47 L844.72,3312.34 L847.52,3307.23 L850.31,3302.14 L853.11,3297.07 L855.9,3292.02 L858.7,3286.99 L861.49,3281.98 L864.29,3277 L867.08,3272.04 L869.87,3267.11 L872.67,3262.2 L875.46,3257.31 L878.26,3252.46 L881.05,3247.63 L883.85,3242.82 L886.64,3238.05 L889.44,3233.31 L892.23,3228.59 L895.03,3223.91 L897.82,3219.26 L900.62,3214.63 L903.41,3210.05 L906.21,3205.49 L909,3200.97 L911.8,3196.48 L914.59,3192.03 L917.39,3187.62 L920.18,3183.24 L922.98,3178.9 L925.77,3174.6 L928.57,3170.33 L931.36,3166.11 L934.16,3161.92 L936.95,3157.78 L939.75,3153.67 L942.54,3149.61 L945.33,3145.59 L948.13,3141.61 L950.92,3137.68 L953.72,3133.79 L956.51,3129.95 L959.31,3126.15 L962.1,3122.4 L964.9,3118.69 L967.69,3115.04 L970.49,3111.43 L973.28,3107.87 L976.08,3104.35 L978.87,3100.89 L981.67,3097.48 L984.46,3094.12 L987.26,3090.81 L990.05,3087.55 L992.85,3084.35 L995.64,3081.19 L998.44,3078.1 L1001.23,3075.05 L1004.03,3072.06 L1006.82,3069.13 L1009.62,3066.25 L1012.41,3063.43 L1015.21,3060.66 L1018,3057.95 L1020.8,3055.3 L1023.59,3052.71 L1026.38,3050.18 L1029.18,3047.7 L1031.97,3045.29 L1034.77,3042.93 L1037.56,3040.64 L1040.36,3038.41 L1043.15,3036.23 L1045.95,3034.12 L1048.74,3032.08 L1051.54,3030.09 L1054.33,3028.17 L1057.13,3026.31 L1059.92,3024.51 L1062.72,3022.78 L1065.51,3021.11 L1068.31,3019.51 L1071.1,3017.97 L1073.9,3016.5 L1076.69,3015.09 L1079.49,3013.75 L1082.28,3012.48 L1085.08,3011.27 L1087.87,3010.13 L1090.67,3009.05 L1093.46,3008.04 L1096.26,3007.1 L1099.05,3006.23 L1101.84,3005.43 L1104.64,3004.69 L1107.43,3004.02 L1110.23,3003.42 L1113.02,3002.89 L1115.82,3002.43 L1118.61,3002.04 L1121.41,3001.71 L1124.2,3001.46 L1127,3001.27 L1129.79,3001.16 L1132.59,3001.11 L1135.38,3001.13 L1138.18,3001.22 L1140.97,3001.39 L1143.77,3001.62 L1146.56,3001.92 L1149.36,3002.29 L1152.15,3002.73 L1154.95,3003.24 L1157.74,3003.82 L1160.54,3004.47 L1163.33,3005.19 L1166.13,3005.98 L1168.92,3006.84 L1171.72,3007.77 L1174.51,3008.76 L1177.31,3009.83 L1180.1,3010.96 L1182.89,3012.17 L1185.69,3013.44 L1188.48,3014.78 L1191.28,3016.19 L1194.07,3017.67 L1196.87,3019.22 L1199.66,3020.83 L1202.46,3022.51 L1205.25,3024.26 L1208.05,3026.08 L1210.84,3027.96 L1213.64,3029.91 L1216.43,3031.92 L1219.23,3034.01 L1222.02,3036.15 L1224.82,3038.37 L1227.61,3040.64 L1230.41,3042.99 L1233.2,3045.39 L1236,3047.86 L1238.79,3050.4 L1241.59,3052.99 L1244.38,3055.66 L1247.18,3058.38 L1249.97,3061.16 L1252.77,3064.01 L1255.56,3066.92 L1258.35,3069.88 L1261.15,3072.91 L1263.94,3076 L1266.74,3079.15 L1269.53,3082.35 L1272.33,3085.62 L1275.12,3088.94 L1277.92,3092.32 L1280.71,3095.75 L1283.51,3099.24 L1286.3,3102.79 L1289.1,3106.39 L1291.89,3110.05 L1294.69,3113.76 L1297.48,3117.52 L1300.28,3121.33 L1303.07,3125.2 L1305.87,3129.12 L1308.66,3133.09 L1311.46,3137.11 L1314.25,3141.18 L1317.05,3145.29 L1319.84,3149.46 L1322.64,3153.67 L1325.43,3157.93 L1328.23,3162.23 L1331.02,3166.59 L1333.81,3170.98 L1336.61,3175.42 L1339.4,3179.9 L1342.2,3184.43 L1344.99,3188.99 L1347.79,3193.6 L1350.58,3198.25 L1353.38,3202.93 L1356.17,3207.66 L1358.97,3212.42 L1361.76,3217.22 L1364.56,3222.06 L1367.35,3226.93 L1370.15,3231.84 L1372.94,3236.78 L1375.74,3241.75 L1378.53,3246.76 L1381.33,3251.8 L1384.12,3256.87 L1386.92,3261.97 L1389.71,3267.1 L1392.51,3272.26 L1395.3,3277.44 L1398.1,3282.65 L1400.89,3287.89 L1403.69,3293.16 L1406.48,3298.44 L1409.28,3303.76 L1412.07,3309.09 L1414.86,3314.45 L1417.66,3319.82 L1420.45,3325.22 L1423.25,3330.64 L1426.04,3336.07 L1428.84,3341.53 L1431.63,3347 L1434.43,3352.48 L1437.22,3357.98 L1440.02,3363.5 L1442.81,3369.03 L1445.61,3374.57 L1448.4,3380.13 L1451.2,3385.69 L1453.99,3391.27 L1456.79,3396.86 L1459.58,3402.45 L1462.38,3408.05 L1465.17,3413.66 L1467.97,3419.28 L1470.76,3424.9 L1473.56,3430.53 L1476.35,3436.16 L1479.15,3441.79 L1481.94,3447.43 L1484.74,3453.06 L1487.53,3458.7 L1490.32,3464.34 L1493.12,3469.98 L1495.91,3475.61 L1498.71,3481.25 L1501.5,3486.88 L1504.3,3492.5 L1507.09,3498.12 L1509.89,3503.74 L1512.68,3509.35 L1515.48,3514.96 L1518.27,3520.55 L1521.07,3526.14 L1523.86,3531.72 L1526.66,3537.29 L1529.45,3542.85 L1532.25,3548.4 L1535.04,3553.94 L1537.84,3559.46 L1540.63,3564.97 L1543.43,3570.47 L1546.22,3575.96 L1549.02,3581.42 L1551.81,3586.88 L1554.61,3592.31 L1557.4,3597.74 L1560.2,3603.14 L1562.99,3608.52 L1565.79,3613.89 L1568.58,3619.24 L1571.37,3624.56 L1574.17,3629.87 L1576.96,3635.16" stroke="#d21313"/>
<path d="M470.18,3960.8 L473.01,3957.8 L475.83,3954.77 L478.66,3951.7 L481.49,3948.61 L484.32,3945.47 L487.14,3942.31 L489.97,3939.11 L492.8,3935.88 L495.62,3932.61 L498.45,3929.31 L501.28,3925.98 L504.1,3922.62 L506.93,3919.22 L509.76,3915.79 L512.58,3912.32 L515.41,3908.83 L518.24,3905.3 L521.07,3901.73 L523.89,3898.14 L526.72,3894.51 L529.55,3890.85 L532.37,3887.16 L535.2,3883.44 L538.03,3879.68 L540.85,3875.89 L543.68,3872.07 L546.51,3868.22 L549.34,3864.34 L552.16,3860.43 L554.99,3856.48 L557.82,3852.51 L560.64,3848.5 L563.47,3844.46 L566.3,3840.4 L569.12,3836.3 L571.95,3832.17 L574.78,3828.01 L577.6,3823.83 L580.43,3819.61 L583.26,3815.36 L586.09,3811.09 L588.91,3806.79 L591.74,3802.45 L594.57,3798.09 L597.39,3793.7 L600.22,3789.29 L603.05,3784.84 L605.87,3780.37 L608.7,3775.87 L611.53,3771.35 L614.35,3766.8 L617.18,3762.22 L620.01,3757.62 L622.84,3752.99 L625.66,3748.33 L628.49,3743.65 L631.32,3738.95 L634.14,3734.22 L636.97,3729.46 L639.8,3724.69 L642.62,3719.89 L645.45,3715.06 L648.28,3710.22 L651.1,3705.35 L653.93,3700.45 L656.76,3695.54 L659.59,3690.61 L662.41,3685.65 L665.24,3680.68 L668.07,3675.68 L670.89,3670.67 L673.72,3665.63 L676.55,3660.58 L679.37,3655.5 L682.2,3650.41 L685.03,3645.3 L687.85,3640.18 L690.68,3635.03 L693.51,3629.87 L696.34,3624.7 L699.16,3619.51 L701.99,3614.3 L704.82,3609.08 L707.64,3603.84 L710.47,3598.59 L713.3,3593.33 L716.12,3588.06 L718.95,3582.77 L721.78,3577.47 L724.6,3572.16 L727.43,3566.84 L730.26,3561.51 L733.09,3556.16 L735.91,3550.81 L738.74,3545.45 L741.57,3540.09 L744.39,3534.71 L747.22,3529.33 L750.05,3523.94 L752.87,3518.54 L755.7,3513.14 L758.53,3507.74 L761.35,3502.33 L764.18,3496.91 L767.01,3491.5 L769.84,3486.08 L772.66,3480.65 L775.49,3475.23 L778.32,3469.81 L781.14,3464.38 L783.97,3458.96 L786.8,3453.54 L789.62,3448.12 L792.45,3442.7 L795.28,3437.28 L798.1,3431.87 L800.93,3426.46 L803.76,3421.06 L806.59,3415.66 L809.41,3410.26 L812.24,3404.88 L815.07,3399.5 L817.89,3394.13 L820.72,3388.77 L823.55,3383.41 L826.37,3378.07 L829.2,3372.74 L832.03,3367.42 L834.85,3362.11 L837.68,3356.81 L840.51,3351.52 L843.34,3346.25 L846.16,3341 L848.99,3335.76 L851.82,3330.54 L854.64,3325.33 L857.47,3320.14 L860.3,3314.97 L863.12,3309.81 L865.95,3304.68 L868.78,3299.56 L871.61,3294.47 L874.43,3289.4 L877.26,3284.35 L880.09,3279.32 L882.91,3274.32 L885.74,3269.34 L888.57,3264.39 L891.39,3259.46 L894.22,3254.55 L897.05,3249.68 L899.87,3244.83 L902.7,3240.01 L905.53,3235.22 L908.36,3230.46 L911.18,3225.74 L914.01,3221.04 L916.84,3216.37 L919.66,3211.74 L922.49,3207.14 L925.32,3202.57 L928.14,3198.04 L930.97,3193.54 L933.8,3189.08 L936.62,3184.66 L939.45,3180.28 L942.28,3175.93 L945.11,3171.62 L947.93,3167.35 L950.76,3163.12 L953.59,3158.93 L956.41,3154.79 L959.24,3150.68 L962.07,3146.62 L964.89,3142.6 L967.72,3138.63 L970.55,3134.7 L973.37,3130.82 L976.2,3126.98 L979.03,3123.19 L981.86,3119.45 L984.68,3115.75 L987.51,3112.11 L990.34,3108.51 L993.16,3104.96 L995.99,3101.46 L998.82,3098.02 L1001.64,3094.62 L1004.47,3091.28 L1007.3,3087.99 L1010.12,3084.76 L1012.95,3081.57 L1015.78,3078.45 L1018.61,3075.37 L1021.43,3072.36 L1024.26,3069.4 L1027.09,3066.49 L1029.91,3063.65 L1032.74,3060.86 L1035.57,3058.13 L1038.39,3055.46 L1041.22,3052.85 L1044.05,3050.29 L1046.87,3047.8 L1049.7,3045.37 L1052.53,3043 L1055.36,3040.69 L1058.18,3038.45 L1061.01,3036.26 L1063.84,3034.14 L1066.66,3032.09 L1069.49,3030.09 L1072.32,3028.17 L1075.14,3026.3 L1077.97,3024.5 L1080.8,3022.77 L1083.62,3021.1 L1086.45,3019.5 L1089.28,3017.97 L1092.11,3016.5 L1094.93,3015.1 L1097.76,3013.76 L1100.59,3012.5 L1103.41,3011.3 L1106.24,3010.17 L1109.07,3009.11 L1111.89,3008.12 L1114.72,3007.19 L1117.55,3006.34 L1120.37,3005.55 L1123.2,3004.84 L1126.03,3004.2 L1128.86,3003.62 L1131.68,3003.12 L1134.51,3002.68 L1137.34,3002.32 L1140.16,3002.03 L1142.99,3001.81 L1145.82,3001.66 L1148.64,3001.58 L1151.47,3001.57 L1154.3,3001.63 L1157.12,3001.77 L1159.95,3001.98 L1162.78,3002.25 L1165.61,3002.6 L1168.43,3003.02 L1171.26,3003.51 L1174.09,3004.08 L1176.91,3004.71 L1179.74,3005.42 L1182.57,3006.2 L1185.39,3007.05 L1188.22,3007.97 L1191.05,3008.96 L1193.88,3010.02 L1196.7,3011.15 L1199.53,3012.36 L1202.36,3013.63 L1205.18,3014.98 L1208.01,3016.39 L1210.84,3017.88 L1213.66,3019.43 L1216.49,3021.06 L1219.32,3022.75 L1222.14,3024.51 L1224.97,3026.35 L1227.8,3028.25 L1230.63,3030.22 L1233.45,3032.26 L1236.28,3034.36 L1239.11,3036.53 L1241.93,3038.78 L1244.76,3041.08 L1247.59,3043.46 L1250.41,3045.9 L1253.24,3048.4 L1256.07,3050.97 L1258.89,3053.61 L1261.72,3056.31 L1264.55,3059.08 L1267.38,3061.91 L1270.2,3064.8 L1273.03,3067.75 L1275.86,3070.77 L1278.68,3073.85 L1281.51,3076.99 L1284.34,3080.19 L1287.16,3083.46 L1289.99,3086.78 L1292.82,3090.16 L1295.64,3093.6 L1298.47,3097.1 L1301.3,3100.65 L1304.13,3104.27 L1306.95,3107.93 L1309.78,3111.66 L1312.61,3115.44 L1315.43,3119.27 L1318.26,3123.16 L1321.09,3127.11 L1323.91,3131.1 L1326.74,3135.15 L1329.57,3139.25 L1332.39,3143.39 L1335.22,3147.59 L1338.05,3151.84 L1340.88,3156.14 L1343.7,3160.48 L1346.53,3164.87 L1349.36,3169.31 L1352.18,3173.8 L1355.01,3178.32 L1357.84,3182.9 L1360.66,3187.51 L1363.49,3192.17 L1366.32,3196.87 L1369.14,3201.62 L1371.97,3206.4 L1374.8,3211.22 L1377.63,3216.08 L1380.45,3220.98 L1383.28,3225.91 L1386.11,3230.89 L1388.93,3235.89 L1391.76,3240.94 L1394.59,3246.01 L1397.41,3251.12 L1400.24,3256.26 L1403.07,3261.43 L1405.89,3266.64 L1408.72,3271.87 L1411.55,3277.13 L1414.38,3282.42 L1417.2,3287.74 L1420.03,3293.08 L1422.86,3298.45 L1425.68,3303.84 L1428.51,3309.26 L1431.34,3314.7 L1434.16,3320.16 L1436.99,3325.64 L1439.82,3331.14 L1442.64,3336.67 L1445.47,3342.21 L1448.3,3347.76 L1451.13,3353.34 L1453.95,3358.93 L1456.78,3364.54 L1459.61,3370.16 L1462.43,3375.79 L1465.26,3381.43 L1468.09,3387.09 L1470.91,3392.76 L1473.74,3398.44 L1476.57,3404.13 L1479.39,3409.82 L1482.22,3415.52 L1485.05,3421.23 L1487.88,3426.95 L1490.7,3432.67 L1493.53,3438.39 L1496.36,3444.12 L1499.18,3449.84 L1502.01,3455.57 L1504.84,3461.31 L1507.66,3467.04 L1510.49,3472.77 L1513.32,3478.49 L1516.15,3484.22 L1518.97,3489.94 L1521.8,3495.66 L1524.63,3501.37 L1527.45,3507.08 L1530.28,3512.78 L1533.11,3518.47 L1535.93,3524.16 L1538.76,3529.84 L1541.59,3535.5 L1544.41,3541.16 L1547.24,3546.81 L1550.07,3552.44 L1552.9,3558.07 L1555.72,3563.67 L1558.55,3569.27 L1561.38,3574.85 L1564.2,3580.42 L1567.03,3585.97 L1569.86,3591.5 L1572.68,3597.02 L1575.51,3602.52 L1578.34,3608 L1581.16,3613.46 L1583.99,3618.9 L1586.82,3624.32 L1589.65,3629.72 L1592.47,3635.1 L1595.3,3640.46 L1598.13,3645.79" stroke="#2decec" stroke-opacity="0.75"/>
<path d="M458.56,3956.22 L461.35,3953.14 L464.14,3950.02 L466.92,3946.86 L469.71,3943.67 L472.5,3940.45 L475.28,3937.19 L478.07,3933.91 L480.86,3930.58 L483.64,3927.23 L486.43,3923.84 L489.22,3920.42 L492,3916.96 L494.79,3913.47 L497.57,3909.95 L500.36,3906.4 L503.15,3902.81 L505.93,3899.19 L508.72,3895.54 L511.51,3891.85 L514.29,3888.14 L517.08,3884.39 L519.87,3880.61 L522.65,3876.8 L525.44,3872.95 L528.23,3869.08 L531.01,3865.17 L533.8,3861.23 L536.58,3857.26 L539.37,3853.26 L542.16,3849.23 L544.94,3845.17 L547.73,3841.08 L550.52,3836.96 L553.3,3832.81 L556.09,3828.63 L558.88,3824.42 L561.66,3820.18 L564.45,3815.91 L567.24,3811.61 L570.02,3807.29 L572.81,3802.93 L575.59,3798.55 L578.38,3794.14 L581.17,3789.7 L583.95,3785.24 L586.74,3780.75 L589.53,3776.23 L592.31,3771.68 L595.1,3767.11 L597.89,3762.51 L600.67,3757.89 L603.46,3753.24 L606.25,3748.57 L609.03,3743.87 L611.82,3739.15 L614.6,3734.4 L617.39,3729.63 L620.18,3724.84 L622.96,3720.02 L625.75,3715.18 L628.54,3710.32 L631.32,3705.43 L634.11,3700.53 L636.9,3695.6 L639.68,3690.65 L642.47,3685.68 L645.26,3680.69 L648.04,3675.68 L650.83,3670.66 L653.61,3665.61 L656.4,3660.54 L659.19,3655.46 L661.97,3650.35 L664.76,3645.24 L667.55,3640.1 L670.33,3634.95 L673.12,3629.78 L675.91,3624.59 L678.69,3619.39 L681.48,3614.18 L684.27,3608.95 L687.05,3603.7 L689.84,3598.45 L692.62,3593.18 L695.41,3587.9 L698.2,3582.6 L700.98,3577.3 L703.77,3571.98 L706.56,3566.66 L709.34,3561.32 L712.13,3555.98 L714.92,3550.62 L717.7,3545.26 L720.49,3539.89 L723.28,3534.51 L726.06,3529.13 L728.85,3523.74 L731.63,3518.34 L734.42,3512.94 L737.21,3507.53 L739.99,3502.12 L742.78,3496.71 L745.57,3491.29 L748.35,3485.87 L751.14,3480.45 L753.93,3475.03 L756.71,3469.61 L759.5,3464.19 L762.29,3458.76 L765.07,3453.34 L767.86,3447.93 L770.64,3442.51 L773.43,3437.1 L776.22,3431.69 L779,3426.28 L781.79,3420.88 L784.58,3415.49 L787.36,3410.1 L790.15,3404.72 L792.94,3399.34 L795.72,3393.97 L798.51,3388.62 L801.3,3383.27 L804.08,3377.93 L806.87,3372.6 L809.65,3367.29 L812.44,3361.98 L815.23,3356.69 L818.01,3351.41 L820.8,3346.15 L823.59,3340.89 L826.37,3335.66 L829.16,3330.44 L831.95,3325.24 L834.73,3320.05 L837.52,3314.88 L840.31,3309.74 L843.09,3304.61 L845.88,3299.5 L848.66,3294.41 L851.45,3289.34 L854.24,3284.29 L857.02,3279.27 L859.81,3274.27 L862.6,3269.29 L865.38,3264.34 L868.17,3259.42 L870.96,3254.52 L873.74,3249.64 L876.53,3244.8 L879.31,3239.98 L882.1,3235.19 L884.89,3230.43 L887.67,3225.7 L890.46,3221 L893.25,3216.33 L896.03,3211.7 L898.82,3207.1 L901.61,3202.53 L904.39,3197.99 L907.18,3193.49 L909.97,3189.03 L912.75,3184.6 L915.54,3180.21 L918.32,3175.85 L921.11,3171.54 L923.9,3167.26 L926.68,3163.02 L929.47,3158.83 L932.26,3154.67 L935.04,3150.55 L937.83,3146.48 L940.62,3142.45 L943.4,3138.46 L946.19,3134.52 L948.98,3130.62 L951.76,3126.77 L954.55,3122.96 L957.33,3119.2 L960.12,3115.48 L962.91,3111.82 L965.69,3108.2 L968.48,3104.63 L971.27,3101.11 L974.05,3097.64 L976.84,3094.22 L979.63,3090.85 L982.41,3087.53 L985.2,3084.26 L987.99,3081.05 L990.77,3077.89 L993.56,3074.79 L996.34,3071.74 L999.13,3068.74 L1001.92,3065.8 L1004.7,3062.92 L1007.49,3060.09 L1010.28,3057.32 L1013.06,3054.61 L1015.85,3051.95 L1018.64,3049.35 L1021.42,3046.82 L1024.21,3044.34 L1027,3041.92 L1029.78,3039.56 L1032.57,3037.26 L1035.35,3035.03 L1038.14,3032.85 L1040.93,3030.74 L1043.71,3028.69 L1046.5,3026.7 L1049.29,3024.78 L1052.07,3022.91 L1054.86,3021.12 L1057.65,3019.38 L1060.43,3017.72 L1063.22,3016.11 L1066.01,3014.57 L1068.79,3013.1 L1071.58,3011.69 L1074.36,3010.35 L1077.15,3009.08 L1079.94,3007.87 L1082.72,3006.73 L1085.51,3005.66 L1088.3,3004.65 L1091.08,3003.71 L1093.87,3002.84 L1096.66,3002.04 L1099.44,3001.3 L1102.23,3000.64 L1105.02,3000.04 L1107.8,2999.51 L1110.59,2999.05 L1113.37,2998.66 L1116.16,2998.34 L1118.95,2998.09 L1121.73,2997.91 L1124.52,2997.8 L1127.31,2997.76 L1130.09,2997.78 L1132.88,2997.88 L1135.67,2998.05 L1138.45,2998.28 L1141.24,2998.59 L1144.03,2998.97 L1146.81,2999.41 L1149.6,2999.93 L1152.38,3000.51 L1155.17,3001.17 L1157.96,3001.89 L1160.74,3002.69 L1163.53,3003.55 L1166.32,3004.49 L1169.1,3005.49 L1171.89,3006.57 L1174.68,3007.71 L1177.46,3008.92 L1180.25,3010.2 L1183.04,3011.55 L1185.82,3012.97 L1188.61,3014.45 L1191.39,3016.01 L1194.18,3017.63 L1196.97,3019.32 L1199.75,3021.08 L1202.54,3022.9 L1205.33,3024.79 L1208.11,3026.75 L1210.9,3028.77 L1213.69,3030.87 L1216.47,3033.02 L1219.26,3035.24 L1222.05,3037.53 L1224.83,3039.88 L1227.62,3042.3 L1230.4,3044.78 L1233.19,3047.32 L1235.98,3049.93 L1238.76,3052.6 L1241.55,3055.33 L1244.34,3058.13 L1247.12,3060.99 L1249.91,3063.9 L1252.7,3066.88 L1255.48,3069.92 L1258.27,3073.02 L1261.06,3076.18 L1263.84,3079.39 L1266.63,3082.67 L1269.41,3086 L1272.2,3089.39 L1274.99,3092.84 L1277.77,3096.34 L1280.56,3099.9 L1283.35,3103.51 L1286.13,3107.18 L1288.92,3110.9 L1291.71,3114.68 L1294.49,3118.5 L1297.28,3122.38 L1300.07,3126.31 L1302.85,3130.29 L1305.64,3134.32 L1308.42,3138.4 L1311.21,3142.53 L1314,3146.71 L1316.78,3150.94 L1319.57,3155.21 L1322.36,3159.52 L1325.14,3163.89 L1327.93,3168.29 L1330.72,3172.75 L1333.5,3177.24 L1336.29,3181.78 L1339.08,3186.36 L1341.86,3190.98 L1344.65,3195.64 L1347.43,3200.33 L1350.22,3205.07 L1353.01,3209.85 L1355.79,3214.66 L1358.58,3219.51 L1361.37,3224.4 L1364.15,3229.32 L1366.94,3234.27 L1369.73,3239.26 L1372.51,3244.28 L1375.3,3249.33 L1378.08,3254.41 L1380.87,3259.53 L1383.66,3264.67 L1386.44,3269.84 L1389.23,3275.04 L1392.02,3280.26 L1394.8,3285.51 L1397.59,3290.79 L1400.38,3296.09 L1403.16,3301.41 L1405.95,3306.76 L1408.74,3312.13 L1411.52,3317.52 L1414.31,3322.93 L1417.09,3328.36 L1419.88,3333.81 L1422.67,3339.27 L1425.45,3344.76 L1428.24,3350.26 L1431.03,3355.77 L1433.81,3361.3 L1436.6,3366.84 L1439.39,3372.4 L1442.17,3377.96 L1444.96,3383.54 L1447.75,3389.13 L1450.53,3394.73 L1453.32,3400.34 L1456.1,3405.95 L1458.89,3411.58 L1461.68,3417.2 L1464.46,3422.84 L1467.25,3428.48 L1470.04,3434.12 L1472.82,3439.77 L1475.61,3445.41 L1478.4,3451.06 L1481.18,3456.71 L1483.97,3462.36 L1486.76,3468.01 L1489.54,3473.66 L1492.33,3479.31 L1495.11,3484.95 L1497.9,3490.59 L1500.69,3496.22 L1503.47,3501.85 L1506.26,3507.48 L1509.05,3513.09 L1511.83,3518.7 L1514.62,3524.3 L1517.41,3529.89 L1520.19,3535.48 L1522.98,3541.05 L1525.77,3546.61 L1528.55,3552.16 L1531.34,3557.7 L1534.12,3563.22 L1536.91,3568.73 L1539.7,3574.23 L1542.48,3579.71 L1545.27,3585.17 L1548.06,3590.62 L1550.84,3596.05 L1553.63,3601.47 L1556.42,3606.86 L1559.2,3612.24 L1561.99,3617.6 L1564.78,3622.94 L1567.56,3628.26 L1570.35,3633.56" stroke="#da1ada"/>
<path d="M476.91,3961.11 L479.75,3958.15 L482.58,3955.15 L485.41,3952.12 L488.24,3949.05 L491.07,3945.95 L493.9,3942.82 L496.73,3939.65 L499.56,3936.45 L502.4,3933.22 L505.23,3929.96 L508.06,3926.66 L510.89,3923.33 L513.72,3919.97 L516.55,3916.57 L519.38,3913.14 L522.21,3909.68 L525.04,3906.18 L527.88,3902.66 L530.71,3899.1 L533.54,3895.51 L536.37,3891.88 L539.2,3888.23 L542.03,3884.54 L544.86,3880.82 L547.69,3877.07 L550.52,3873.29 L553.36,3869.47 L556.19,3865.63 L559.02,3861.75 L561.85,3857.84 L564.68,3853.91 L567.51,3849.94 L570.34,3845.94 L573.17,3841.91 L576.01,3837.85 L578.84,3833.76 L581.67,3829.64 L584.5,3825.49 L587.33,3821.31 L590.16,3817.1 L592.99,3812.86 L595.82,3808.6 L598.65,3804.3 L601.49,3799.98 L604.32,3795.63 L607.15,3791.25 L609.98,3786.84 L612.81,3782.41 L615.64,3777.94 L618.47,3773.46 L621.3,3768.94 L624.13,3764.4 L626.97,3759.83 L629.8,3755.24 L632.63,3750.62 L635.46,3745.98 L638.29,3741.31 L641.12,3736.61 L643.95,3731.89 L646.78,3727.15 L649.62,3722.39 L652.45,3717.6 L655.28,3712.79 L658.11,3707.95 L660.94,3703.09 L663.77,3698.21 L666.6,3693.31 L669.43,3688.39 L672.26,3683.45 L675.1,3678.49 L677.93,3673.5 L680.76,3668.5 L683.59,3663.48 L686.42,3658.43 L689.25,3653.37 L692.08,3648.3 L694.91,3643.2 L697.74,3638.09 L700.58,3632.96 L703.41,3627.81 L706.24,3622.65 L709.07,3617.47 L711.9,3612.27 L714.73,3607.07 L717.56,3601.84 L720.39,3596.61 L723.22,3591.36 L726.06,3586.1 L728.89,3580.82 L731.72,3575.54 L734.55,3570.24 L737.38,3564.93 L740.21,3559.61 L743.04,3554.28 L745.87,3548.95 L748.71,3543.6 L751.54,3538.25 L754.37,3532.88 L757.2,3527.51 L760.03,3522.14 L762.86,3516.76 L765.69,3511.37 L768.52,3505.98 L771.35,3500.58 L774.19,3495.18 L777.02,3489.78 L779.85,3484.37 L782.68,3478.96 L785.51,3473.55 L788.34,3468.14 L791.17,3462.73 L794,3457.32 L796.83,3451.91 L799.67,3446.5 L802.5,3441.1 L805.33,3435.69 L808.16,3430.3 L810.99,3424.9 L813.82,3419.51 L816.65,3414.12 L819.48,3408.74 L822.32,3403.37 L825.15,3398 L827.98,3392.65 L830.81,3387.3 L833.64,3381.96 L836.47,3376.63 L839.3,3371.31 L842.13,3366 L844.96,3360.7 L847.8,3355.42 L850.63,3350.15 L853.46,3344.89 L856.29,3339.65 L859.12,3334.42 L861.95,3329.21 L864.78,3324.01 L867.61,3318.83 L870.44,3313.67 L873.28,3308.53 L876.11,3303.41 L878.94,3298.31 L881.77,3293.23 L884.6,3288.17 L887.43,3283.13 L890.26,3278.12 L893.09,3273.13 L895.93,3268.16 L898.76,3263.22 L901.59,3258.3 L904.42,3253.41 L907.25,3248.55 L910.08,3243.72 L912.91,3238.91 L915.74,3234.13 L918.57,3229.39 L921.41,3224.67 L924.24,3219.98 L927.07,3215.33 L929.9,3210.71 L932.73,3206.12 L935.56,3201.57 L938.39,3197.05 L941.22,3192.57 L944.05,3188.12 L946.89,3183.71 L949.72,3179.34 L952.55,3175 L955.38,3170.7 L958.21,3166.45 L961.04,3162.23 L963.87,3158.06 L966.7,3153.92 L969.53,3149.83 L972.37,3145.78 L975.2,3141.78 L978.03,3137.82 L980.86,3133.9 L983.69,3130.03 L986.52,3126.21 L989.35,3122.43 L992.18,3118.7 L995.02,3115.02 L997.85,3111.39 L1000.68,3107.81 L1003.51,3104.27 L1006.34,3100.79 L1009.17,3097.36 L1012,3093.98 L1014.83,3090.65 L1017.66,3087.37 L1020.5,3084.15 L1023.33,3080.99 L1026.16,3077.87 L1028.99,3074.82 L1031.82,3071.82 L1034.65,3068.87 L1037.48,3065.98 L1040.31,3063.15 L1043.14,3060.38 L1045.98,3057.67 L1048.81,3055.01 L1051.64,3052.42 L1054.47,3049.88 L1057.3,3047.41 L1060.13,3044.99 L1062.96,3042.64 L1065.79,3040.35 L1068.63,3038.12 L1071.46,3035.95 L1074.29,3033.85 L1077.12,3031.81 L1079.95,3029.84 L1082.78,3027.93 L1085.61,3026.08 L1088.44,3024.3 L1091.27,3022.59 L1094.11,3020.94 L1096.94,3019.36 L1099.77,3017.84 L1102.6,3016.39 L1105.43,3015.01 L1108.26,3013.7 L1111.09,3012.45 L1113.92,3011.28 L1116.75,3010.17 L1119.59,3009.13 L1122.42,3008.16 L1125.25,3007.26 L1128.08,3006.43 L1130.91,3005.67 L1133.74,3004.97 L1136.57,3004.35 L1139.4,3003.8 L1142.24,3003.32 L1145.07,3002.91 L1147.9,3002.57 L1150.73,3002.3 L1153.56,3002.11 L1156.39,3001.98 L1159.22,3001.93 L1162.05,3001.95 L1164.88,3002.03 L1167.72,3002.2 L1170.55,3002.43 L1173.38,3002.73 L1176.21,3003.11 L1179.04,3003.55 L1181.87,3004.07 L1184.7,3004.67 L1187.53,3005.33 L1190.36,3006.06 L1193.2,3006.87 L1196.03,3007.75 L1198.86,3008.69 L1201.69,3009.71 L1204.52,3010.81 L1207.35,3011.97 L1210.18,3013.2 L1213.01,3014.51 L1215.84,3015.88 L1218.68,3017.33 L1221.51,3018.85 L1224.34,3020.43 L1227.17,3022.09 L1230,3023.81 L1232.83,3025.61 L1235.66,3027.47 L1238.49,3029.41 L1241.33,3031.41 L1244.16,3033.48 L1246.99,3035.62 L1249.82,3037.83 L1252.65,3040.1 L1255.48,3042.44 L1258.31,3044.85 L1261.14,3047.33 L1263.97,3049.87 L1266.81,3052.47 L1269.64,3055.14 L1272.47,3057.88 L1275.3,3060.68 L1278.13,3063.55 L1280.96,3066.47 L1283.79,3069.46 L1286.62,3072.52 L1289.45,3075.63 L1292.29,3078.81 L1295.12,3082.05 L1297.95,3085.35 L1300.78,3088.71 L1303.61,3092.13 L1306.44,3095.6 L1309.27,3099.14 L1312.1,3102.73 L1314.94,3106.38 L1317.77,3110.09 L1320.6,3113.85 L1323.43,3117.67 L1326.26,3121.54 L1329.09,3125.47 L1331.92,3129.45 L1334.75,3133.48 L1337.58,3137.56 L1340.42,3141.7 L1343.25,3145.89 L1346.08,3150.12 L1348.91,3154.41 L1351.74,3158.75 L1354.57,3163.13 L1357.4,3167.56 L1360.23,3172.03 L1363.06,3176.56 L1365.9,3181.12 L1368.73,3185.73 L1371.56,3190.39 L1374.39,3195.08 L1377.22,3199.82 L1380.05,3204.6 L1382.88,3209.42 L1385.71,3214.28 L1388.55,3219.18 L1391.38,3224.11 L1394.21,3229.09 L1397.04,3234.1 L1399.87,3239.14 L1402.7,3244.22 L1405.53,3249.33 L1408.36,3254.48 L1411.19,3259.65 L1414.03,3264.86 L1416.86,3270.1 L1419.69,3275.37 L1422.52,3280.66 L1425.35,3285.99 L1428.18,3291.34 L1431.01,3296.72 L1433.84,3302.12 L1436.67,3307.55 L1439.51,3313 L1442.34,3318.47 L1445.17,3323.96 L1448,3329.48 L1450.83,3335.01 L1453.66,3340.57 L1456.49,3346.14 L1459.32,3351.73 L1462.15,3357.33 L1464.99,3362.96 L1467.82,3368.59 L1470.65,3374.24 L1473.48,3379.9 L1476.31,3385.58 L1479.14,3391.26 L1481.97,3396.96 L1484.8,3402.67 L1487.64,3408.38 L1490.47,3414.1 L1493.3,3419.83 L1496.13,3425.57 L1498.96,3431.31 L1501.79,3437.05 L1504.62,3442.8 L1507.45,3448.55 L1510.28,3454.3 L1513.12,3460.05 L1515.95,3465.81 L1518.78,3471.56 L1521.61,3477.31 L1524.44,3483.06 L1527.27,3488.81 L1530.1,3494.55 L1532.93,3500.29 L1535.76,3506.02 L1538.6,3511.74 L1541.43,3517.46 L1544.26,3523.17 L1547.09,3528.87 L1549.92,3534.57 L1552.75,3540.25 L1555.58,3545.92 L1558.41,3551.58 L1561.25,3557.23 L1564.08,3562.87 L1566.91,3568.49 L1569.74,3574.09 L1572.57,3579.69 L1575.4,3585.26 L1578.23,3590.82 L1581.06,3596.37 L1583.89,3601.89 L1586.73,3607.4 L1589.56,3612.89 L1592.39,3618.35 L1595.22,3623.8 L1598.05,3629.23 L1600.88,3634.63 L1603.71,3640.02 L1606.54,3645.38" stroke="#f8f839" stroke-opacity="0.7"/>
</g>
<rect x="963.8" y="3424.6" width="286.7" height="299.9" fill="#ffffff" stroke="#8c8c8c" stroke-width="5.2"/>
<line x1="988.3" y1="3456.7" x2="1115.4" y2="3456.7" stroke="#000000" stroke-width="4.6"/>
<text transform="translate(1126.23 3468.8) scale(1.06 1)" font-family='"Liberation Sans", Arial, Helvetica, sans-serif' font-size="35.6" fill="#1a1a1a" stroke="#1a1a1a" stroke-width="0.6">Array1</text>
<line x1="988.3" y1="3503.74" x2="1115.4" y2="3503.74" stroke="#7f7fb8" stroke-width="4.6"/>
<text transform="translate(1126.23 3515.92) scale(1.06 1)" font-family='"Liberation Sans", Arial, Helvetica, sans-serif' font-size="35.6" fill="#1a1a1a" stroke="#1a1a1a" stroke-width="0.6">Array2</text>
<line x1="988.3" y1="3550.78" x2="1115.4" y2="3550.78" stroke="#d21313" stroke-width="4.6"/>
<text transform="translate(1126.23 3563.04) scale(1.06 1)" font-family='"Liberation Sans", Arial, Helvetica, sans-serif' font-size="35.6" fill="#1a1a1a" stroke="#1a1a1a" stroke-width="0.6">Array3</text>
<line x1="988.3" y1="3597.82" x2="1115.4" y2="3597.82" stroke="#2decec" stroke-width="4.6"/>
<text transform="translate(1126.23 3610.16) scale(1.06 1)" font-family='"Liberation Sans", Arial, Helvetica, sans-serif' font-size="35.6" fill="#1a1a1a" stroke="#1a1a1a" stroke-width="0.6">Array4</text>
<line x1="988.3" y1="3644.86" x2="1115.4" y2="3644.86" stroke="#da1ada" stroke-width="4.6"/>
<text transform="translate(1126.23 3657.28) scale(1.06 1)" font-family='"Liberation Sans", Arial, Helvetica, sans-serif' font-size="35.6" fill="#1a1a1a" stroke="#1a1a1a" stroke-width="0.6">Array5</text>
<line x1="988.3" y1="3691.9" x2="1115.4" y2="3691.9" stroke="#f8f839" stroke-width="4.6"/>
<text transform="translate(1126.23 3704.4) scale(1.06 1)" font-family='"Liberation Sans", Arial, Helvetica, sans-serif' font-size="35.6" fill="#1a1a1a" stroke="#1a1a1a" stroke-width="0.6">Array6</text>
<text transform="translate(226.67 4002.94) scale(1.1 1)" font-family='"Liberation Sans", Arial, Helvetica, sans-serif' font-size="37" fill="#262626" stroke="#262626" stroke-width="0.4">0.01</text>
<text transform="translate(231.73 3892.14) scale(1.1 1)" font-family='"Liberation Sans", Arial, Helvetica, sans-serif' font-size="37" fill="#262626" stroke="#262626" stroke-width="0.4">0.02</text>
<text transform="translate(231.47 3781.34) scale(1.1 1)" font-family='"Liberation Sans", Arial, Helvetica, sans-serif' font-size="37" fill="#262626" stroke="#262626" stroke-width="0.4">0.03</text>
<text transform="translate(230.88 3670.54) scale(1.1 1)" font-family='"Liberation Sans", Arial, Helvetica, sans-serif' font-size="37" fill="#262626" stroke="#262626" stroke-width="0.4">0.04</text>
<text transform="translate(231.4 3559.74) scale(1.1 1)" font-family='"Liberation Sans", Arial, Helvetica, sans-serif' font-size="37" fill="#262626" stroke="#262626" stroke-width="0.4">0.05</text>
<text transform="translate(231.47 3448.94) scale(1.1 1)" font-family='"Liberation Sans", Arial, Helvetica, sans-serif' font-size="37" fill="#262626" stroke="#262626" stroke-width="0.4">0.06</text>
<text transform="translate(231.73 3338.14) scale(1.1 1)" font-family='"Liberation Sans", Arial, Helvetica, sans-serif' font-size="37" fill="#262626" stroke="#262626" stroke-width="0.4">0.07</text>
<text transform="translate(231.45 3227.34) scale(1.1 1)" font-family='"Liberation Sans", Arial, Helvetica, sans-serif' font-size="37" fill="#262626" stroke="#262626" stroke-width="0.4">0.08</text>
<text transform="translate(231.61 3116.54) scale(1.1 1)" font-family='"Liberation Sans", Arial, Helvetica, sans-serif' font-size="37" fill="#262626" stroke="#262626" stroke-width="0.4">0.09</text>
<text transform="translate(249.31 3005.74) scale(1.1 1)" font-family='"Liberation Sans", Arial, Helvetica, sans-serif' font-size="37" fill="#262626" stroke="#262626" stroke-width="0.4">0.1</text>
<text transform="translate(314.08 4041.53) scale(1.1 1)" font-family='"Liberation Sans", Arial, Helvetica, sans-serif' font-size="37" fill="#262626" stroke="#262626" stroke-width="0.4">2</text>
<text transform="translate(482.56 4041.16) scale(1.1 1)" font-family='"Liberation Sans", Arial, Helvetica, sans-serif' font-size="37" fill="#262626" stroke="#262626" stroke-width="0.4">4</text>
<text transform="translate(650.64 4041.53) scale(1.1 1)" font-family='"Liberation Sans", Arial, Helvetica, sans-serif' font-size="37" fill="#262626" stroke="#262626" stroke-width="0.4">6</text>
<text transform="translate(819.13 4041.53) scale(1.1 1)" font-family='"Liberation Sans", Arial, Helvetica, sans-serif' font-size="37" fill="#262626" stroke="#262626" stroke-width="0.4">8</text>
<text transform="translate(977.91 4041.53) scale(1.1 1)" font-family='"Liberation Sans", Arial, Helvetica, sans-serif' font-size="37" fill="#262626" stroke="#262626" stroke-width="0.4">10</text>
<text transform="translate(1146.49 4041.53) scale(1.1 1)" font-family='"Liberation Sans", Arial, Helvetica, sans-serif' font-size="37" fill="#262626" stroke="#262626" stroke-width="0.4">12</text>
<text transform="translate(1314.41 4041.16) scale(1.1 1)" font-family='"Liberation Sans", Arial, Helvetica, sans-serif' font-size="37" fill="#262626" stroke="#262626" stroke-width="0.4">14</text>
<text transform="translate(1483.06 4041.53) scale(1.1 1)" font-family='"Liberation Sans", Arial, Helvetica, sans-serif' font-size="37" fill="#262626" stroke="#262626" stroke-width="0.4">16</text>
<text transform="translate(1651.4 4041.53) scale(1.1 1)" font-family='"Liberation Sans", Arial, Helvetica, sans-serif' font-size="37" fill="#262626" stroke="#262626" stroke-width="0.4">18</text>
<text transform="translate(880.04 2969) scale(1.07 1)" font-family='"Liberation Sans", Arial, Helvetica, sans-serif' font-size="44" font-weight="bold" fill="#000000">12 months</text>
</g>
<text transform="translate(765.92 1305) scale(1.03 1)" font-family='"Liberation Serif", "Times New Roman", serif' font-size="70" fill="#000000">Energy (kWh)</text>
<text transform="translate(937.01 1388) scale(0.97 1)" font-family='"Liberation Serif", "Times New Roman", serif' font-size="70" fill="#000000">(a)</text>
<g clip-path="url(#y1)"><text transform="translate(99.3 1046.73) rotate(-90) scale(1.04 1)" font-family='"Liberation Serif", "Times New Roman", serif' font-size="71.3" fill="#000000">Amplitude (arb. units)</text></g>
<text transform="translate(788.92 2745.8) scale(1.03 1)" font-family='"Liberation Serif", "Times New Roman", serif' font-size="70" fill="#000000">Energy (kWh)</text>
<text transform="translate(958.02 2833.5) scale(0.97 1)" font-family='"Liberation Serif", "Times New Roman", serif' font-size="70" fill="#000000">(b)</text>
<g clip-path="url(#y3)"><text transform="translate(90 2533.52) rotate(-90) scale(1.04 1)" font-family='"Liberation Serif", "Times New Roman", serif' font-size="71.3" fill="#000000">Amplitude (arb. units)</text></g>
<text transform="translate(786.92 4127.8) scale(1.03 1)" font-family='"Liberation Serif", "Times New Roman", serif' font-size="70" fill="#000000">Energy (kWh)</text>
<text transform="translate(959.18 4212.5) scale(0.92 1)" font-family='"Liberation Serif", "Times New Roman", serif' font-size="70" fill="#000000">(c)</text>
<g><text transform="translate(89.3 3937.42) rotate(-90) scale(1.04 1)" font-family='"Liberation Serif", "Times New Roman", serif' font-size="71.3" fill="#000000">Amplitude (arb. units)</text></g>
</svg>
</body></html>
